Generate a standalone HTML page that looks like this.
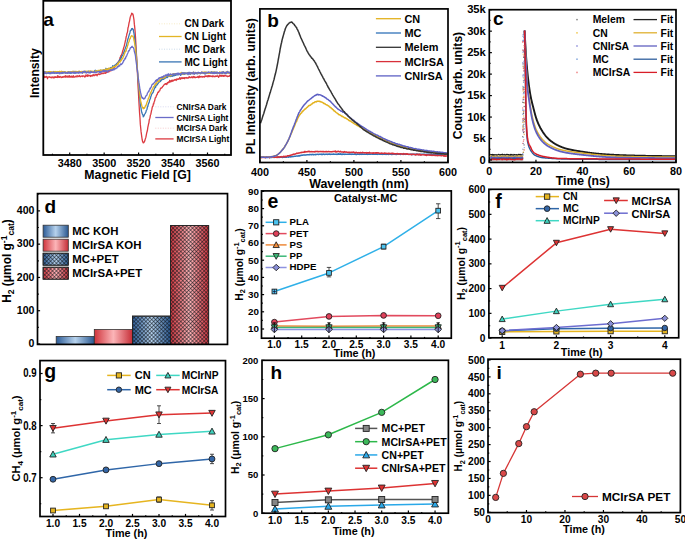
<!DOCTYPE html>
<html><head><meta charset="utf-8"><style>
html,body{margin:0;padding:0;background:#fff;}
svg{display:block;}
text{font-family:"Liberation Sans", sans-serif;fill:#000;}
</style></head><body>
<svg width="685" height="540" viewBox="0 0 685 540">
<rect width="685" height="540" fill="#fff"/>
<path d="M44.1 78.21 L44.47 76.14 L44.85 77.47 L45.22 77.02 L45.59 77.06 L45.96 77.16 L46.34 76.34 L46.71 77.14 L47.08 76.85 L47.46 78.73 L47.83 77.33 L48.2 77.06 L48.58 77.09 L48.95 76.91 L49.32 76.72 L49.69 77.02 L50.07 77.4 L50.44 77.07 L50.81 77.6 L51.19 77.07 L51.56 77.17 L51.93 77.85 L52.3 77.39 L52.68 76.91 L53.05 77.05 L53.42 77.36 L53.8 77.98 L54.17 76.98 L54.54 76.99 L54.92 77.54 L55.29 76.68 L55.66 76.94 L56.03 77.46 L56.41 77.32 L56.78 77.09 L57.15 77.34 L57.53 75.76 L57.9 77.48 L58.27 76.58 L58.64 76.26 L59.02 77.12 L59.39 77.31 L59.76 76.78 L60.14 76.49 L60.51 76.98 L60.88 76.93 L61.26 77.58 L61.63 77.27 L62 77.01 L62.37 77.42 L62.75 76.82 L63.12 76.48 L63.49 77.15 L63.87 77.14 L64.24 76.77 L64.61 76.51 L64.98 76.95 L65.36 75.72 L65.73 77.14 L66.1 77.04 L66.48 76.07 L66.85 76.82 L67.22 76.35 L67.6 77.11 L67.97 75.85 L68.34 76.34 L68.71 77.06 L69.09 77.25 L69.46 75.74 L69.83 76.48 L70.21 76.84 L70.58 76.4 L70.95 77.38 L71.33 76.12 L71.7 76.8 L72.07 76.15 L72.44 77.25 L72.82 76.59 L73.19 76.42 L73.56 75.8 L73.94 77.31 L74.31 76.88 L74.68 76.87 L75.05 77.02 L75.43 76.65 L75.8 76.19 L76.17 76.11 L76.55 76.09 L76.92 77.05 L77.29 75.76 L77.67 76.13 L78.04 76.24 L78.41 76.46 L78.78 76.6 L79.16 75.76 L79.53 75.53 L79.9 76.29 L80.28 76.82 L80.65 76.59 L81.02 76.33 L81.39 76.07 L81.77 76.32 L82.14 76.06 L82.51 76.51 L82.89 75.76 L83.26 76.16 L83.63 76.02 L84.01 76.3 L84.38 76.13 L84.75 77.15 L85.12 76.65 L85.5 76.62 L85.87 75 L86.24 75.74 L86.62 75.59 L86.99 76.08 L87.36 74.78 L87.73 76.31 L88.11 76.23 L88.48 75.13 L88.85 75.24 L89.23 75.29 L89.6 75.63 L89.97 75.87 L90.35 76.46 L90.72 75.42 L91.09 75.81 L91.46 75.5 L91.84 76.18 L92.21 75.68 L92.58 75.92 L92.96 74.78 L93.33 75.13 L93.7 74.8 L94.07 75.8 L94.45 75.37 L94.82 74.88 L95.19 74.77 L95.57 75.13 L95.94 74.54 L96.31 74.38 L96.69 74.96 L97.06 75.79 L97.43 74.51 L97.8 74.31 L98.18 73.96 L98.55 73.82 L98.92 74.59 L99.3 74.66 L99.67 74.2 L100.04 74.27 L100.41 74.09 L100.79 74.02 L101.16 73.18 L101.53 73.57 L101.91 73.74 L102.28 73.24 L102.65 73.27 L103.03 73.02 L103.4 73.13 L103.77 73.55 L104.14 72.87 L104.52 72.86 L104.89 73.17 L105.26 72.96 L105.64 73.3 L106.01 71.45 L106.38 72.63 L106.75 71.88 L107.13 72 L107.5 72.15 L107.87 72.09 L108.25 71.89 L108.62 71.3 L108.99 71.76 L109.37 70.71 L109.74 70.56 L110.11 70.76 L110.48 69.92 L110.86 70.9 L111.23 70.13 L111.6 70.38 L111.98 69.12 L112.35 68.66 L112.72 68.61 L113.09 68.54 L113.47 67.62 L113.84 67.7 L114.21 67.16 L114.59 67.51 L114.96 66.08 L115.33 66.42 L115.71 65.22 L116.08 64.6 L116.45 64.23 L116.82 63.49 L117.2 63.55 L117.57 63.38 L117.94 62.39 L118.32 61.96 L118.69 61.75 L119.06 60.44 L119.44 59.67 L119.81 58.68 L120.18 57.26 L120.55 57.47 L120.93 55.43 L121.3 55.56 L121.67 54.26 L122.05 53.72 L122.42 52.08 L122.79 50.58 L123.16 49.89 L123.54 48.19 L123.91 47.02 L124.28 45.72 L124.66 44.18 L125.03 42.62 L125.4 40.74 L125.78 39.38 L126.15 36.8 L126.52 35.92 L126.89 33.64 L127.27 32.83 L127.64 31.02 L128.01 27.67 L128.39 26.7 L128.76 24.69 L129.13 22.42 L129.5 21.34 L129.88 19.2 L130.25 17.04 L130.62 16.32 L131 15.2 L131.37 14.4 L131.74 13.21 L132.12 13.83 L132.49 14.11 L132.86 13.98 L133.23 15.47 L133.61 17.61 L133.98 19.91 L134.35 24.15 L134.73 27.36 L135.1 31.4 L135.47 36.76 L135.84 42.97 L136.22 50.47 L136.59 56.27 L136.96 63.68 L137.34 71.36 L137.71 78.63 L138.08 86.99 L138.46 92.89 L138.83 100.38 L139.2 106.67 L139.57 112.99 L139.95 117.79 L140.32 124.16 L140.69 127.76 L141.07 131.66 L141.44 134.43 L141.81 137.12 L142.18 139.72 L142.56 141.37 L142.93 142.21 L143.3 142.9 L143.68 142.73 L144.05 142.11 L144.42 141.83 L144.8 140.81 L145.17 139.34 L145.54 138.37 L145.91 137.13 L146.29 135.04 L146.66 133.06 L147.03 131.77 L147.41 130.49 L147.78 127.7 L148.15 125.91 L148.52 124.05 L148.9 122.85 L149.27 119.69 L149.64 118.94 L150.02 117.61 L150.39 115.05 L150.76 114.49 L151.14 112.51 L151.51 110.53 L151.88 109.43 L152.25 107.26 L152.63 106.37 L153 106.18 L153.37 103.74 L153.75 103.81 L154.12 101.83 L154.49 101.25 L154.86 99.8 L155.24 97.8 L155.61 97.63 L155.98 97.09 L156.36 95.64 L156.73 94.75 L157.1 94.76 L157.48 93.57 L157.85 92.4 L158.22 92.19 L158.59 92.25 L158.97 91.04 L159.34 91.1 L159.71 90.81 L160.09 89.62 L160.46 88.59 L160.83 88.03 L161.21 88.15 L161.58 88.12 L161.95 87.42 L162.32 87.15 L162.7 86.32 L163.07 86.29 L163.44 85.59 L163.82 85.32 L164.19 84.56 L164.56 84.13 L164.93 84.32 L165.31 83.76 L165.68 83.56 L166.05 84.03 L166.43 83.43 L166.8 84.55 L167.17 83.43 L167.55 82.5 L167.92 82.93 L168.29 82.53 L168.66 81.87 L169.04 82.49 L169.41 81.46 L169.78 80.26 L170.16 81.82 L170.53 81.03 L170.9 81.82 L171.27 80.71 L171.65 80.32 L172.02 81.41 L172.39 80.1 L172.77 80.54 L173.14 80.98 L173.51 80.26 L173.89 80.05 L174.26 80.02 L174.63 80.25 L175 79.4 L175.38 79.94 L175.75 79.82 L176.12 80.52 L176.5 79.22 L176.87 78.88 L177.24 79.53 L177.61 78.94 L177.99 79.17 L178.36 79.02 L178.73 79.41 L179.11 78.51 L179.48 78.7 L179.85 77.52 L180.23 78.2 L180.6 79.23 L180.97 78.17 L181.34 78.1 L181.72 77.8 L182.09 78.55 L182.46 78.32 L182.84 77.65 L183.21 78.43 L183.58 78.19 L183.95 78.37 L184.33 77.69 L184.7 78.71 L185.07 78.07 L185.45 77.78 L185.82 77.56 L186.19 77.64 L186.57 78.09 L186.94 77.55 L187.31 78.11 L187.68 77.85 L188.06 78.16 L188.43 77.88 L188.8 77.45 L189.18 76.58 L189.55 77.54 L189.92 77.73 L190.29 77.42 L190.67 77.56 L191.04 77.07 L191.41 77.08 L191.79 76.79 L192.16 77.8 L192.53 77.23 L192.91 76.91 L193.28 76.51 L193.65 77.01 L194.02 77.7 L194.4 77.23 L194.77 76.67 L195.14 77.62 L195.52 77.6 L195.89 77.37 L196.26 77.26 L196.63 77.4 L197.01 77.1 L197.38 77.19 L197.75 76.47 L198.13 77.47 L198.5 76.88 L198.87 77.67 L199.25 75.82 L199.62 77.03 L199.99 77.14 L200.36 76.52 L200.74 76.86 L201.11 76.98 L201.48 76.88 L201.86 76.36 L202.23 76.53 L202.6 77.03 L202.97 77.13 L203.35 76.58 L203.72 76.56 L204.09 76.6 L204.47 76.96 L204.84 76 L205.21 75.86 L205.59 76.5 L205.96 75.93 L206.33 76.15 L206.7 76.44 L207.08 76.61 L207.45 75.89 L207.82 76.72 L208.2 75.55 L208.57 76.58 L208.94 75.61 L209.32 75.74 L209.69 76.59 L210.06 76.1 L210.43 75.91 L210.81 76.06 L211.18 76.46 L211.55 76.21 L211.93 76.21 L212.3 76.69 L212.67 75.88 L213.04 75.98 L213.42 75.94 L213.79 76.69 L214.16 76.6 L214.54 76.73 L214.91 76.12 L215.28 76.05 L215.66 76.5 L216.03 75.93 L216.4 76.47 L216.77 76.41 L217.15 75.76 L217.52 76.03 L217.89 76 L218.27 76.83 L218.64 77.2 L219.01 75.98 L219.38 76.02 L219.76 74.98 L220.13 76.09 L220.5 75.99 L220.88 75.5 L221.25 76.33 L221.62 75.26 L222 75.86 L222.37 76.01 L222.74 75.38 L223.11 76.31 L223.49 76.4 L223.86 75.29 L224.23 75.27 L224.61 76.17 L224.98 75.87 L225.35 75.33 L225.72 75.74 L226.1 75.82 L226.47 75.79 L226.84 76.22 L227.22 76.01 L227.59 76.63 L227.96 76.44 L228.34 76.12 L228.71 76.3 L229.08 76.4 L229.45 76.11 L229.83 75.24 L230.2 76.17" fill="none" stroke="#dc3a40" stroke-width="1.3" stroke-linejoin="round" />
<path d="M44.1 72.37 L44.47 72.58 L44.85 73.4 L45.22 72.95 L45.59 71.91 L45.96 72.65 L46.34 72.37 L46.71 72.71 L47.08 71.92 L47.46 72.75 L47.83 72.74 L48.2 73.34 L48.58 72.77 L48.95 72.86 L49.32 71.95 L49.69 73.64 L50.07 71.76 L50.44 73.11 L50.81 72.47 L51.19 72.22 L51.56 72.31 L51.93 72.3 L52.3 72.77 L52.68 72.55 L53.05 73.26 L53.42 71.77 L53.8 72.59 L54.17 72.19 L54.54 72.93 L54.92 71.63 L55.29 72.42 L55.66 72.67 L56.03 71.9 L56.41 73.01 L56.78 72.64 L57.15 73.01 L57.53 72.99 L57.9 72.11 L58.27 72.19 L58.64 72.45 L59.02 72.88 L59.39 72.92 L59.76 72.22 L60.14 72.26 L60.51 72.17 L60.88 72.26 L61.26 72.41 L61.63 72.45 L62 73.44 L62.37 72.28 L62.75 72.37 L63.12 72.7 L63.49 72.06 L63.87 72.32 L64.24 72.49 L64.61 72.83 L64.98 71.88 L65.36 73.08 L65.73 72.3 L66.1 72.53 L66.48 72.83 L66.85 72.74 L67.22 72.92 L67.6 72.51 L67.97 72.42 L68.34 72.57 L68.71 71.97 L69.09 72.96 L69.46 72.06 L69.83 71.83 L70.21 73.32 L70.58 72.32 L70.95 71.85 L71.33 73.21 L71.7 72.22 L72.07 72.84 L72.44 71.98 L72.82 72.23 L73.19 71.58 L73.56 71.47 L73.94 71.88 L74.31 72.28 L74.68 72.66 L75.05 73.39 L75.43 71.82 L75.8 72.73 L76.17 72 L76.55 72.19 L76.92 71.58 L77.29 71.58 L77.67 71.88 L78.04 71.68 L78.41 72.21 L78.78 71.88 L79.16 72.75 L79.53 72.25 L79.9 72.24 L80.28 72.67 L80.65 72.38 L81.02 72.12 L81.39 72.08 L81.77 72.05 L82.14 72.58 L82.51 72.43 L82.89 72.23 L83.26 72.41 L83.63 71.8 L84.01 72.26 L84.38 71.38 L84.75 72.6 L85.12 72.02 L85.5 72.05 L85.87 72.22 L86.24 71.93 L86.62 71.8 L86.99 72.43 L87.36 71.93 L87.73 71.44 L88.11 72.03 L88.48 71.05 L88.85 72.54 L89.23 71.7 L89.6 71.77 L89.97 72.75 L90.35 72.68 L90.72 71.74 L91.09 71.94 L91.46 72.12 L91.84 72.37 L92.21 71.52 L92.58 71.62 L92.96 72.08 L93.33 71.62 L93.7 71.81 L94.07 71.71 L94.45 70.89 L94.82 70.98 L95.19 70.15 L95.57 71.18 L95.94 71.87 L96.31 70.73 L96.69 71.74 L97.06 71.6 L97.43 71.08 L97.8 71.06 L98.18 71.06 L98.55 70.59 L98.92 70.8 L99.3 70.86 L99.67 71.1 L100.04 71.13 L100.41 70.38 L100.79 71.03 L101.16 70.25 L101.53 70.47 L101.91 70.64 L102.28 70.4 L102.65 70.29 L103.03 70.4 L103.4 69.95 L103.77 69.83 L104.14 69.95 L104.52 70.4 L104.89 69.83 L105.26 70.65 L105.64 69.79 L106.01 68.26 L106.38 69.3 L106.75 70.15 L107.13 69.29 L107.5 68.98 L107.87 68.66 L108.25 69.53 L108.62 69.26 L108.99 68.97 L109.37 68.72 L109.74 69.03 L110.11 68.6 L110.48 67.52 L110.86 68.25 L111.23 67.8 L111.6 67.5 L111.98 67.7 L112.35 67.17 L112.72 65.62 L113.09 67.42 L113.47 66.96 L113.84 66.19 L114.21 65.83 L114.59 65.83 L114.96 64.87 L115.33 65.29 L115.71 64.74 L116.08 64.36 L116.45 63.76 L116.82 63.52 L117.2 63.94 L117.57 63.65 L117.94 62.86 L118.32 62.17 L118.69 61.33 L119.06 61.56 L119.44 61.45 L119.81 59.46 L120.18 60.15 L120.55 58.05 L120.93 58.24 L121.3 57.9 L121.67 56.42 L122.05 55.62 L122.42 55.61 L122.79 55.11 L123.16 53.66 L123.54 53.58 L123.91 51.69 L124.28 51.86 L124.66 50.1 L125.03 49.08 L125.4 48.15 L125.78 46.86 L126.15 46.36 L126.52 45.29 L126.89 43.28 L127.27 41.67 L127.64 39.9 L128.01 38.76 L128.39 37.78 L128.76 36.41 L129.13 35.14 L129.5 33.92 L129.88 32.95 L130.25 31.03 L130.62 30.21 L131 30.35 L131.37 29.59 L131.74 28.56 L132.12 29.24 L132.49 28.51 L132.86 29.21 L133.23 29.39 L133.61 31.91 L133.98 33.28 L134.35 36.01 L134.73 38.57 L135.1 41.5 L135.47 45.21 L135.84 49.78 L136.22 53.68 L136.59 58.51 L136.96 63.69 L137.34 69.27 L137.71 74.48 L138.08 79.69 L138.46 83.47 L138.83 88.58 L139.2 91.99 L139.57 96.54 L139.95 99.98 L140.32 104 L140.69 106.39 L141.07 108.41 L141.44 110.97 L141.81 112.56 L142.18 113.58 L142.56 114.54 L142.93 114.87 L143.3 116.85 L143.68 115.71 L144.05 115.88 L144.42 114.51 L144.8 113.95 L145.17 113.62 L145.54 112.75 L145.91 112.2 L146.29 110.34 L146.66 109.92 L147.03 109.21 L147.41 106.93 L147.78 106.56 L148.15 104.52 L148.52 103.91 L148.9 102.74 L149.27 102.2 L149.64 99.97 L150.02 99.25 L150.39 98.57 L150.76 96.53 L151.14 96.05 L151.51 94.69 L151.88 93.83 L152.25 93.55 L152.63 92.7 L153 92.72 L153.37 91.39 L153.75 90.59 L154.12 89.21 L154.49 88.46 L154.86 88 L155.24 86.28 L155.61 87.45 L155.98 85.83 L156.36 85.11 L156.73 84.85 L157.1 84.96 L157.48 84.65 L157.85 83.46 L158.22 83.4 L158.59 82.76 L158.97 81.95 L159.34 82.1 L159.71 81.68 L160.09 80.63 L160.46 81.49 L160.83 79.98 L161.21 80.49 L161.58 79.63 L161.95 79.47 L162.32 79.26 L162.7 79.64 L163.07 78.52 L163.44 78.78 L163.82 79.34 L164.19 78.12 L164.56 78.22 L164.93 78.35 L165.31 77.6 L165.68 77.9 L166.05 77.22 L166.43 77.68 L166.8 77.24 L167.17 76.64 L167.55 77.55 L167.92 76.74 L168.29 76.52 L168.66 76.11 L169.04 76.19 L169.41 76.24 L169.78 76.25 L170.16 76.56 L170.53 75.37 L170.9 75.71 L171.27 76.31 L171.65 75.76 L172.02 75.77 L172.39 76.22 L172.77 75.57 L173.14 75.55 L173.51 75.25 L173.89 75.99 L174.26 75.59 L174.63 74.73 L175 75.23 L175.38 74.4 L175.75 75.35 L176.12 75.1 L176.5 74.67 L176.87 74.5 L177.24 73.82 L177.61 74.92 L177.99 74.47 L178.36 74.33 L178.73 74.75 L179.11 74.08 L179.48 74.07 L179.85 73.98 L180.23 73.64 L180.6 75.29 L180.97 74.08 L181.34 73.97 L181.72 74.5 L182.09 72.64 L182.46 74.01 L182.84 73.99 L183.21 73.52 L183.58 74.13 L183.95 72.98 L184.33 73.86 L184.7 74.22 L185.07 72.79 L185.45 73.11 L185.82 73.66 L186.19 73.69 L186.57 73.37 L186.94 73.8 L187.31 73.71 L187.68 72.97 L188.06 73.51 L188.43 72.95 L188.8 72.57 L189.18 72.39 L189.55 73.91 L189.92 73.37 L190.29 74.29 L190.67 72.73 L191.04 73.21 L191.41 73.5 L191.79 73.27 L192.16 73.54 L192.53 73.36 L192.91 73.01 L193.28 72.22 L193.65 72.83 L194.02 74.02 L194.4 73.57 L194.77 73.83 L195.14 72.94 L195.52 73.1 L195.89 72.78 L196.26 73.34 L196.63 73.18 L197.01 73.35 L197.38 73.93 L197.75 72.75 L198.13 73.44 L198.5 72.47 L198.87 73.59 L199.25 72.88 L199.62 73.04 L199.99 73.12 L200.36 73.79 L200.74 73.02 L201.11 72.81 L201.48 72.49 L201.86 73.13 L202.23 72.62 L202.6 72.77 L202.97 72.97 L203.35 73.28 L203.72 72.64 L204.09 73.26 L204.47 73.75 L204.84 72.27 L205.21 73.55 L205.59 73.9 L205.96 72.65 L206.33 73.19 L206.7 72.29 L207.08 73.05 L207.45 72.74 L207.82 73.02 L208.2 72.46 L208.57 72.5 L208.94 72.66 L209.32 72.53 L209.69 72.57 L210.06 72.75 L210.43 72.33 L210.81 72.76 L211.18 73.03 L211.55 71.77 L211.93 72.89 L212.3 72.46 L212.67 72.29 L213.04 72.18 L213.42 72.4 L213.79 72.44 L214.16 72.92 L214.54 72.19 L214.91 73.22 L215.28 72.38 L215.66 73.05 L216.03 73.23 L216.4 72.19 L216.77 73.22 L217.15 73.72 L217.52 72.54 L217.89 73 L218.27 72.68 L218.64 72.78 L219.01 72.66 L219.38 72.51 L219.76 73.07 L220.13 73.14 L220.5 72.74 L220.88 73.42 L221.25 73.23 L221.62 73.05 L222 72.41 L222.37 73.59 L222.74 73.32 L223.11 71.76 L223.49 72.22 L223.86 72.51 L224.23 73.14 L224.61 73.28 L224.98 72.58 L225.35 72.82 L225.72 73.02 L226.1 72.13 L226.47 72.97 L226.84 72.56 L227.22 72.78 L227.59 72.68 L227.96 72.16 L228.34 72.24 L228.71 72.71 L229.08 72.75 L229.45 72.57 L229.83 73.16 L230.2 72.52" fill="none" stroke="#3a76b4" stroke-width="1.3" stroke-linejoin="round" />
<path d="M44.1 71.82 L44.47 71.59 L44.85 72.07 L45.22 72.37 L45.59 72.69 L45.96 72.23 L46.34 71.93 L46.71 71.82 L47.08 72.51 L47.46 72.91 L47.83 72.29 L48.2 71.61 L48.58 71.74 L48.95 72.88 L49.32 72.25 L49.69 71.38 L50.07 72.12 L50.44 71.63 L50.81 71.87 L51.19 71.93 L51.56 71.83 L51.93 72.4 L52.3 72.12 L52.68 71.88 L53.05 72.33 L53.42 72.52 L53.8 71.4 L54.17 72.02 L54.54 71.69 L54.92 72.06 L55.29 71.55 L55.66 72.14 L56.03 72.11 L56.41 71.99 L56.78 71.65 L57.15 71.94 L57.53 71.63 L57.9 71.51 L58.27 72.21 L58.64 71.61 L59.02 72.63 L59.39 72.43 L59.76 71.2 L60.14 72.22 L60.51 71.6 L60.88 72.11 L61.26 72.11 L61.63 71.19 L62 71.98 L62.37 71.97 L62.75 72.51 L63.12 71.54 L63.49 72.4 L63.87 71.57 L64.24 71.91 L64.61 71.68 L64.98 72.71 L65.36 72.31 L65.73 73.14 L66.1 72.33 L66.48 72.42 L66.85 72.42 L67.22 71.76 L67.6 72 L67.97 72.63 L68.34 71.84 L68.71 72.1 L69.09 72 L69.46 72.28 L69.83 71.84 L70.21 71.93 L70.58 72.1 L70.95 72.03 L71.33 71.59 L71.7 72.38 L72.07 71.39 L72.44 71.43 L72.82 71.38 L73.19 72.39 L73.56 71.79 L73.94 71.51 L74.31 71.43 L74.68 72.12 L75.05 71.45 L75.43 71.34 L75.8 72.19 L76.17 71.36 L76.55 71.75 L76.92 71.89 L77.29 71.68 L77.67 71.85 L78.04 72.47 L78.41 71.63 L78.78 71.28 L79.16 71.02 L79.53 71.74 L79.9 71.67 L80.28 71.93 L80.65 71.6 L81.02 71.58 L81.39 71.46 L81.77 71.54 L82.14 71.84 L82.51 71.59 L82.89 71.79 L83.26 72.59 L83.63 71.94 L84.01 71 L84.38 72.48 L84.75 71.84 L85.12 71.25 L85.5 72.07 L85.87 71.66 L86.24 71.36 L86.62 71.34 L86.99 71.16 L87.36 71.61 L87.73 72.06 L88.11 71.41 L88.48 71.73 L88.85 72.37 L89.23 70.96 L89.6 71.61 L89.97 71.34 L90.35 70.98 L90.72 70.98 L91.09 71.41 L91.46 71.59 L91.84 71.14 L92.21 71.38 L92.58 71.66 L92.96 71.44 L93.33 71.68 L93.7 71.47 L94.07 71.45 L94.45 72.03 L94.82 71.46 L95.19 71.21 L95.57 71.44 L95.94 70.68 L96.31 70.91 L96.69 71.39 L97.06 71.28 L97.43 71.66 L97.8 70.94 L98.18 70.24 L98.55 71.73 L98.92 71.31 L99.3 70.3 L99.67 71.36 L100.04 70.71 L100.41 69.83 L100.79 70.41 L101.16 70.32 L101.53 71.22 L101.91 70.1 L102.28 70.28 L102.65 70.22 L103.03 70.11 L103.4 69.81 L103.77 70.26 L104.14 70.58 L104.52 70.31 L104.89 69.54 L105.26 69.37 L105.64 69.86 L106.01 69.41 L106.38 69.36 L106.75 68.8 L107.13 70.35 L107.5 69.79 L107.87 68.84 L108.25 69.59 L108.62 69.68 L108.99 67.89 L109.37 68.6 L109.74 68.55 L110.11 68.89 L110.48 68.41 L110.86 68.22 L111.23 68.16 L111.6 68.87 L111.98 68.84 L112.35 67.47 L112.72 67.12 L113.09 68.56 L113.47 66.72 L113.84 66.7 L114.21 66.77 L114.59 66.75 L114.96 66.76 L115.33 66.23 L115.71 65.4 L116.08 65.76 L116.45 65.36 L116.82 65.79 L117.2 64.63 L117.57 63.71 L117.94 63.49 L118.32 64.25 L118.69 62.97 L119.06 61.86 L119.44 62.13 L119.81 61.94 L120.18 62 L120.55 60.52 L120.93 60.75 L121.3 60.26 L121.67 59.01 L122.05 58.63 L122.42 58.87 L122.79 58.18 L123.16 57.09 L123.54 56.11 L123.91 55.7 L124.28 54.31 L124.66 53.49 L125.03 52.26 L125.4 51.73 L125.78 50.74 L126.15 51.03 L126.52 48.68 L126.89 48.29 L127.27 47.24 L127.64 45.48 L128.01 44.99 L128.39 42.38 L128.76 42.31 L129.13 41.58 L129.5 39.08 L129.88 38.65 L130.25 38.75 L130.62 37.35 L131 36.29 L131.37 36.09 L131.74 35.68 L132.12 36.12 L132.49 36.14 L132.86 36.22 L133.23 36.79 L133.61 38.16 L133.98 40.24 L134.35 41.66 L134.73 44.05 L135.1 46.35 L135.47 48.89 L135.84 52.56 L136.22 56.91 L136.59 60.67 L136.96 64.43 L137.34 68.46 L137.71 73.53 L138.08 77.32 L138.46 81.22 L138.83 85 L139.2 88.86 L139.57 92.2 L139.95 95.56 L140.32 98.3 L140.69 100.91 L141.07 102.76 L141.44 104 L141.81 105.55 L142.18 106.9 L142.56 107.33 L142.93 108.24 L143.3 108.77 L143.68 107.93 L144.05 107.32 L144.42 108.31 L144.8 107.28 L145.17 106.97 L145.54 105.32 L145.91 105.88 L146.29 104.56 L146.66 103.24 L147.03 102.17 L147.41 101.39 L147.78 100.26 L148.15 99.21 L148.52 97.83 L148.9 97.92 L149.27 96.36 L149.64 95.46 L150.02 94.55 L150.39 92.54 L150.76 92.97 L151.14 91.74 L151.51 90.95 L151.88 90.33 L152.25 89.11 L152.63 89.2 L153 87.82 L153.37 87.06 L153.75 86.45 L154.12 86.3 L154.49 85.99 L154.86 84.84 L155.24 83.9 L155.61 84.55 L155.98 83.11 L156.36 83.67 L156.73 82.68 L157.1 81.97 L157.48 81.6 L157.85 81.72 L158.22 81.55 L158.59 80.71 L158.97 80.9 L159.34 81.1 L159.71 79.77 L160.09 79.06 L160.46 78.83 L160.83 78.42 L161.21 78.51 L161.58 78.24 L161.95 77.74 L162.32 78.36 L162.7 76.74 L163.07 77.12 L163.44 78.43 L163.82 77.81 L164.19 77.41 L164.56 77.21 L164.93 77.64 L165.31 76.94 L165.68 76.59 L166.05 75.86 L166.43 76.24 L166.8 75.82 L167.17 75.71 L167.55 75.59 L167.92 75.77 L168.29 75.54 L168.66 75.97 L169.04 74.88 L169.41 75.31 L169.78 76.13 L170.16 75.22 L170.53 75.65 L170.9 75.54 L171.27 75.55 L171.65 75.21 L172.02 74.18 L172.39 74.61 L172.77 74.49 L173.14 73.9 L173.51 74.32 L173.89 73.91 L174.26 73.66 L174.63 74.45 L175 74.28 L175.38 73.94 L175.75 73.77 L176.12 73.9 L176.5 73.92 L176.87 73.87 L177.24 73.98 L177.61 73.77 L177.99 74.1 L178.36 74.12 L178.73 74 L179.11 73.5 L179.48 73.49 L179.85 73.93 L180.23 73.61 L180.6 73.64 L180.97 72.51 L181.34 72.38 L181.72 73.72 L182.09 73.69 L182.46 74.14 L182.84 73.81 L183.21 73.56 L183.58 73.44 L183.95 72.76 L184.33 73.78 L184.7 73.08 L185.07 73.56 L185.45 73.4 L185.82 73.41 L186.19 73.67 L186.57 73.03 L186.94 73.05 L187.31 72.82 L187.68 73.02 L188.06 73.92 L188.43 72.99 L188.8 73.67 L189.18 73.49 L189.55 73.43 L189.92 73.45 L190.29 72.61 L190.67 73.22 L191.04 73.75 L191.41 72.71 L191.79 72.99 L192.16 72.69 L192.53 73.12 L192.91 72.48 L193.28 73.68 L193.65 72.77 L194.02 72.24 L194.4 73.73 L194.77 73.34 L195.14 73.13 L195.52 73.13 L195.89 72.71 L196.26 72.76 L196.63 73.18 L197.01 73.26 L197.38 73.25 L197.75 72.92 L198.13 72.61 L198.5 72.72 L198.87 73.3 L199.25 73.44 L199.62 72.63 L199.99 72.56 L200.36 73.33 L200.74 73.08 L201.11 73.06 L201.48 72.15 L201.86 72.57 L202.23 72.5 L202.6 72.81 L202.97 71.95 L203.35 73.28 L203.72 72.83 L204.09 72.89 L204.47 72.15 L204.84 72.67 L205.21 73.27 L205.59 71.96 L205.96 72.8 L206.33 72.97 L206.7 72.34 L207.08 73.01 L207.45 72.49 L207.82 73.19 L208.2 72.87 L208.57 72.73 L208.94 73.52 L209.32 72.99 L209.69 73.2 L210.06 72.07 L210.43 72.31 L210.81 72.97 L211.18 73 L211.55 72.56 L211.93 72.93 L212.3 72.1 L212.67 72.67 L213.04 72.06 L213.42 72.72 L213.79 72.35 L214.16 72.27 L214.54 72.58 L214.91 73.37 L215.28 72.09 L215.66 72.28 L216.03 73.02 L216.4 72.35 L216.77 73.33 L217.15 72.63 L217.52 72.57 L217.89 72.69 L218.27 73.31 L218.64 72.82 L219.01 72.75 L219.38 72.63 L219.76 71.81 L220.13 72.11 L220.5 73.17 L220.88 72.87 L221.25 72.73 L221.62 72.78 L222 72.25 L222.37 72.65 L222.74 72.09 L223.11 72.66 L223.49 72.16 L223.86 72.39 L224.23 72.69 L224.61 72.33 L224.98 72.77 L225.35 72.68 L225.72 72.63 L226.1 73.07 L226.47 71.8 L226.84 71.75 L227.22 72.74 L227.59 72.89 L227.96 73.37 L228.34 72.8 L228.71 72.83 L229.08 72.06 L229.45 72.79 L229.83 72.75 L230.2 71.97" fill="none" stroke="#e3b525" stroke-width="1.3" stroke-linejoin="round" />
<path d="M44.1 73.39 L44.47 73.71 L44.85 71.76 L45.22 72.85 L45.59 73.36 L45.96 73.51 L46.34 73.2 L46.71 73.58 L47.08 73.03 L47.46 73.15 L47.83 72.98 L48.2 72.41 L48.58 72.51 L48.95 73.06 L49.32 72.63 L49.69 73.46 L50.07 73.46 L50.44 73.69 L50.81 72.87 L51.19 73.5 L51.56 72.47 L51.93 72.5 L52.3 72.9 L52.68 72.99 L53.05 72.14 L53.42 72.08 L53.8 73.02 L54.17 72.47 L54.54 73.4 L54.92 73.03 L55.29 72.99 L55.66 72.94 L56.03 73.25 L56.41 72.77 L56.78 73.33 L57.15 72.6 L57.53 72.73 L57.9 72.52 L58.27 73.1 L58.64 72.84 L59.02 72.43 L59.39 73.72 L59.76 72.65 L60.14 72.76 L60.51 72.99 L60.88 73.59 L61.26 72.74 L61.63 73.12 L62 72.84 L62.37 72.13 L62.75 73.15 L63.12 73.25 L63.49 72.67 L63.87 72.77 L64.24 72.1 L64.61 72.09 L64.98 72.59 L65.36 73.05 L65.73 72.55 L66.1 72.89 L66.48 73.19 L66.85 72.79 L67.22 73 L67.6 73.39 L67.97 72.18 L68.34 73.07 L68.71 71.88 L69.09 72.92 L69.46 72.81 L69.83 72.47 L70.21 72.23 L70.58 72.68 L70.95 72.52 L71.33 72.74 L71.7 72.29 L72.07 72.93 L72.44 72.22 L72.82 72.54 L73.19 72.5 L73.56 73.24 L73.94 71.99 L74.31 72.47 L74.68 73.19 L75.05 72.35 L75.43 72.08 L75.8 72.76 L76.17 72.5 L76.55 73 L76.92 72.2 L77.29 72.7 L77.67 72.9 L78.04 73.06 L78.41 72.09 L78.78 73.23 L79.16 72.17 L79.53 71.89 L79.9 72.13 L80.28 72.63 L80.65 72.4 L81.02 72.74 L81.39 72.76 L81.77 72.67 L82.14 72.4 L82.51 73.32 L82.89 71.5 L83.26 71.71 L83.63 72.25 L84.01 71.91 L84.38 71.31 L84.75 72.1 L85.12 72.11 L85.5 71.33 L85.87 72.81 L86.24 73 L86.62 72.96 L86.99 72.16 L87.36 72.44 L87.73 71.86 L88.11 72.45 L88.48 72.04 L88.85 72.51 L89.23 72.16 L89.6 72.77 L89.97 72.66 L90.35 72.83 L90.72 71.54 L91.09 71.43 L91.46 72.41 L91.84 71.95 L92.21 72.38 L92.58 72.31 L92.96 72.24 L93.33 72.56 L93.7 72.38 L94.07 72.32 L94.45 71.68 L94.82 72.84 L95.19 72.1 L95.57 72.52 L95.94 72.15 L96.31 72.55 L96.69 72.02 L97.06 72.03 L97.43 71.97 L97.8 71.56 L98.18 71.6 L98.55 71.76 L98.92 71.74 L99.3 71.32 L99.67 72.8 L100.04 71.26 L100.41 71.53 L100.79 72.74 L101.16 71.31 L101.53 71.91 L101.91 71.82 L102.28 71.39 L102.65 70.8 L103.03 70.71 L103.4 71.36 L103.77 71.5 L104.14 70.3 L104.52 71.29 L104.89 70.87 L105.26 71.52 L105.64 71.14 L106.01 70.64 L106.38 70.75 L106.75 70.9 L107.13 71.42 L107.5 72.12 L107.87 70.84 L108.25 70.66 L108.62 70.85 L108.99 70.47 L109.37 70.68 L109.74 70.49 L110.11 70.22 L110.48 69.77 L110.86 70.1 L111.23 70.33 L111.6 69.85 L111.98 70.39 L112.35 70.01 L112.72 69.4 L113.09 70.11 L113.47 68.69 L113.84 69.58 L114.21 69.74 L114.59 68.63 L114.96 68.53 L115.33 68.83 L115.71 68.87 L116.08 68.23 L116.45 67.94 L116.82 68.03 L117.2 67.51 L117.57 66.62 L117.94 66.83 L118.32 66.65 L118.69 65.71 L119.06 66.27 L119.44 65.46 L119.81 65.8 L120.18 64.46 L120.55 64.37 L120.93 63.75 L121.3 64.59 L121.67 64.17 L122.05 63.83 L122.42 63.38 L122.79 62.64 L123.16 62.13 L123.54 60.44 L123.91 60.8 L124.28 59.85 L124.66 59.32 L125.03 58.28 L125.4 58.77 L125.78 57.57 L126.15 56.13 L126.52 56.3 L126.89 55.28 L127.27 54.08 L127.64 53.63 L128.01 52.63 L128.39 51.15 L128.76 50.71 L129.13 50.86 L129.5 50.04 L129.88 49.3 L130.25 48 L130.62 47.69 L131 47.5 L131.37 47.4 L131.74 46.47 L132.12 46.29 L132.49 47.37 L132.86 47.18 L133.23 47.51 L133.61 48.12 L133.98 49.2 L134.35 51.53 L134.73 52.86 L135.1 54.13 L135.47 55.93 L135.84 59.67 L136.22 62.29 L136.59 64.98 L136.96 67.81 L137.34 69.68 L137.71 73.02 L138.08 76.73 L138.46 79.18 L138.83 82.14 L139.2 84.37 L139.57 86.72 L139.95 89.48 L140.32 91.04 L140.69 92.97 L141.07 94.59 L141.44 95.85 L141.81 97.29 L142.18 98.18 L142.56 97.52 L142.93 98.39 L143.3 98.41 L143.68 99.06 L144.05 98.12 L144.42 98.7 L144.8 98.3 L145.17 97.8 L145.54 96.57 L145.91 96.32 L146.29 95.29 L146.66 95.29 L147.03 94.84 L147.41 93.01 L147.78 92.6 L148.15 92.17 L148.52 91.28 L148.9 91.48 L149.27 90.04 L149.64 89.53 L150.02 88.25 L150.39 88.79 L150.76 87.54 L151.14 87.21 L151.51 86.31 L151.88 84.75 L152.25 84.44 L152.63 84.06 L153 84.35 L153.37 83.43 L153.75 83.4 L154.12 82.9 L154.49 82.46 L154.86 82.36 L155.24 81.65 L155.61 80.46 L155.98 80.55 L156.36 81.27 L156.73 79.73 L157.1 80.52 L157.48 80.36 L157.85 79.08 L158.22 79.24 L158.59 78.2 L158.97 78.94 L159.34 78.02 L159.71 77.56 L160.09 77.77 L160.46 77.54 L160.83 77.3 L161.21 77.47 L161.58 77.13 L161.95 76.74 L162.32 77.31 L162.7 77.83 L163.07 76.62 L163.44 76.14 L163.82 75.88 L164.19 76.46 L164.56 75.96 L164.93 75.97 L165.31 74.95 L165.68 75.23 L166.05 75.12 L166.43 75.97 L166.8 75.33 L167.17 74.24 L167.55 75.49 L167.92 75.7 L168.29 75.7 L168.66 73.77 L169.04 75.03 L169.41 75.26 L169.78 75.1 L170.16 74.65 L170.53 73.88 L170.9 74.44 L171.27 74.43 L171.65 74.78 L172.02 74.75 L172.39 74.3 L172.77 74.74 L173.14 73.84 L173.51 73.96 L173.89 74.21 L174.26 74.43 L174.63 73.99 L175 74.65 L175.38 74.24 L175.75 73.59 L176.12 74.02 L176.5 73.54 L176.87 73.48 L177.24 73.23 L177.61 74.47 L177.99 74.22 L178.36 73.06 L178.73 74.25 L179.11 74.16 L179.48 73.53 L179.85 73.9 L180.23 74.65 L180.6 73.75 L180.97 73.78 L181.34 74.08 L181.72 73.08 L182.09 72.96 L182.46 72.87 L182.84 73.45 L183.21 73.85 L183.58 73.06 L183.95 72.81 L184.33 73.5 L184.7 73.23 L185.07 73.65 L185.45 73.31 L185.82 73.27 L186.19 73.3 L186.57 73.34 L186.94 72.87 L187.31 72.78 L187.68 73.99 L188.06 74.65 L188.43 73.75 L188.8 72.5 L189.18 73.24 L189.55 73.75 L189.92 72.47 L190.29 72.97 L190.67 72.99 L191.04 72.75 L191.41 72.77 L191.79 73.6 L192.16 72.93 L192.53 73.02 L192.91 73.88 L193.28 72.72 L193.65 72.23 L194.02 73.37 L194.4 73.98 L194.77 73.16 L195.14 73.19 L195.52 72.46 L195.89 72.61 L196.26 73.69 L196.63 73.58 L197.01 73.27 L197.38 72.71 L197.75 72.45 L198.13 72.51 L198.5 72.44 L198.87 73.24 L199.25 72.6 L199.62 72.72 L199.99 73.25 L200.36 73.23 L200.74 72.94 L201.11 73.13 L201.48 72.91 L201.86 72.02 L202.23 72.85 L202.6 72.69 L202.97 72.71 L203.35 72.98 L203.72 72.61 L204.09 73.41 L204.47 72.77 L204.84 72.92 L205.21 72.99 L205.59 72.76 L205.96 73.12 L206.33 73.17 L206.7 73.1 L207.08 72.49 L207.45 72.4 L207.82 72.53 L208.2 72.8 L208.57 71.94 L208.94 72.4 L209.32 72.26 L209.69 72.47 L210.06 72.35 L210.43 73.13 L210.81 72.96 L211.18 73.19 L211.55 72.3 L211.93 72.39 L212.3 72.61 L212.67 73.49 L213.04 73.49 L213.42 72.45 L213.79 73.01 L214.16 73.69 L214.54 72.26 L214.91 72.63 L215.28 73.3 L215.66 73.04 L216.03 72.26 L216.4 73.39 L216.77 73.15 L217.15 73.01 L217.52 72.14 L217.89 72.62 L218.27 73.29 L218.64 72.91 L219.01 73.05 L219.38 72.56 L219.76 73.36 L220.13 72.57 L220.5 73.09 L220.88 72.82 L221.25 72.24 L221.62 73.34 L222 72.1 L222.37 72.33 L222.74 72.72 L223.11 72.02 L223.49 71.84 L223.86 72.6 L224.23 72.45 L224.61 72.52 L224.98 72.87 L225.35 73.66 L225.72 72.45 L226.1 73.73 L226.47 72.74 L226.84 72.58 L227.22 71.4 L227.59 71.93 L227.96 72.73 L228.34 72.86 L228.71 72.23 L229.08 72.74 L229.45 73.01 L229.83 72.34 L230.2 71.86" fill="none" stroke="#6a6cc8" stroke-width="1.3" stroke-linejoin="round" />
<rect x="43.3" y="0.8" width="187.7" height="154.2" fill="none" stroke="#000" stroke-width="1.8"/>
<line x1="69.7" y1="155" x2="69.7" y2="152.5" stroke="#000" stroke-width="1.2" />
<line x1="104.15" y1="155" x2="104.15" y2="152.5" stroke="#000" stroke-width="1.2" />
<line x1="138.6" y1="155" x2="138.6" y2="152.5" stroke="#000" stroke-width="1.2" />
<line x1="173.05" y1="155" x2="173.05" y2="152.5" stroke="#000" stroke-width="1.2" />
<line x1="207.5" y1="155" x2="207.5" y2="152.5" stroke="#000" stroke-width="1.2" />
<line x1="52.48" y1="155" x2="52.48" y2="153.7" stroke="#000" stroke-width="1.2" />
<line x1="86.92" y1="155" x2="86.92" y2="153.7" stroke="#000" stroke-width="1.2" />
<line x1="121.38" y1="155" x2="121.38" y2="153.7" stroke="#000" stroke-width="1.2" />
<line x1="155.82" y1="155" x2="155.82" y2="153.7" stroke="#000" stroke-width="1.2" />
<line x1="190.27" y1="155" x2="190.27" y2="153.7" stroke="#000" stroke-width="1.2" />
<line x1="224.73" y1="155" x2="224.73" y2="153.7" stroke="#000" stroke-width="1.2" />
<text x="69.7" y="166.6" font-size="10.8" text-anchor="middle" font-weight="bold" >3480</text>
<text x="104.15" y="166.6" font-size="10.8" text-anchor="middle" font-weight="bold" >3500</text>
<text x="138.6" y="166.6" font-size="10.8" text-anchor="middle" font-weight="bold" >3520</text>
<text x="173.05" y="166.6" font-size="10.8" text-anchor="middle" font-weight="bold" >3540</text>
<text x="207.5" y="166.6" font-size="10.8" text-anchor="middle" font-weight="bold" >3560</text>
<text x="137.6" y="178.6" font-size="12.3" text-anchor="middle" font-weight="bold" >Magnetic Field [G]</text>
<text transform="translate(38.9,73.2) rotate(-90)" font-size="12.1" text-anchor="middle" font-weight="bold" >Intensity</text>
<text x="43.2" y="26.3" font-size="19" text-anchor="start" font-weight="bold" >a</text>
<line x1="159" y1="23.8" x2="181.6" y2="23.8" stroke="#e3b525" stroke-width="1" stroke-dasharray="1 1.5" opacity="0.25"/>
<text x="184.5" y="27.4" font-size="10" text-anchor="start" font-weight="bold" >CN Dark</text>
<line x1="159" y1="36.5" x2="181.6" y2="36.5" stroke="#e3b525" stroke-width="1.3" />
<text x="184.5" y="40.1" font-size="10" text-anchor="start" font-weight="bold" >CN Light</text>
<line x1="159" y1="49.2" x2="181.6" y2="49.2" stroke="#3a76b4" stroke-width="1" stroke-dasharray="1 1.5" opacity="0.25"/>
<text x="184.5" y="52.8" font-size="10" text-anchor="start" font-weight="bold" >MC Dark</text>
<line x1="159" y1="61.9" x2="181.6" y2="61.9" stroke="#3a76b4" stroke-width="1.3" />
<text x="184.5" y="65.5" font-size="10" text-anchor="start" font-weight="bold" >MC Light</text>
<line x1="155.3" y1="106.8" x2="173.6" y2="106.8" stroke="#6a6cc8" stroke-width="1" stroke-dasharray="1 1.5" opacity="0.25"/>
<text x="176.5" y="109.8" font-size="8.4" text-anchor="start" font-weight="bold" >CNIrSA Dark</text>
<line x1="155.3" y1="117.5" x2="173.6" y2="117.5" stroke="#6a6cc8" stroke-width="1.3" />
<text x="176.5" y="120.5" font-size="8.4" text-anchor="start" font-weight="bold" >CNIrSA Light</text>
<line x1="155.3" y1="128.2" x2="173.6" y2="128.2" stroke="#dc3a40" stroke-width="1" stroke-dasharray="1 1.5" opacity="0.25"/>
<text x="176.5" y="131.2" font-size="8.4" text-anchor="start" font-weight="bold" >MCIrSA Dark</text>
<line x1="155.3" y1="138.9" x2="173.6" y2="138.9" stroke="#dc3a40" stroke-width="1.3" />
<text x="176.5" y="141.9" font-size="8.4" text-anchor="start" font-weight="bold" >MCIrSA Light</text>
<path d="M260.5 157.2 L260.97 157.31 L261.44 157.01 L261.9 157.01 L262.37 157.09 L262.84 157.18 L263.31 157.19 L263.78 157.23 L264.25 157.27 L264.71 157.17 L265.18 157.3 L265.65 157.39 L266.12 157.34 L266.59 157.43 L267.05 157.57 L267.52 157.2 L267.99 157.53 L268.46 157.13 L268.93 157.28 L269.4 157.44 L269.86 157.49 L270.33 157.39 L270.8 157.39 L271.27 157.48 L271.74 157.3 L272.2 157.38 L272.67 157.17 L273.14 157.04 L273.61 156.95 L274.08 157.5 L274.55 157.37 L275.01 157.19 L275.48 157.17 L275.95 157.18 L276.42 157.08 L276.89 157.12 L277.35 157.19 L277.82 157.41 L278.29 157.29 L278.76 157.01 L279.23 157.41 L279.69 157.37 L280.16 157.26 L280.63 157.24 L281.1 157.3 L281.57 157.25 L282.04 157.11 L282.5 157.5 L282.97 157.35 L283.44 157.27 L283.91 157.09 L284.38 157.04 L284.84 157.34 L285.31 157.24 L285.78 157.26 L286.25 157.01 L286.72 157.15 L287.19 156.93 L287.65 157.01 L288.12 157.03 L288.59 157.2 L289.06 156.84 L289.53 156.73 L289.99 156.93 L290.46 156.9 L290.93 156.51 L291.4 156.77 L291.87 156.8 L292.34 156.53 L292.8 156.55 L293.27 156.6 L293.74 156.53 L294.21 156.36 L294.68 156.29 L295.14 156.32 L295.61 156.3 L296.08 156.13 L296.55 156 L297.02 156.14 L297.49 156.1 L297.95 156.07 L298.42 155.8 L298.89 156.02 L299.36 156.08 L299.83 155.55 L300.29 155.64 L300.76 155.62 L301.23 155.16 L301.7 155.34 L302.17 155.15 L302.64 155.19 L303.1 155 L303.57 155.06 L304.04 155.05 L304.51 154.97 L304.98 155.14 L305.44 154.89 L305.91 154.96 L306.38 154.89 L306.85 154.76 L307.32 154.72 L307.79 154.83 L308.25 154.78 L308.72 154.82 L309.19 154.5 L309.66 154.67 L310.13 154.58 L310.59 154.6 L311.06 154.68 L311.53 154.8 L312 154.33 L312.47 154.41 L312.94 154.67 L313.4 154.57 L313.87 154.74 L314.34 154.62 L314.81 154.51 L315.28 154.55 L315.74 154.77 L316.21 154.39 L316.68 154.44 L317.15 154.22 L317.62 154.36 L318.08 154.44 L318.55 154.37 L319.02 154.42 L319.49 154.18 L319.96 154.32 L320.43 154.36 L320.89 154.35 L321.36 154.57 L321.83 154.08 L322.3 154.47 L322.77 154.42 L323.23 154.03 L323.7 154.16 L324.17 154.37 L324.64 154.54 L325.11 154.17 L325.58 154.25 L326.04 154.29 L326.51 154.1 L326.98 154.32 L327.45 154.47 L327.92 154.18 L328.38 154.06 L328.85 154.29 L329.32 154.24 L329.79 153.96 L330.26 154.39 L330.73 154.37 L331.19 154.25 L331.66 154.25 L332.13 154.23 L332.6 154.21 L333.07 154.26 L333.53 154.04 L334 154.18 L334.47 154.17 L334.94 154.31 L335.41 154.25 L335.88 154.19 L336.34 154.19 L336.81 154.44 L337.28 154.26 L337.75 154.2 L338.22 153.85 L338.68 154.27 L339.15 154.02 L339.62 154.27 L340.09 154.32 L340.56 153.79 L341.03 154.28 L341.49 154.5 L341.96 154.17 L342.43 154.45 L342.9 154 L343.37 154.05 L343.83 154.28 L344.3 154.08 L344.77 154.44 L345.24 154.38 L345.71 154.09 L346.18 154.26 L346.64 154.37 L347.11 154.32 L347.58 154.35 L348.05 154.18 L348.52 154.12 L348.98 154.31 L349.45 153.99 L349.92 154.22 L350.39 154.3 L350.86 154.08 L351.33 154.13 L351.79 154.42 L352.26 154.09 L352.73 154.21 L353.2 154.21 L353.67 154.27 L354.13 154.1 L354.6 154.27 L355.07 154.01 L355.54 153.96 L356.01 154.55 L356.47 154.48 L356.94 153.97 L357.41 154.18 L357.88 154.08 L358.35 154.2 L358.82 154.23 L359.28 154.14 L359.75 154.42 L360.22 154.05 L360.69 154 L361.16 154.23 L361.62 154.39 L362.09 153.78 L362.56 154.3 L363.03 154.21 L363.5 154.32 L363.97 154.37 L364.43 154.13 L364.9 154.34 L365.37 154.23 L365.84 154.19 L366.31 154.12 L366.77 154.07 L367.24 154.43 L367.71 154.09 L368.18 154.18 L368.65 154.29 L369.12 154 L369.58 154.13 L370.05 154.09 L370.52 154.24 L370.99 154.13 L371.46 154.13 L371.92 154.03 L372.39 154.17 L372.86 154.2 L373.33 154.24 L373.8 154.08 L374.27 154.15 L374.73 154.27 L375.2 154.22 L375.67 153.98 L376.14 154.09 L376.61 154.23 L377.07 154.23 L377.54 154.44 L378.01 154.22 L378.48 154.04 L378.95 154.1 L379.42 154.23 L379.88 154.1 L380.35 154.18 L380.82 154.13 L381.29 154.22 L381.76 154.27 L382.22 154.22 L382.69 154.41 L383.16 153.95 L383.63 154.25 L384.1 154.23 L384.57 154.23 L385.03 154.07 L385.5 154.12 L385.97 154.46 L386.44 154.34 L386.91 154.3 L387.37 154.37 L387.84 154.02 L388.31 154.4 L388.78 154.02 L389.25 154.06 L389.72 154.18 L390.18 154.37 L390.65 154.08 L391.12 154.36 L391.59 154.48 L392.06 154.4 L392.52 154.29 L392.99 154.05 L393.46 154.15 L393.93 154.09 L394.4 154.2 L394.86 154.21 L395.33 154.15 L395.8 154.48 L396.27 154.48 L396.74 154.29 L397.21 154.25 L397.67 154.36 L398.14 154.27 L398.61 153.9 L399.08 154.21 L399.55 154.26 L400.01 154.38 L400.48 154.38 L400.95 154.05 L401.42 154.06 L401.89 154.13 L402.36 154.26 L402.82 153.89 L403.29 154.37 L403.76 154.15 L404.23 154.07 L404.7 154.14 L405.16 154.41 L405.63 154.14 L406.1 154.16 L406.57 154.13 L407.04 154.29 L407.51 154.32 L407.97 154.21 L408.44 154.39 L408.91 154.45 L409.38 154.39 L409.85 154.34 L410.31 154.25 L410.78 154.22 L411.25 154.5 L411.72 154.24 L412.19 154.28 L412.66 154.62 L413.12 154.27 L413.59 154.34 L414.06 154.27 L414.53 154.47 L415 154.2 L415.46 154.3 L415.93 154.44 L416.4 154.06 L416.87 154.41 L417.34 154.12 L417.81 154.35 L418.27 154.55 L418.74 154.25 L419.21 154.51 L419.68 154.59 L420.15 154.3 L420.61 154.51 L421.08 154.34 L421.55 154.39 L422.02 154.24 L422.49 154.2 L422.96 154.33 L423.42 154.45 L423.89 154.16 L424.36 154.19 L424.83 154.45 L425.3 154.44 L425.76 154.39 L426.23 154.23 L426.7 154.45 L427.17 154.4 L427.64 154.13 L428.11 154.17 L428.57 154.49 L429.04 154.29 L429.51 154.56 L429.98 154.64 L430.45 154.24 L430.91 154.68 L431.38 154.31 L431.85 154.39 L432.32 154.53 L432.79 154.63 L433.25 154.42 L433.72 154.45 L434.19 154.29 L434.66 154.58 L435.13 154.55 L435.6 154.56 L436.06 154.2 L436.53 154.54 L437 154.53 L437.47 154.61 L437.94 154.09 L438.4 154.55 L438.87 154.32 L439.34 154.44 L439.81 154.42 L440.28 154.26 L440.75 154.55 L441.21 154.8 L441.68 154.7 L442.15 154.62 L442.62 154.58 L443.09 154.48 L443.55 154.39 L444.02 154.43 L444.49 154.51 L444.96 154.34 L445.43 154.31 L445.9 154.25 L446.36 154.37 L446.83 154.56 L447.3 154.75" fill="none" stroke="#2f72b8" stroke-width="1.5" stroke-linejoin="round" />
<path d="M260.5 157.34 L260.97 157.71 L261.44 157.55 L261.9 157.5 L262.37 157.42 L262.84 157 L263.31 157.41 L263.78 157.61 L264.25 157.25 L264.71 157.46 L265.18 157.71 L265.65 157.47 L266.12 157.22 L266.59 156.82 L267.05 157.13 L267.52 157.32 L267.99 157.24 L268.46 157.31 L268.93 157.23 L269.4 157.69 L269.86 157.25 L270.33 157.34 L270.8 157.15 L271.27 157.05 L271.74 157.35 L272.2 157.2 L272.67 156.96 L273.14 157.17 L273.61 157.02 L274.08 157.2 L274.55 157.35 L275.01 157.33 L275.48 157.36 L275.95 156.94 L276.42 157.09 L276.89 157.49 L277.35 156.81 L277.82 157.27 L278.29 157.18 L278.76 156.87 L279.23 156.87 L279.69 157.06 L280.16 156.97 L280.63 156.74 L281.1 156.62 L281.57 157.07 L282.04 156.97 L282.5 156.84 L282.97 156.68 L283.44 156.44 L283.91 156.31 L284.38 156.85 L284.84 156.44 L285.31 156.62 L285.78 156.23 L286.25 156.45 L286.72 156.33 L287.19 156.05 L287.65 155.65 L288.12 155.67 L288.59 155.76 L289.06 155.77 L289.53 155.63 L289.99 155.32 L290.46 155.52 L290.93 155.08 L291.4 155.04 L291.87 154.85 L292.34 154.51 L292.8 154.7 L293.27 154.46 L293.74 154.12 L294.21 154.3 L294.68 154.1 L295.14 153.99 L295.61 154 L296.08 153.7 L296.55 153.29 L297.02 153.11 L297.49 153.4 L297.95 153.56 L298.42 153.07 L298.89 153.01 L299.36 153.07 L299.83 152.8 L300.29 152.72 L300.76 152.58 L301.23 152.35 L301.7 152.63 L302.17 152.4 L302.64 152.34 L303.1 152.08 L303.57 152.15 L304.04 152.48 L304.51 152.18 L304.98 151.31 L305.44 151.98 L305.91 151.93 L306.38 151.75 L306.85 151.68 L307.32 151.6 L307.79 151.74 L308.25 151.46 L308.72 151.3 L309.19 151.76 L309.66 151.36 L310.13 151.73 L310.59 151.74 L311.06 151.8 L311.53 151.54 L312 151.63 L312.47 151.71 L312.94 151.61 L313.4 151.72 L313.87 151.64 L314.34 151.92 L314.81 151.55 L315.28 151.75 L315.74 151.51 L316.21 151.6 L316.68 151.4 L317.15 151.45 L317.62 151.72 L318.08 151.43 L318.55 151.8 L319.02 151.64 L319.49 151.61 L319.96 151.52 L320.43 151.43 L320.89 151.69 L321.36 151.66 L321.83 151.5 L322.3 151.49 L322.77 151.81 L323.23 151.68 L323.7 151.46 L324.17 151.76 L324.64 151.86 L325.11 151.67 L325.58 151.84 L326.04 151.41 L326.51 151.51 L326.98 151.68 L327.45 151.64 L327.92 151.8 L328.38 151.44 L328.85 151.48 L329.32 151.66 L329.79 151.67 L330.26 151.73 L330.73 151.71 L331.19 151.88 L331.66 151.73 L332.13 151.65 L332.6 151.68 L333.07 151.41 L333.53 151.52 L334 151.55 L334.47 151.55 L334.94 151.62 L335.41 151.14 L335.88 152.04 L336.34 151.63 L336.81 151.96 L337.28 151.57 L337.75 151.27 L338.22 151.57 L338.68 151.29 L339.15 151.58 L339.62 151.88 L340.09 151.72 L340.56 151.35 L341.03 151.89 L341.49 152.03 L341.96 152.11 L342.43 152.02 L342.9 151.82 L343.37 152.16 L343.83 152.16 L344.3 151.66 L344.77 152.1 L345.24 152.09 L345.71 151.91 L346.18 152.33 L346.64 151.89 L347.11 152.13 L347.58 152.33 L348.05 152.4 L348.52 152.43 L348.98 152.08 L349.45 152.51 L349.92 152.57 L350.39 152.34 L350.86 152.43 L351.33 152.32 L351.79 152.23 L352.26 152.3 L352.73 152.32 L353.2 152.18 L353.67 152.02 L354.13 152.58 L354.6 152.4 L355.07 152.93 L355.54 152.87 L356.01 152.29 L356.47 152.43 L356.94 152.65 L357.41 152.66 L357.88 152.88 L358.35 152.8 L358.82 152.52 L359.28 153.09 L359.75 152.87 L360.22 152.54 L360.69 152.58 L361.16 152.84 L361.62 152.85 L362.09 152.85 L362.56 152.28 L363.03 152.55 L363.5 152.76 L363.97 152.74 L364.43 152.93 L364.9 152.77 L365.37 152.68 L365.84 152.91 L366.31 152.6 L366.77 153.18 L367.24 152.81 L367.71 152.77 L368.18 152.84 L368.65 153.09 L369.12 152.66 L369.58 152.39 L370.05 153.04 L370.52 152.99 L370.99 153.01 L371.46 153.02 L371.92 152.9 L372.39 153.23 L372.86 153.05 L373.33 153.23 L373.8 152.81 L374.27 152.88 L374.73 153.08 L375.2 153.14 L375.67 152.8 L376.14 152.96 L376.61 152.69 L377.07 153.21 L377.54 152.78 L378.01 152.67 L378.48 152.88 L378.95 153.15 L379.42 153.22 L379.88 153.25 L380.35 153.25 L380.82 153.42 L381.29 153.26 L381.76 153 L382.22 153.32 L382.69 153.27 L383.16 153.35 L383.63 153.44 L384.1 153.62 L384.57 152.95 L385.03 153.31 L385.5 153.26 L385.97 153.19 L386.44 153.49 L386.91 153.53 L387.37 153.44 L387.84 153.48 L388.31 153.3 L388.78 153.3 L389.25 153.8 L389.72 153.36 L390.18 153.42 L390.65 153.62 L391.12 153.52 L391.59 153.46 L392.06 153.13 L392.52 153.69 L392.99 153.33 L393.46 153.68 L393.93 153.61 L394.4 153.69 L394.86 153.67 L395.33 153.91 L395.8 153.85 L396.27 153.62 L396.74 153.72 L397.21 153.61 L397.67 153.56 L398.14 153.8 L398.61 154.18 L399.08 153.91 L399.55 153.84 L400.01 153.77 L400.48 153.88 L400.95 153.64 L401.42 153.89 L401.89 153.9 L402.36 154.22 L402.82 154.15 L403.29 154.06 L403.76 153.51 L404.23 153.86 L404.7 154.06 L405.16 153.91 L405.63 154.01 L406.1 153.76 L406.57 154.04 L407.04 154.19 L407.51 153.82 L407.97 154.34 L408.44 154.15 L408.91 154.22 L409.38 154.37 L409.85 154.24 L410.31 154.37 L410.78 154.24 L411.25 154.71 L411.72 154.48 L412.19 154.19 L412.66 154.29 L413.12 154.24 L413.59 154.3 L414.06 154.49 L414.53 154.53 L415 154.52 L415.46 154.93 L415.93 154.42 L416.4 154.68 L416.87 154.35 L417.34 154.64 L417.81 154.36 L418.27 154.66 L418.74 154.91 L419.21 154.15 L419.68 154.73 L420.15 154.4 L420.61 155.09 L421.08 155.17 L421.55 154.88 L422.02 154.76 L422.49 154.81 L422.96 154.79 L423.42 154.82 L423.89 154.64 L424.36 154.95 L424.83 154.83 L425.3 155.17 L425.76 154.7 L426.23 154.84 L426.7 155.47 L427.17 155.09 L427.64 155.09 L428.11 154.93 L428.57 154.91 L429.04 155.21 L429.51 155.04 L429.98 154.9 L430.45 155.23 L430.91 155.22 L431.38 155.11 L431.85 155.39 L432.32 155.18 L432.79 155.44 L433.25 155.3 L433.72 155.3 L434.19 155.26 L434.66 155.28 L435.13 155.61 L435.6 155.35 L436.06 155.29 L436.53 155.54 L437 155.41 L437.47 155.69 L437.94 155.5 L438.4 155.52 L438.87 155.61 L439.34 155.6 L439.81 155.54 L440.28 155.34 L440.75 155.63 L441.21 155.86 L441.68 155.85 L442.15 155.62 L442.62 155.59 L443.09 155.46 L443.55 155.8 L444.02 156.28 L444.49 155.69 L444.96 155.65 L445.43 156.16 L445.9 155.83 L446.36 156.06 L446.83 155.95 L447.3 155.96" fill="none" stroke="#d8303a" stroke-width="1.5" stroke-linejoin="round" />
<path d="M260.5 157.53 L260.97 157.31 L261.44 157.11 L261.9 157.42 L262.37 156.94 L262.84 157.32 L263.31 157.28 L263.78 157.37 L264.25 157.17 L264.71 157.1 L265.18 157.16 L265.65 157.07 L266.12 157.25 L266.59 157.28 L267.05 156.98 L267.52 156.93 L267.99 157.3 L268.46 157.21 L268.93 157.15 L269.4 157.11 L269.86 156.84 L270.33 156.78 L270.8 157.14 L271.27 156.81 L271.74 156.82 L272.2 156.76 L272.67 156.53 L273.14 156.52 L273.61 156.37 L274.08 155.99 L274.55 155.82 L275.01 155.81 L275.48 155.77 L275.95 155.58 L276.42 155.48 L276.89 154.86 L277.35 154.91 L277.82 154.45 L278.29 154.12 L278.76 153.75 L279.23 153.29 L279.69 152.75 L280.16 152.61 L280.63 151.74 L281.1 151.36 L281.57 150.85 L282.04 150.29 L282.5 149.49 L282.97 149.24 L283.44 148.69 L283.91 147.75 L284.38 147.33 L284.84 146.48 L285.31 145.68 L285.78 144.85 L286.25 144.25 L286.72 143.37 L287.19 142.46 L287.65 141.47 L288.12 140.61 L288.59 139.6 L289.06 138.77 L289.53 137.55 L289.99 136.52 L290.46 135.28 L290.93 134.3 L291.4 133.03 L291.87 132.13 L292.34 130.78 L292.8 129.85 L293.27 128.74 L293.74 127.67 L294.21 126.37 L294.68 125.52 L295.14 124.21 L295.61 122.98 L296.08 122.02 L296.55 121.47 L297.02 119.98 L297.49 118.92 L297.95 117.71 L298.42 117.01 L298.89 116.09 L299.36 115.34 L299.83 114.77 L300.29 114.26 L300.76 113.38 L301.23 113.08 L301.7 112.67 L302.17 111.55 L302.64 111.53 L303.1 110.66 L303.57 110.64 L304.04 109.86 L304.51 109.54 L304.98 108.88 L305.44 108.98 L305.91 108.43 L306.38 107.92 L306.85 107.4 L307.32 107.29 L307.79 106.75 L308.25 106.27 L308.72 105.78 L309.19 105.54 L309.66 105.48 L310.13 105.31 L310.59 104.96 L311.06 104.59 L311.53 104.08 L312 104.05 L312.47 103.55 L312.94 103 L313.4 102.82 L313.87 102.73 L314.34 102.57 L314.81 102.07 L315.28 101.66 L315.74 101.69 L316.21 101.9 L316.68 101.43 L317.15 101.19 L317.62 101.39 L318.08 101.22 L318.55 101.18 L319.02 101.41 L319.49 101.36 L319.96 101.44 L320.43 101.51 L320.89 101.97 L321.36 102.02 L321.83 102.1 L322.3 102.39 L322.77 102.67 L323.23 102.94 L323.7 103.32 L324.17 103.76 L324.64 103.56 L325.11 103.8 L325.58 104.41 L326.04 104.58 L326.51 104.94 L326.98 104.9 L327.45 105.23 L327.92 105.52 L328.38 105.95 L328.85 106.18 L329.32 106.6 L329.79 106.9 L330.26 107.47 L330.73 107.53 L331.19 108.08 L331.66 108.65 L332.13 108.81 L332.6 109.41 L333.07 109.77 L333.53 110 L334 110.96 L334.47 110.97 L334.94 111.3 L335.41 111.9 L335.88 112.25 L336.34 112.6 L336.81 112.81 L337.28 113.4 L337.75 113.68 L338.22 113.98 L338.68 114.56 L339.15 114.7 L339.62 114.72 L340.09 115.12 L340.56 115.27 L341.03 115.76 L341.49 115.91 L341.96 116.41 L342.43 116.31 L342.9 116.84 L343.37 116.9 L343.83 117.24 L344.3 117.66 L344.77 117.66 L345.24 118.12 L345.71 117.99 L346.18 118.51 L346.64 118.73 L347.11 118.92 L347.58 119.34 L348.05 119.65 L348.52 119.95 L348.98 120.59 L349.45 120.5 L349.92 121.1 L350.39 121.05 L350.86 121.27 L351.33 121.87 L351.79 121.96 L352.26 122.31 L352.73 122.55 L353.2 123.08 L353.67 123.26 L354.13 123.6 L354.6 123.82 L355.07 124.15 L355.54 124.35 L356.01 124.68 L356.47 124.8 L356.94 125.43 L357.41 125.71 L357.88 125.64 L358.35 125.86 L358.82 126.18 L359.28 126.62 L359.75 126.72 L360.22 127.03 L360.69 127.35 L361.16 127.56 L361.62 127.83 L362.09 128.16 L362.56 128.12 L363.03 128.54 L363.5 129.15 L363.97 129.15 L364.43 129.26 L364.9 129.65 L365.37 130.02 L365.84 130.23 L366.31 130.33 L366.77 130.5 L367.24 131.07 L367.71 131.32 L368.18 131.52 L368.65 131.79 L369.12 131.92 L369.58 132.04 L370.05 132.52 L370.52 132.78 L370.99 132.91 L371.46 133.27 L371.92 133.41 L372.39 133.66 L372.86 134.01 L373.33 134.62 L373.8 134.7 L374.27 134.84 L374.73 135.22 L375.2 135.24 L375.67 135.45 L376.14 135.92 L376.61 136.06 L377.07 136.38 L377.54 136.58 L378.01 136.86 L378.48 137.1 L378.95 137.26 L379.42 137.74 L379.88 138.02 L380.35 137.94 L380.82 138.13 L381.29 138.5 L381.76 138.41 L382.22 138.8 L382.69 139.01 L383.16 139.37 L383.63 139.49 L384.1 139.63 L384.57 140.05 L385.03 140.17 L385.5 140.14 L385.97 140.59 L386.44 140.79 L386.91 140.96 L387.37 141.19 L387.84 141.38 L388.31 141.54 L388.78 142.01 L389.25 142.14 L389.72 142.11 L390.18 142.18 L390.65 142.52 L391.12 142.75 L391.59 143.07 L392.06 143.19 L392.52 143.28 L392.99 143.41 L393.46 143.52 L393.93 143.91 L394.4 144.16 L394.86 144.18 L395.33 144.66 L395.8 144.47 L396.27 144.56 L396.74 144.72 L397.21 144.92 L397.67 145.08 L398.14 145.07 L398.61 145.47 L399.08 145.55 L399.55 145.57 L400.01 145.86 L400.48 145.89 L400.95 146.48 L401.42 146.4 L401.89 146.33 L402.36 146.4 L402.82 146.86 L403.29 146.9 L403.76 146.75 L404.23 147.19 L404.7 147.3 L405.16 147.28 L405.63 147.49 L406.1 147.49 L406.57 147.79 L407.04 147.86 L407.51 148.14 L407.97 148.15 L408.44 148.37 L408.91 148.35 L409.38 148.41 L409.85 148.34 L410.31 148.65 L410.78 148.46 L411.25 148.63 L411.72 148.7 L412.19 149.3 L412.66 149.02 L413.12 149.25 L413.59 149.39 L414.06 149.56 L414.53 149.56 L415 149.67 L415.46 149.86 L415.93 150.03 L416.4 149.74 L416.87 150.09 L417.34 149.88 L417.81 150.28 L418.27 150.24 L418.74 150.54 L419.21 150.35 L419.68 150.51 L420.15 150.69 L420.61 150.58 L421.08 150.65 L421.55 150.9 L422.02 151.24 L422.49 150.94 L422.96 150.81 L423.42 151.04 L423.89 151.03 L424.36 151.05 L424.83 151.28 L425.3 151.17 L425.76 151.4 L426.23 151.74 L426.7 151.32 L427.17 151.57 L427.64 151.71 L428.11 151.97 L428.57 151.89 L429.04 151.77 L429.51 151.75 L429.98 151.84 L430.45 152.04 L430.91 151.97 L431.38 152.24 L431.85 152.37 L432.32 152.24 L432.79 152.26 L433.25 152.3 L433.72 152.37 L434.19 152.48 L434.66 152.5 L435.13 152.48 L435.6 152.62 L436.06 152.58 L436.53 152.88 L437 153.02 L437.47 152.74 L437.94 152.89 L438.4 152.84 L438.87 152.77 L439.34 152.87 L439.81 152.78 L440.28 153.07 L440.75 153.01 L441.21 152.84 L441.68 152.92 L442.15 153.42 L442.62 153.34 L443.09 153.5 L443.55 153.29 L444.02 153.48 L444.49 153.43 L444.96 153.55 L445.43 153.64 L445.9 153.57 L446.36 153.49 L446.83 153.52 L447.3 153.34" fill="none" stroke="#e3b21e" stroke-width="1.5" stroke-linejoin="round" />
<path d="M260.5 157.37 L260.97 157.08 L261.44 157.37 L261.9 157.29 L262.37 157.28 L262.84 157.08 L263.31 157.01 L263.78 157.3 L264.25 157.2 L264.71 157.31 L265.18 157.41 L265.65 157.25 L266.12 156.98 L266.59 157.04 L267.05 157.27 L267.52 157.29 L267.99 157.25 L268.46 157.11 L268.93 156.92 L269.4 156.9 L269.86 157.02 L270.33 156.92 L270.8 157.15 L271.27 156.61 L271.74 156.89 L272.2 156.66 L272.67 156.57 L273.14 156.39 L273.61 156.55 L274.08 156.09 L274.55 156.27 L275.01 155.89 L275.48 155.79 L275.95 155.61 L276.42 155.32 L276.89 155.12 L277.35 154.78 L277.82 154.33 L278.29 154.11 L278.76 153.7 L279.23 153.37 L279.69 152.68 L280.16 152.51 L280.63 151.93 L281.1 151.3 L281.57 150.81 L282.04 150.16 L282.5 149.84 L282.97 149.27 L283.44 148.41 L283.91 147.93 L284.38 147.37 L284.84 146.57 L285.31 145.47 L285.78 144.98 L286.25 144.17 L286.72 143.24 L287.19 142.29 L287.65 141.61 L288.12 140.53 L288.59 139.48 L289.06 138.47 L289.53 137.16 L289.99 136.55 L290.46 134.87 L290.93 133.57 L291.4 132.46 L291.87 130.83 L292.34 129.87 L292.8 128.48 L293.27 127.16 L293.74 126.13 L294.21 124.93 L294.68 123.55 L295.14 122.56 L295.61 121.34 L296.08 119.87 L296.55 118.8 L297.02 117.44 L297.49 116.4 L297.95 115.17 L298.42 114.15 L298.89 112.77 L299.36 112.12 L299.83 111.35 L300.29 110.3 L300.76 109.85 L301.23 109.14 L301.7 108.11 L302.17 107.71 L302.64 106.96 L303.1 106.3 L303.57 105.67 L304.04 105.09 L304.51 104.57 L304.98 104.21 L305.44 103.41 L305.91 102.87 L306.38 102.75 L306.85 101.77 L307.32 101.46 L307.79 100.95 L308.25 100.59 L308.72 100.27 L309.19 99.9 L309.66 99.43 L310.13 99.19 L310.59 98.94 L311.06 98.46 L311.53 98.1 L312 97.69 L312.47 97.28 L312.94 97 L313.4 96.6 L313.87 96.21 L314.34 95.8 L314.81 95.87 L315.28 95.3 L315.74 95.27 L316.21 94.87 L316.68 94.88 L317.15 94.38 L317.62 94.62 L318.08 94.39 L318.55 94.89 L319.02 94.74 L319.49 94.85 L319.96 94.86 L320.43 94.88 L320.89 94.92 L321.36 95.37 L321.83 95.79 L322.3 95.7 L322.77 96.37 L323.23 96.31 L323.7 96.67 L324.17 96.65 L324.64 97.16 L325.11 97.56 L325.58 97.66 L326.04 98.11 L326.51 98.59 L326.98 98.97 L327.45 99.19 L327.92 99.37 L328.38 99.73 L328.85 100.28 L329.32 100.66 L329.79 100.7 L330.26 101.27 L330.73 101.82 L331.19 102.18 L331.66 102.78 L332.13 103.35 L332.6 103.72 L333.07 104.24 L333.53 104.93 L334 105.17 L334.47 105.87 L334.94 106.11 L335.41 106.78 L335.88 106.99 L336.34 107.6 L336.81 108.1 L337.28 108.36 L337.75 108.93 L338.22 109.1 L338.68 109.49 L339.15 109.85 L339.62 109.9 L340.09 110.42 L340.56 110.64 L341.03 111.21 L341.49 111.15 L341.96 111.11 L342.43 111.68 L342.9 112.34 L343.37 112.15 L343.83 112.03 L344.3 112.38 L344.77 113.13 L345.24 113.46 L345.71 113.81 L346.18 113.93 L346.64 114.03 L347.11 114.44 L347.58 114.98 L348.05 115.58 L348.52 116.21 L348.98 116.72 L349.45 117.12 L349.92 117.37 L350.39 118.06 L350.86 118.48 L351.33 118.71 L351.79 119.07 L352.26 119.59 L352.73 119.76 L353.2 120.19 L353.67 120.25 L354.13 120.82 L354.6 121.35 L355.07 121.92 L355.54 122.05 L356.01 122.45 L356.47 122.71 L356.94 122.94 L357.41 123.35 L357.88 123.76 L358.35 123.96 L358.82 124.47 L359.28 124.82 L359.75 124.97 L360.22 125.52 L360.69 125.76 L361.16 125.99 L361.62 126.61 L362.09 126.61 L362.56 126.68 L363.03 127.42 L363.5 127.32 L363.97 127.56 L364.43 127.99 L364.9 128.56 L365.37 128.57 L365.84 128.82 L366.31 129.21 L366.77 129.68 L367.24 129.84 L367.71 130.13 L368.18 130.47 L368.65 130.91 L369.12 131.08 L369.58 131.24 L370.05 131.58 L370.52 131.5 L370.99 132.26 L371.46 132.39 L371.92 132.46 L372.39 132.75 L372.86 133.14 L373.33 133.36 L373.8 133.68 L374.27 133.88 L374.73 134.13 L375.2 134.23 L375.67 134.67 L376.14 134.86 L376.61 135.09 L377.07 135.11 L377.54 135.35 L378.01 135.47 L378.48 136.01 L378.95 136.24 L379.42 136.45 L379.88 136.74 L380.35 136.55 L380.82 137.17 L381.29 137.24 L381.76 137.41 L382.22 137.81 L382.69 138.25 L383.16 138.48 L383.63 138.52 L384.1 138.67 L384.57 138.98 L385.03 139 L385.5 139.56 L385.97 139.52 L386.44 139.89 L386.91 139.78 L387.37 140.51 L387.84 140.25 L388.31 140.59 L388.78 140.83 L389.25 140.82 L389.72 141.1 L390.18 141.31 L390.65 141.42 L391.12 141.81 L391.59 141.74 L392.06 142.34 L392.52 142.28 L392.99 142.51 L393.46 142.69 L393.93 142.75 L394.4 142.84 L394.86 143.26 L395.33 143.2 L395.8 143.6 L396.27 144 L396.74 143.83 L397.21 144.11 L397.67 143.88 L398.14 144.44 L398.61 144.63 L399.08 144.34 L399.55 144.47 L400.01 144.68 L400.48 145.07 L400.95 144.95 L401.42 145.44 L401.89 145.12 L402.36 145.73 L402.82 145.63 L403.29 145.93 L403.76 145.89 L404.23 146.02 L404.7 146.29 L405.16 146.41 L405.63 146.32 L406.1 146.62 L406.57 146.73 L407.04 146.79 L407.51 146.88 L407.97 146.75 L408.44 147.51 L408.91 147.34 L409.38 147.51 L409.85 147.55 L410.31 147.55 L410.78 147.77 L411.25 147.68 L411.72 147.82 L412.19 148.15 L412.66 148.1 L413.12 148.31 L413.59 148.64 L414.06 148.62 L414.53 148.72 L415 148.65 L415.46 148.58 L415.93 148.76 L416.4 149.04 L416.87 149.08 L417.34 149.29 L417.81 149.16 L418.27 149.16 L418.74 149.29 L419.21 149.36 L419.68 149.85 L420.15 149.54 L420.61 149.72 L421.08 149.8 L421.55 149.79 L422.02 149.87 L422.49 149.93 L422.96 150.02 L423.42 150.1 L423.89 150.01 L424.36 150.53 L424.83 150.39 L425.3 150.42 L425.76 150.42 L426.23 150.31 L426.7 150.57 L427.17 151.08 L427.64 150.6 L428.11 150.99 L428.57 151.05 L429.04 150.87 L429.51 151.08 L429.98 150.96 L430.45 151.12 L430.91 151.37 L431.38 151.1 L431.85 151.55 L432.32 151.61 L432.79 151.31 L433.25 151.16 L433.72 151.41 L434.19 151.38 L434.66 151.56 L435.13 151.79 L435.6 151.87 L436.06 151.77 L436.53 152.08 L437 152.06 L437.47 151.7 L437.94 152.22 L438.4 152.37 L438.87 152.07 L439.34 152.02 L439.81 152.06 L440.28 152.35 L440.75 152.25 L441.21 152.43 L441.68 152.49 L442.15 152.3 L442.62 152.43 L443.09 152.47 L443.55 152.67 L444.02 152.8 L444.49 152.66 L444.96 152.81 L445.43 152.79 L445.9 152.81 L446.36 153.09 L446.83 152.93 L447.3 152.92" fill="none" stroke="#5d60c4" stroke-width="1.5" stroke-linejoin="round" />
<path d="M260.5 123.23 L260.97 121.83 L261.44 120.51 L261.9 119.23 L262.37 117.62 L262.84 116.09 L263.31 114.68 L263.78 113.53 L264.25 111.8 L264.71 110.22 L265.18 108.84 L265.65 107.41 L266.12 105.89 L266.59 104.55 L267.05 102.77 L267.52 101.08 L267.99 99.92 L268.46 98.26 L268.93 96.74 L269.4 95.1 L269.86 93.53 L270.33 92.31 L270.8 90.39 L271.27 88.93 L271.74 87.28 L272.2 85.97 L272.67 84.2 L273.14 82.4 L273.61 80.86 L274.08 79.26 L274.55 77.12 L275.01 75.29 L275.48 73.56 L275.95 71.6 L276.42 69.32 L276.89 67.1 L277.35 64.77 L277.82 62.36 L278.29 59.5 L278.76 57.14 L279.23 54.49 L279.69 52.07 L280.16 48.99 L280.63 46.78 L281.1 44.44 L281.57 42.49 L282.04 40.16 L282.5 38.45 L282.97 36.82 L283.44 35.14 L283.91 33.45 L284.38 31.62 L284.84 30.5 L285.31 28.8 L285.78 27.72 L286.25 26.76 L286.72 25.8 L287.19 25.32 L287.65 24.52 L288.12 24.16 L288.59 23.63 L289.06 23.07 L289.53 22.8 L289.99 22.46 L290.46 22.48 L290.93 22.13 L291.4 22.01 L291.87 22.29 L292.34 22.51 L292.8 23.25 L293.27 23.61 L293.74 23.94 L294.21 24.42 L294.68 25.44 L295.14 25.84 L295.61 26.23 L296.08 27.15 L296.55 27.63 L297.02 28.85 L297.49 29.67 L297.95 30.48 L298.42 31.6 L298.89 32.5 L299.36 34.13 L299.83 35.08 L300.29 36.3 L300.76 37.53 L301.23 38.43 L301.7 39.49 L302.17 40.54 L302.64 41.63 L303.1 42.46 L303.57 43.52 L304.04 44.61 L304.51 45.59 L304.98 46.49 L305.44 47.41 L305.91 48.45 L306.38 49.56 L306.85 50.58 L307.32 51.46 L307.79 52.14 L308.25 53.09 L308.72 53.84 L309.19 54.73 L309.66 55.12 L310.13 56.01 L310.59 56.51 L311.06 57.01 L311.53 57.9 L312 58.36 L312.47 58.46 L312.94 59.24 L313.4 59.89 L313.87 60.55 L314.34 60.9 L314.81 61.83 L315.28 62.56 L315.74 63.25 L316.21 64.33 L316.68 65.06 L317.15 66.05 L317.62 66.88 L318.08 68.02 L318.55 68.99 L319.02 69.84 L319.49 70.71 L319.96 71.74 L320.43 72.66 L320.89 73.53 L321.36 74.36 L321.83 75.41 L322.3 76.11 L322.77 77.04 L323.23 78.11 L323.7 78.67 L324.17 79.66 L324.64 80.56 L325.11 81.29 L325.58 82.07 L326.04 82.98 L326.51 83.68 L326.98 84.81 L327.45 85.65 L327.92 86.59 L328.38 87.58 L328.85 88.19 L329.32 89.02 L329.79 89.88 L330.26 90.58 L330.73 91.28 L331.19 92.21 L331.66 93.16 L332.13 93.96 L332.6 94.79 L333.07 95.53 L333.53 96.43 L334 97.18 L334.47 98 L334.94 98.63 L335.41 99.46 L335.88 100.34 L336.34 101.28 L336.81 101.83 L337.28 102.61 L337.75 103.48 L338.22 103.95 L338.68 104.54 L339.15 104.99 L339.62 105.86 L340.09 106.71 L340.56 107.06 L341.03 107.78 L341.49 108.42 L341.96 109.09 L342.43 109.52 L342.9 110.36 L343.37 110.92 L343.83 111.28 L344.3 111.61 L344.77 112.61 L345.24 113.09 L345.71 113.61 L346.18 113.88 L346.64 114.52 L347.11 115.08 L347.58 115.62 L348.05 116.04 L348.52 116.63 L348.98 116.79 L349.45 117.2 L349.92 117.77 L350.39 118.35 L350.86 118.43 L351.33 118.82 L351.79 119.64 L352.26 119.73 L352.73 120.24 L353.2 120.8 L353.67 120.88 L354.13 121.41 L354.6 121.85 L355.07 122.14 L355.54 122.5 L356.01 122.84 L356.47 123.26 L356.94 123.83 L357.41 123.8 L357.88 124.54 L358.35 124.89 L358.82 125.32 L359.28 125.74 L359.75 126.15 L360.22 126.65 L360.69 126.73 L361.16 127.51 L361.62 127.91 L362.09 128.24 L362.56 128.61 L363.03 129.13 L363.5 129.65 L363.97 129.95 L364.43 130.26 L364.9 130.17 L365.37 130.95 L365.84 131.06 L366.31 131.27 L366.77 131.7 L367.24 132.11 L367.71 132.03 L368.18 132.64 L368.65 132.76 L369.12 133.12 L369.58 133.35 L370.05 133.76 L370.52 133.94 L370.99 134.11 L371.46 134.35 L371.92 134.65 L372.39 135.06 L372.86 135.14 L373.33 135.59 L373.8 135.9 L374.27 136.02 L374.73 135.97 L375.2 136.53 L375.67 136.79 L376.14 137.08 L376.61 137.23 L377.07 137.62 L377.54 137.86 L378.01 137.92 L378.48 138.25 L378.95 138.62 L379.42 138.7 L379.88 138.9 L380.35 139.34 L380.82 139.06 L381.29 139.73 L381.76 139.74 L382.22 139.73 L382.69 140.35 L383.16 140.65 L383.63 140.68 L384.1 140.98 L384.57 141.28 L385.03 141.3 L385.5 141.62 L385.97 141.89 L386.44 141.92 L386.91 142.21 L387.37 142.32 L387.84 142.51 L388.31 142.83 L388.78 143.1 L389.25 143.27 L389.72 143.52 L390.18 143.73 L390.65 143.92 L391.12 143.94 L391.59 144.15 L392.06 144.21 L392.52 144.75 L392.99 144.83 L393.46 144.85 L393.93 145.04 L394.4 145.31 L394.86 145.25 L395.33 145.46 L395.8 145.57 L396.27 145.82 L396.74 146.14 L397.21 146.06 L397.67 146.43 L398.14 146.46 L398.61 146.53 L399.08 146.81 L399.55 146.7 L400.01 147 L400.48 147.13 L400.95 147.53 L401.42 147.33 L401.89 147.54 L402.36 147.49 L402.82 147.64 L403.29 147.97 L403.76 148.22 L404.23 148.29 L404.7 148.06 L405.16 148.23 L405.63 148.31 L406.1 148.57 L406.57 148.83 L407.04 148.91 L407.51 148.92 L407.97 149.01 L408.44 148.81 L408.91 148.76 L409.38 149.26 L409.85 149.17 L410.31 149.47 L410.78 149.44 L411.25 149.75 L411.72 149.67 L412.19 149.72 L412.66 149.91 L413.12 150.14 L413.59 150.04 L414.06 150.35 L414.53 150.1 L415 150.18 L415.46 150.37 L415.93 150.49 L416.4 150.65 L416.87 150.64 L417.34 150.72 L417.81 150.62 L418.27 151.03 L418.74 150.89 L419.21 151.05 L419.68 151.11 L420.15 151.41 L420.61 151.02 L421.08 151.3 L421.55 151.55 L422.02 151.15 L422.49 151.45 L422.96 151.57 L423.42 151.66 L423.89 151.56 L424.36 151.88 L424.83 151.69 L425.3 152.07 L425.76 151.96 L426.23 151.89 L426.7 152.28 L427.17 152.2 L427.64 152.3 L428.11 152.41 L428.57 152.32 L429.04 152.36 L429.51 152.54 L429.98 152.73 L430.45 152.66 L430.91 152.6 L431.38 152.94 L431.85 152.69 L432.32 152.79 L432.79 152.85 L433.25 152.93 L433.72 153.06 L434.19 153.12 L434.66 153 L435.13 153.06 L435.6 153.32 L436.06 153.36 L436.53 153.19 L437 153.48 L437.47 153.37 L437.94 153.48 L438.4 153.51 L438.87 153.55 L439.34 153.5 L439.81 153.6 L440.28 153.57 L440.75 153.68 L441.21 153.66 L441.68 153.68 L442.15 153.75 L442.62 153.86 L443.09 153.86 L443.55 153.86 L444.02 153.86 L444.49 153.99 L444.96 154.17 L445.43 154.02 L445.9 154.08 L446.36 153.95 L446.83 154.02 L447.3 154.07" fill="none" stroke="#333333" stroke-width="1.5" stroke-linejoin="round" />
<rect x="259.9" y="8.9" width="188.1" height="153.6" fill="none" stroke="#000" stroke-width="1.7"/>
<line x1="259.9" y1="162.5" x2="259.9" y2="159.9" stroke="#000" stroke-width="1.2" />
<line x1="306.9" y1="162.5" x2="306.9" y2="159.9" stroke="#000" stroke-width="1.2" />
<line x1="353.9" y1="162.5" x2="353.9" y2="159.9" stroke="#000" stroke-width="1.2" />
<line x1="400.9" y1="162.5" x2="400.9" y2="159.9" stroke="#000" stroke-width="1.2" />
<line x1="447.9" y1="162.5" x2="447.9" y2="159.9" stroke="#000" stroke-width="1.2" />
<line x1="283.4" y1="162.5" x2="283.4" y2="161.2" stroke="#000" stroke-width="1.2" />
<line x1="330.4" y1="162.5" x2="330.4" y2="161.2" stroke="#000" stroke-width="1.2" />
<line x1="377.4" y1="162.5" x2="377.4" y2="161.2" stroke="#000" stroke-width="1.2" />
<line x1="424.4" y1="162.5" x2="424.4" y2="161.2" stroke="#000" stroke-width="1.2" />
<text x="259.9" y="175.8" font-size="10.8" text-anchor="middle" font-weight="bold" >400</text>
<text x="306.9" y="175.8" font-size="10.8" text-anchor="middle" font-weight="bold" >450</text>
<text x="353.9" y="175.8" font-size="10.8" text-anchor="middle" font-weight="bold" >500</text>
<text x="400.9" y="175.8" font-size="10.8" text-anchor="middle" font-weight="bold" >550</text>
<text x="447.9" y="175.8" font-size="10.8" text-anchor="middle" font-weight="bold" >600</text>
<text x="358.9" y="187.6" font-size="12.4" text-anchor="middle" font-weight="bold" >Wavelength (nm)</text>
<text transform="translate(255.2,86.2) rotate(-90)" font-size="12.25" text-anchor="middle" font-weight="bold" >PL Intensity (arb. units)</text>
<text x="267.3" y="26.7" font-size="19" text-anchor="start" font-weight="bold" >b</text>
<line x1="375.9" y1="18.7" x2="401" y2="18.7" stroke="#e3b21e" stroke-width="1.3" />
<text x="404.5" y="22.7" font-size="10.9" text-anchor="start" font-weight="bold" >CN</text>
<line x1="375.9" y1="33" x2="401" y2="33" stroke="#2f72b8" stroke-width="1.3" />
<text x="404.5" y="37" font-size="10.9" text-anchor="start" font-weight="bold" >MC</text>
<line x1="375.9" y1="47.3" x2="401" y2="47.3" stroke="#333333" stroke-width="1.3" />
<text x="404.5" y="51.3" font-size="10.9" text-anchor="start" font-weight="bold" >Melem</text>
<line x1="375.9" y1="61.6" x2="401" y2="61.6" stroke="#d8303a" stroke-width="1.3" />
<text x="404.5" y="65.6" font-size="10.9" text-anchor="start" font-weight="bold" >MCIrSA</text>
<line x1="375.9" y1="75.9" x2="401" y2="75.9" stroke="#5d60c4" stroke-width="1.3" />
<text x="404.5" y="79.9" font-size="10.9" text-anchor="start" font-weight="bold" >CNIrSA</text>
<rect x="489.3" y="9.7" width="186.7" height="152.7" fill="none" stroke="#000" stroke-width="1.7"/>
<g opacity="0.9">
<path d="M490.2 160.4 L493.87 160.4 L497.53 160.4 L501.2 160.4 L504.87 160.4 L508.53 160.4 L512.2 160.4 L515.87 160.4 L519.53 160.4 L523.2 160.4" fill="none" stroke="#c8b0b0" stroke-width="1.2" stroke-linejoin="round" />
</g>
<path d="M490.2 154.44 L490.62 154.57 L491.04 154.9 L491.45 154.67 L491.87 154.93 L492.29 155 L492.71 154.44 L493.12 155.05 L493.54 154.65 L493.96 155.32 L494.38 154.98 L494.79 154.67 L495.21 154.85 L495.63 154.85 L496.05 154.88 L496.47 155.15 L496.88 154.93 L497.3 155.22 L497.72 154.96 L498.14 154.76 L498.55 154.42 L498.97 154.41 L499.39 154.85 L499.81 154.97 L500.23 155.16 L500.64 154.65 L501.06 154.82 L501.48 154.6 L501.9 154.69 L502.31 154.23 L502.73 154.98 L503.15 154.62 L503.57 154.78 L503.98 154.91 L504.4 154.88 L504.82 154.47 L505.24 155.18 L505.66 154.99 L506.07 154.93 L506.49 154.64 L506.91 154.4 L507.33 154.39 L507.74 154.75 L508.16 154.84 L508.58 154.62 L509 155.26 L509.42 154.88 L509.83 155.05 L510.25 155.03 L510.67 154.53 L511.09 155.05 L511.5 154.91 L511.92 154.48 L512.34 154.98 L512.76 155.07 L513.17 155.04 L513.59 155.06 L514.01 154.45 L514.43 154.74 L514.85 154.66 L515.26 154.81 L515.68 154.83 L516.1 155.08 L516.52 154.99 L516.93 154.59 L517.35 155.03 L517.77 155.21 L518.19 154.88 L518.61 154.42 L519.02 154.64 L519.44 154.76 L519.86 154.39 L520.28 154.77 L520.69 154.48 L521.11 155 L521.53 154.97 L521.95 154.78 L522.36 154.49 L522.78 154.87 L523.2 154.64" fill="none" stroke="#1a1a1a" stroke-width="1.3" stroke-linejoin="round" />
<path d="M524.6 30.6 L524.9 36.42 L525.2 41.98 L525.5 47.24 L525.81 52.17 L526.11 56.71 L526.41 60.83 L526.71 64.55 L527.01 68 L527.31 71.21 L527.61 74.2 L527.92 77.01 L528.22 79.65 L528.52 82.15 L528.82 84.53 L529.12 86.8 L529.42 88.95 L529.72 90.98 L530.03 92.86 L530.33 94.6 L530.63 96.2 L530.93 97.71 L531.23 99.14 L531.53 100.5 L531.83 101.79 L532.14 103.04 L532.44 104.25 L532.74 105.44 L533.04 106.61 L533.34 107.77 L533.64 108.94 L533.94 110.11 L534.24 111.27 L534.55 112.42 L534.85 113.55 L535.15 114.66 L535.45 115.73 L535.75 116.76 L536.05 117.75 L536.35 118.69 L536.66 119.57 L536.96 120.39 L537.26 121.15 L537.56 121.9 L537.86 122.62 L538.16 123.32 L538.46 124 L538.77 124.66 L539.07 125.3 L539.37 125.93 L539.67 126.54 L539.97 127.13 L540.27 127.7 L540.57 128.26 L540.88 128.8 L541.18 129.33 L541.48 129.85 L541.78 130.35 L542.08 130.84 L542.38 131.31 L542.68 131.78 L542.99 132.23 L543.29 132.67 L543.59 133.11 L543.89 133.53 L544.19 133.95 L544.49 134.36 L544.79 134.76 L545.1 135.15 L545.4 135.54 L545.7 135.91 L546 136.28 L546.3 136.63 L546.6 136.98 L546.9 137.32 L547.21 137.65 L547.51 137.97 L547.81 138.28 L548.11 138.58 L548.41 138.87 L548.71 139.15 L549.01 139.42 L549.32 139.69 L549.62 139.95 L549.92 140.2 L550.22 140.45 L550.52 140.7 L550.82 140.94 L551.12 141.17 L551.42 141.41 L551.73 141.63 L552.03 141.86 L552.33 142.08 L552.63 142.29 L552.93 142.5 L553.23 142.71 L553.53 142.91 L553.84 143.11 L554.14 143.31 L554.44 143.5 L554.74 143.68 L555.04 143.87 L555.34 144.04 L555.64 144.22 L555.95 144.39 L556.25 144.55 L556.55 144.71 L556.85 144.87 L557.15 145.03 L557.45 145.18 L557.75 145.32 L558.06 145.47 L558.36 145.61 L558.66 145.75 L558.96 145.89 L559.26 146.03 L559.56 146.16 L559.86 146.3 L560.17 146.43 L560.47 146.56 L560.77 146.68 L561.07 146.81 L561.37 146.93 L561.67 147.05 L561.97 147.17 L562.28 147.28 L562.58 147.4 L562.88 147.51 L563.18 147.62 L563.48 147.73 L563.78 147.83 L564.08 147.93 L564.39 148.03 L564.69 148.13 L564.99 148.23 L565.29 148.32 L565.59 148.41 L565.89 148.5 L566.19 148.58 L566.49 148.67 L566.8 148.75 L567.1 148.83 L567.4 148.9 L567.7 148.98 L568 149.05 L568.3 149.13 L568.6 149.2 L568.91 149.27 L569.21 149.34 L569.51 149.41 L569.81 149.48 L570.11 149.54 L570.41 149.61 L570.71 149.68 L571.02 149.74 L571.32 149.8 L571.62 149.87 L571.92 149.93 L572.22 149.99 L572.52 150.05 L572.82 150.11 L573.13 150.17 L573.43 150.22 L573.73 150.28 L574.03 150.34 L574.33 150.39 L574.63 150.45 L574.93 150.5 L575.24 150.56 L575.54 150.61 L575.84 150.66 L576.14 150.71 L576.44 150.76 L576.74 150.82 L577.04 150.87 L577.35 150.92 L577.65 150.97 L577.95 151.01 L578.25 151.06 L578.55 151.11 L578.85 151.16 L579.15 151.21 L579.46 151.26 L579.76 151.3 L580.06 151.35 L580.36 151.4 L580.66 151.44 L580.96 151.49 L581.26 151.54 L581.57 151.58 L581.87 151.63 L582.17 151.67 L582.47 151.72 L582.77 151.77 L583.07 151.81 L583.37 151.86 L583.67 151.9 L583.98 151.95 L584.28 151.99 L584.58 152.04 L584.88 152.08 L585.18 152.13 L585.48 152.17 L585.78 152.22 L586.09 152.26 L586.39 152.31 L586.69 152.35 L586.99 152.39 L587.29 152.44 L587.59 152.48 L587.89 152.53 L588.2 152.57 L588.5 152.61 L588.8 152.65 L589.1 152.7 L589.4 152.74 L589.7 152.78 L590 152.82 L590.31 152.86 L590.61 152.9 L590.91 152.94 L591.21 152.98 L591.51 153.02 L591.81 153.06 L592.11 153.1 L592.42 153.13 L592.72 153.17 L593.02 153.21 L593.32 153.24 L593.62 153.28 L593.92 153.32 L594.22 153.35 L594.53 153.39 L594.83 153.42 L595.13 153.45 L595.43 153.49 L595.73 153.52 L596.03 153.55 L596.33 153.58 L596.64 153.61 L596.94 153.64 L597.24 153.67 L597.54 153.7 L597.84 153.72 L598.14 153.75 L598.44 153.78 L598.75 153.8 L599.05 153.83 L599.35 153.85 L599.65 153.88 L599.95 153.9 L600.25 153.93 L600.55 153.95 L600.85 153.98 L601.16 154 L601.46 154.02 L601.76 154.05 L602.06 154.07 L602.36 154.09 L602.66 154.12 L602.96 154.14 L603.27 154.16 L603.57 154.18 L603.87 154.21 L604.17 154.23 L604.47 154.25 L604.77 154.27 L605.07 154.29 L605.38 154.31 L605.68 154.33 L605.98 154.35 L606.28 154.38 L606.58 154.4 L606.88 154.42 L607.18 154.44 L607.49 154.46 L607.79 154.47 L608.09 154.49 L608.39 154.51 L608.69 154.53 L608.99 154.55 L609.29 154.57 L609.6 154.59 L609.9 154.61 L610.2 154.62 L610.5 154.64 L610.8 154.66 L611.1 154.68 L611.4 154.69 L611.71 154.71 L612.01 154.73 L612.31 154.74 L612.61 154.76 L612.91 154.78 L613.21 154.79 L613.51 154.81 L613.82 154.82 L614.12 154.84 L614.42 154.85 L614.72 154.87 L615.02 154.88 L615.32 154.9 L615.62 154.91 L615.93 154.93 L616.23 154.94 L616.53 154.96 L616.83 154.97 L617.13 154.98 L617.43 155 L617.73 155.01 L618.03 155.02 L618.34 155.03 L618.64 155.05 L618.94 155.06 L619.24 155.07 L619.54 155.08 L619.84 155.09 L620.14 155.11 L620.45 155.12 L620.75 155.13 L621.05 155.14 L621.35 155.15 L621.65 155.16 L621.95 155.17 L622.25 155.18 L622.56 155.19 L622.86 155.21 L623.16 155.22 L623.46 155.23 L623.76 155.24 L624.06 155.25 L624.36 155.26 L624.67 155.27 L624.97 155.28 L625.27 155.29 L625.57 155.3 L625.87 155.31 L626.17 155.32 L626.47 155.33 L626.78 155.34 L627.08 155.35 L627.38 155.36 L627.68 155.37 L627.98 155.38 L628.28 155.39 L628.58 155.4 L628.89 155.41 L629.19 155.42 L629.49 155.42 L629.79 155.43 L630.09 155.44 L630.39 155.45 L630.69 155.46 L631 155.47 L631.3 155.48 L631.6 155.49 L631.9 155.5 L632.2 155.5 L632.5 155.51 L632.8 155.52 L633.11 155.53 L633.41 155.54 L633.71 155.55 L634.01 155.55 L634.31 155.56 L634.61 155.57 L634.91 155.58 L635.21 155.59 L635.52 155.59 L635.82 155.6 L636.12 155.61 L636.42 155.62 L636.72 155.63 L637.02 155.63 L637.32 155.64 L637.63 155.65 L637.93 155.66 L638.23 155.66 L638.53 155.67 L638.83 155.68 L639.13 155.68 L639.43 155.69 L639.74 155.7 L640.04 155.71 L640.34 155.71 L640.64 155.72 L640.94 155.73 L641.24 155.73 L641.54 155.74 L641.85 155.75 L642.15 155.75 L642.45 155.76 L642.75 155.76 L643.05 155.77 L643.35 155.78 L643.65 155.78 L643.96 155.79 L644.26 155.8 L644.56 155.8 L644.86 155.81 L645.16 155.81 L645.46 155.82 L645.76 155.83 L646.07 155.83 L646.37 155.84 L646.67 155.84 L646.97 155.85 L647.27 155.85 L647.57 155.86 L647.87 155.86 L648.18 155.87 L648.48 155.87 L648.78 155.88 L649.08 155.88 L649.38 155.89 L649.68 155.89 L649.98 155.9 L650.28 155.9 L650.59 155.91 L650.89 155.91 L651.19 155.92 L651.49 155.92 L651.79 155.93 L652.09 155.93 L652.39 155.94 L652.7 155.94 L653 155.95 L653.3 155.95 L653.6 155.96 L653.9 155.96 L654.2 155.97 L654.5 155.97 L654.81 155.98 L655.11 155.98 L655.41 155.99 L655.71 155.99 L656.01 155.99 L656.31 156 L656.61 156 L656.92 156.01 L657.22 156.01 L657.52 156.02 L657.82 156.02 L658.12 156.03 L658.42 156.03 L658.72 156.03 L659.03 156.04 L659.33 156.04 L659.63 156.05 L659.93 156.05 L660.23 156.05 L660.53 156.06 L660.83 156.06 L661.14 156.07 L661.44 156.07 L661.74 156.07 L662.04 156.08 L662.34 156.08 L662.64 156.09 L662.94 156.09 L663.25 156.09 L663.55 156.1 L663.85 156.1 L664.15 156.1 L664.45 156.11 L664.75 156.11 L665.05 156.12 L665.36 156.12 L665.66 156.12 L665.96 156.13 L666.26 156.13 L666.56 156.13 L666.86 156.13 L667.16 156.14 L667.46 156.14 L667.77 156.14 L668.07 156.15 L668.37 156.15 L668.67 156.15 L668.97 156.16 L669.27 156.16 L669.57 156.16 L669.88 156.16 L670.18 156.17 L670.48 156.17 L670.78 156.17 L671.08 156.17 L671.38 156.18 L671.68 156.18 L671.99 156.18 L672.29 156.18 L672.59 156.19 L672.89 156.19 L673.19 156.19 L673.49 156.19 L673.79 156.19 L674.1 156.19 L674.4 156.2 L674.7 156.2 L675 156.2" fill="none" stroke="#1a1a1a" stroke-width="1.9" stroke-linejoin="round" />
<path d="M524.17 34.33h0.01M523.84 51.77h0.01M524.04 56.79h0.01M523.97 57.33h0.01M523.71 57.43h0.01M523.25 63.89h0.01M523.19 66.09h0.01M523.76 87.46h0.01M523.75 89.38h0.01M524.26 91.86h0.01M523.76 92.29h0.01M523.66 99.39h0.01M522.73 102.23h0.01M523.82 102.61h0.01M524.19 106.48h0.01M523.79 111.84h0.01M523.58 113.29h0.01M523.28 113.29h0.01M524.39 119.56h0.01M523.2 120.28h0.01M524.03 121.89h0.01M523.54 132.13h0.01M523.66 132.64h0.01M522.74 136.57h0.01M524.07 144.95h0.01M523.46 152.31h0.01" stroke="#555555" stroke-width="1.3" stroke-linecap="round" opacity="0.85"/>
<path d="M490.2 156.86 L490.62 155.63 L491.04 156.64 L491.45 156.42 L491.87 156.73 L492.29 156.5 L492.71 156.86 L493.12 156.41 L493.54 156.27 L493.96 156.55 L494.38 156.51 L494.79 156.31 L495.21 156.34 L495.63 156.58 L496.05 156.58 L496.47 156.28 L496.88 156.31 L497.3 155.95 L497.72 156.82 L498.14 156.34 L498.55 156.73 L498.97 156.5 L499.39 156.89 L499.81 156.78 L500.23 156.48 L500.64 156.77 L501.06 156.16 L501.48 156.71 L501.9 156.03 L502.31 156.49 L502.73 156.67 L503.15 156.46 L503.57 156.31 L503.98 156.2 L504.4 156.31 L504.82 156.66 L505.24 156.62 L505.66 156.33 L506.07 156.09 L506.49 156.57 L506.91 156.04 L507.33 156.27 L507.74 156.22 L508.16 156.59 L508.58 156.46 L509 156.52 L509.42 156.47 L509.83 156.23 L510.25 156.53 L510.67 156.75 L511.09 156.39 L511.5 156.56 L511.92 156.37 L512.34 156.66 L512.76 156.57 L513.17 156.62 L513.59 156.49 L514.01 156.81 L514.43 156.31 L514.85 156.32 L515.26 156.25 L515.68 156.55 L516.1 156.24 L516.52 156.24 L516.93 156.58 L517.35 156.69 L517.77 156.54 L518.19 155.73 L518.61 156.16 L519.02 156.13 L519.44 156.1 L519.86 156.3 L520.28 156.85 L520.69 156.32 L521.11 156.22 L521.53 156.57 L521.95 156.42 L522.36 156.43 L522.78 156.23 L523.2 156.4" fill="none" stroke="#dcb030" stroke-width="1.3" stroke-linejoin="round" />
<path d="M524.6 30.6 L524.9 38.11 L525.2 45.24 L525.5 51.92 L525.81 58.11 L526.11 64.04 L526.41 69.78 L526.71 75.07 L527.01 79.63 L527.31 83.25 L527.61 86.31 L527.92 89.03 L528.22 91.47 L528.52 93.72 L528.82 95.85 L529.12 97.95 L529.42 100.05 L529.72 102.13 L530.03 104.17 L530.33 106.15 L530.63 108.06 L530.93 109.89 L531.23 111.64 L531.53 113.28 L531.83 114.81 L532.14 116.21 L532.44 117.51 L532.74 118.76 L533.04 119.96 L533.34 121.11 L533.64 122.2 L533.94 123.25 L534.24 124.25 L534.55 125.2 L534.85 126.1 L535.15 126.94 L535.45 127.74 L535.75 128.49 L536.05 129.19 L536.35 129.87 L536.66 130.52 L536.96 131.15 L537.26 131.75 L537.56 132.34 L537.86 132.9 L538.16 133.44 L538.46 133.96 L538.77 134.46 L539.07 134.95 L539.37 135.42 L539.67 135.87 L539.97 136.3 L540.27 136.73 L540.57 137.13 L540.88 137.53 L541.18 137.91 L541.48 138.28 L541.78 138.65 L542.08 139 L542.38 139.34 L542.68 139.67 L542.99 139.99 L543.29 140.3 L543.59 140.6 L543.89 140.9 L544.19 141.19 L544.49 141.47 L544.79 141.74 L545.1 142 L545.4 142.26 L545.7 142.52 L546 142.76 L546.3 143 L546.6 143.24 L546.9 143.47 L547.21 143.69 L547.51 143.91 L547.81 144.11 L548.11 144.31 L548.41 144.5 L548.71 144.68 L549.01 144.85 L549.32 145.02 L549.62 145.18 L549.92 145.34 L550.22 145.5 L550.52 145.65 L550.82 145.81 L551.12 145.96 L551.42 146.11 L551.73 146.26 L552.03 146.41 L552.33 146.55 L552.63 146.7 L552.93 146.84 L553.23 146.98 L553.53 147.11 L553.84 147.25 L554.14 147.38 L554.44 147.51 L554.74 147.64 L555.04 147.77 L555.34 147.9 L555.64 148.02 L555.95 148.14 L556.25 148.26 L556.55 148.37 L556.85 148.48 L557.15 148.59 L557.45 148.7 L557.75 148.81 L558.06 148.91 L558.36 149.01 L558.66 149.11 L558.96 149.2 L559.26 149.3 L559.56 149.39 L559.86 149.47 L560.17 149.56 L560.47 149.64 L560.77 149.72 L561.07 149.79 L561.37 149.87 L561.67 149.94 L561.97 150.01 L562.28 150.08 L562.58 150.15 L562.88 150.21 L563.18 150.28 L563.48 150.35 L563.78 150.41 L564.08 150.47 L564.39 150.53 L564.69 150.59 L564.99 150.65 L565.29 150.71 L565.59 150.77 L565.89 150.83 L566.19 150.88 L566.49 150.94 L566.8 150.99 L567.1 151.04 L567.4 151.1 L567.7 151.15 L568 151.2 L568.3 151.25 L568.6 151.3 L568.91 151.35 L569.21 151.39 L569.51 151.44 L569.81 151.49 L570.11 151.53 L570.41 151.58 L570.71 151.62 L571.02 151.67 L571.32 151.71 L571.62 151.75 L571.92 151.79 L572.22 151.84 L572.52 151.88 L572.82 151.92 L573.13 151.96 L573.43 152 L573.73 152.04 L574.03 152.08 L574.33 152.11 L574.63 152.15 L574.93 152.19 L575.24 152.23 L575.54 152.27 L575.84 152.31 L576.14 152.34 L576.44 152.38 L576.74 152.42 L577.04 152.46 L577.35 152.5 L577.65 152.53 L577.95 152.57 L578.25 152.61 L578.55 152.65 L578.85 152.68 L579.15 152.72 L579.46 152.76 L579.76 152.8 L580.06 152.83 L580.36 152.87 L580.66 152.91 L580.96 152.95 L581.26 152.98 L581.57 153.02 L581.87 153.06 L582.17 153.09 L582.47 153.13 L582.77 153.17 L583.07 153.2 L583.37 153.24 L583.67 153.28 L583.98 153.31 L584.28 153.35 L584.58 153.39 L584.88 153.42 L585.18 153.46 L585.48 153.49 L585.78 153.53 L586.09 153.57 L586.39 153.6 L586.69 153.64 L586.99 153.67 L587.29 153.71 L587.59 153.74 L587.89 153.78 L588.2 153.81 L588.5 153.85 L588.8 153.88 L589.1 153.92 L589.4 153.95 L589.7 153.98 L590 154.02 L590.31 154.05 L590.61 154.09 L590.91 154.12 L591.21 154.15 L591.51 154.19 L591.81 154.22 L592.11 154.25 L592.42 154.29 L592.72 154.32 L593.02 154.35 L593.32 154.38 L593.62 154.42 L593.92 154.45 L594.22 154.48 L594.53 154.51 L594.83 154.54 L595.13 154.57 L595.43 154.61 L595.73 154.64 L596.03 154.67 L596.33 154.7 L596.64 154.73 L596.94 154.76 L597.24 154.79 L597.54 154.82 L597.84 154.85 L598.14 154.88 L598.44 154.91 L598.75 154.94 L599.05 154.96 L599.35 154.99 L599.65 155.02 L599.95 155.05 L600.25 155.08 L600.55 155.11 L600.85 155.13 L601.16 155.16 L601.46 155.19 L601.76 155.21 L602.06 155.24 L602.36 155.27 L602.66 155.29 L602.96 155.32 L603.27 155.34 L603.57 155.37 L603.87 155.39 L604.17 155.42 L604.47 155.44 L604.77 155.47 L605.07 155.49 L605.38 155.52 L605.68 155.54 L605.98 155.56 L606.28 155.59 L606.58 155.61 L606.88 155.63 L607.18 155.65 L607.49 155.67 L607.79 155.7 L608.09 155.72 L608.39 155.74 L608.69 155.76 L608.99 155.78 L609.29 155.8 L609.6 155.82 L609.9 155.84 L610.2 155.86 L610.5 155.88 L610.8 155.9 L611.1 155.91 L611.4 155.93 L611.71 155.95 L612.01 155.97 L612.31 155.98 L612.61 156 L612.91 156.02 L613.21 156.03 L613.51 156.05 L613.82 156.06 L614.12 156.08 L614.42 156.09 L614.72 156.11 L615.02 156.12 L615.32 156.13 L615.62 156.15 L615.93 156.16 L616.23 156.17 L616.53 156.19 L616.83 156.2 L617.13 156.21 L617.43 156.22 L617.73 156.23 L618.03 156.24 L618.34 156.25 L618.64 156.26 L618.94 156.27 L619.24 156.28 L619.54 156.29 L619.84 156.3 L620.14 156.3 L620.45 156.31 L620.75 156.32 L621.05 156.33 L621.35 156.33 L621.65 156.34 L621.95 156.35 L622.25 156.36 L622.56 156.36 L622.86 156.37 L623.16 156.38 L623.46 156.39 L623.76 156.39 L624.06 156.4 L624.36 156.41 L624.67 156.42 L624.97 156.42 L625.27 156.43 L625.57 156.44 L625.87 156.45 L626.17 156.45 L626.47 156.46 L626.78 156.47 L627.08 156.47 L627.38 156.48 L627.68 156.49 L627.98 156.5 L628.28 156.5 L628.58 156.51 L628.89 156.52 L629.19 156.52 L629.49 156.53 L629.79 156.54 L630.09 156.54 L630.39 156.55 L630.69 156.56 L631 156.56 L631.3 156.57 L631.6 156.58 L631.9 156.58 L632.2 156.59 L632.5 156.6 L632.8 156.6 L633.11 156.61 L633.41 156.62 L633.71 156.62 L634.01 156.63 L634.31 156.64 L634.61 156.64 L634.91 156.65 L635.21 156.65 L635.52 156.66 L635.82 156.67 L636.12 156.67 L636.42 156.68 L636.72 156.69 L637.02 156.69 L637.32 156.7 L637.63 156.7 L637.93 156.71 L638.23 156.71 L638.53 156.72 L638.83 156.73 L639.13 156.73 L639.43 156.74 L639.74 156.74 L640.04 156.75 L640.34 156.75 L640.64 156.76 L640.94 156.77 L641.24 156.77 L641.54 156.78 L641.85 156.78 L642.15 156.79 L642.45 156.79 L642.75 156.8 L643.05 156.8 L643.35 156.81 L643.65 156.81 L643.96 156.82 L644.26 156.82 L644.56 156.83 L644.86 156.83 L645.16 156.84 L645.46 156.84 L645.76 156.85 L646.07 156.85 L646.37 156.86 L646.67 156.86 L646.97 156.87 L647.27 156.87 L647.57 156.88 L647.87 156.88 L648.18 156.89 L648.48 156.89 L648.78 156.9 L649.08 156.9 L649.38 156.9 L649.68 156.91 L649.98 156.91 L650.28 156.92 L650.59 156.92 L650.89 156.93 L651.19 156.93 L651.49 156.93 L651.79 156.94 L652.09 156.94 L652.39 156.95 L652.7 156.95 L653 156.95 L653.3 156.96 L653.6 156.96 L653.9 156.97 L654.2 156.97 L654.5 156.97 L654.81 156.98 L655.11 156.98 L655.41 156.98 L655.71 156.99 L656.01 156.99 L656.31 156.99 L656.61 157 L656.92 157 L657.22 157 L657.52 157.01 L657.82 157.01 L658.12 157.01 L658.42 157.02 L658.72 157.02 L659.03 157.02 L659.33 157.02 L659.63 157.03 L659.93 157.03 L660.23 157.03 L660.53 157.04 L660.83 157.04 L661.14 157.04 L661.44 157.04 L661.74 157.05 L662.04 157.05 L662.34 157.05 L662.64 157.05 L662.94 157.05 L663.25 157.06 L663.55 157.06 L663.85 157.06 L664.15 157.06 L664.45 157.07 L664.75 157.07 L665.05 157.07 L665.36 157.07 L665.66 157.07 L665.96 157.07 L666.26 157.08 L666.56 157.08 L666.86 157.08 L667.16 157.08 L667.46 157.08 L667.77 157.08 L668.07 157.08 L668.37 157.09 L668.67 157.09 L668.97 157.09 L669.27 157.09 L669.57 157.09 L669.88 157.09 L670.18 157.09 L670.48 157.09 L670.78 157.09 L671.08 157.1 L671.38 157.1 L671.68 157.1 L671.99 157.1 L672.29 157.1 L672.59 157.1 L672.89 157.1 L673.19 157.1 L673.49 157.1 L673.79 157.1 L674.1 157.1 L674.4 157.1 L674.7 157.1 L675 157.1" fill="none" stroke="#dcb030" stroke-width="1.5" stroke-linejoin="round" />
<path d="M523.24 54.19h0.01M523.23 66.74h0.01M523.31 68.19h0.01M523.51 77.88h0.01M524.22 79.96h0.01M523.49 80.92h0.01M523 87.77h0.01M523.61 88.89h0.01M523.14 91h0.01M523.78 96.19h0.01M523.28 97.4h0.01M524.32 102.89h0.01M523.44 111.27h0.01M523.69 115.88h0.01M523.69 118.7h0.01M523.4 118.79h0.01M524.36 121.3h0.01M522.77 122.25h0.01M523.96 124.08h0.01M523.15 125.41h0.01M522.8 126.23h0.01M523.01 127.7h0.01M523.98 128.42h0.01M524.24 134.49h0.01M524.02 149.55h0.01M523.18 152.24h0.01" stroke="#e8a838" stroke-width="1.3" stroke-linecap="round" opacity="0.85"/>
<path d="M490.2 157.67 L490.62 157.26 L491.04 157.11 L491.45 156.77 L491.87 157.41 L492.29 157.81 L492.71 157.51 L493.12 157.63 L493.54 157.76 L493.96 157.28 L494.38 158.16 L494.79 157.28 L495.21 157.59 L495.63 158.18 L496.05 157.47 L496.47 157.53 L496.88 157.37 L497.3 157.58 L497.72 156.97 L498.14 157.34 L498.55 157.92 L498.97 157.55 L499.39 157.44 L499.81 157.59 L500.23 157.6 L500.64 157.54 L501.06 157.64 L501.48 157.09 L501.9 157.65 L502.31 157.33 L502.73 157.7 L503.15 157.49 L503.57 157.25 L503.98 157.48 L504.4 157.25 L504.82 157.75 L505.24 157.49 L505.66 157.71 L506.07 157.22 L506.49 157.9 L506.91 157.42 L507.33 157.84 L507.74 157.71 L508.16 157.22 L508.58 157.58 L509 157.36 L509.42 157.6 L509.83 157.86 L510.25 157.67 L510.67 157.77 L511.09 157.21 L511.5 157.55 L511.92 157.59 L512.34 157.77 L512.76 157.35 L513.17 157.64 L513.59 157.61 L514.01 157.12 L514.43 157.24 L514.85 157.61 L515.26 157.21 L515.68 157.19 L516.1 157.72 L516.52 157.57 L516.93 157.44 L517.35 157.53 L517.77 157.4 L518.19 157.37 L518.61 157.38 L519.02 157.6 L519.44 157.83 L519.86 157.38 L520.28 157.48 L520.69 157.45 L521.11 157.18 L521.53 157.56 L521.95 157.72 L522.36 157.29 L522.78 157.71 L523.2 157.36" fill="none" stroke="#6060c0" stroke-width="1.3" stroke-linejoin="round" />
<path d="M524.6 30.6 L524.9 38.72 L525.2 46.39 L525.5 53.55 L525.81 60.12 L526.11 66.37 L526.41 72.41 L526.71 77.93 L527.01 82.62 L527.31 86.24 L527.61 89.24 L527.92 91.87 L528.22 94.21 L528.52 96.36 L528.82 98.41 L529.12 100.46 L529.42 102.54 L529.72 104.61 L530.03 106.65 L530.33 108.65 L530.63 110.58 L530.93 112.44 L531.23 114.2 L531.53 115.86 L531.83 117.41 L532.14 118.82 L532.44 120.11 L532.74 121.35 L533.04 122.54 L533.34 123.68 L533.64 124.78 L533.94 125.82 L534.24 126.81 L534.55 127.75 L534.85 128.63 L535.15 129.47 L535.45 130.25 L535.75 130.99 L536.05 131.68 L536.35 132.34 L536.66 132.99 L536.96 133.6 L537.26 134.2 L537.56 134.77 L537.86 135.32 L538.16 135.85 L538.46 136.36 L538.77 136.85 L539.07 137.33 L539.37 137.78 L539.67 138.22 L539.97 138.64 L540.27 139.05 L540.57 139.44 L540.88 139.82 L541.18 140.18 L541.48 140.54 L541.78 140.88 L542.08 141.21 L542.38 141.53 L542.68 141.84 L542.99 142.14 L543.29 142.44 L543.59 142.72 L543.89 143 L544.19 143.27 L544.49 143.53 L544.79 143.79 L545.1 144.04 L545.4 144.28 L545.7 144.52 L546 144.76 L546.3 144.99 L546.6 145.21 L546.9 145.43 L547.21 145.64 L547.51 145.84 L547.81 146.04 L548.11 146.23 L548.41 146.41 L548.71 146.59 L549.01 146.75 L549.32 146.91 L549.62 147.07 L549.92 147.22 L550.22 147.38 L550.52 147.53 L550.82 147.68 L551.12 147.83 L551.42 147.98 L551.73 148.12 L552.03 148.26 L552.33 148.41 L552.63 148.55 L552.93 148.68 L553.23 148.82 L553.53 148.96 L553.84 149.09 L554.14 149.22 L554.44 149.35 L554.74 149.47 L555.04 149.6 L555.34 149.72 L555.64 149.84 L555.95 149.96 L556.25 150.07 L556.55 150.19 L556.85 150.3 L557.15 150.41 L557.45 150.51 L557.75 150.62 L558.06 150.72 L558.36 150.82 L558.66 150.92 L558.96 151.01 L559.26 151.1 L559.56 151.19 L559.86 151.28 L560.17 151.36 L560.47 151.44 L560.77 151.52 L561.07 151.59 L561.37 151.67 L561.67 151.74 L561.97 151.81 L562.28 151.88 L562.58 151.95 L562.88 152.01 L563.18 152.08 L563.48 152.15 L563.78 152.21 L564.08 152.27 L564.39 152.34 L564.69 152.4 L564.99 152.46 L565.29 152.52 L565.59 152.58 L565.89 152.63 L566.19 152.69 L566.49 152.75 L566.8 152.8 L567.1 152.86 L567.4 152.91 L567.7 152.96 L568 153.01 L568.3 153.06 L568.6 153.11 L568.91 153.16 L569.21 153.21 L569.51 153.26 L569.81 153.3 L570.11 153.35 L570.41 153.39 L570.71 153.44 L571.02 153.48 L571.32 153.53 L571.62 153.57 L571.92 153.61 L572.22 153.65 L572.52 153.69 L572.82 153.73 L573.13 153.77 L573.43 153.81 L573.73 153.85 L574.03 153.88 L574.33 153.92 L574.63 153.96 L574.93 153.99 L575.24 154.03 L575.54 154.06 L575.84 154.1 L576.14 154.13 L576.44 154.17 L576.74 154.2 L577.04 154.24 L577.35 154.27 L577.65 154.31 L577.95 154.34 L578.25 154.38 L578.55 154.41 L578.85 154.45 L579.15 154.48 L579.46 154.51 L579.76 154.55 L580.06 154.58 L580.36 154.62 L580.66 154.65 L580.96 154.69 L581.26 154.72 L581.57 154.75 L581.87 154.79 L582.17 154.82 L582.47 154.85 L582.77 154.89 L583.07 154.92 L583.37 154.95 L583.67 154.99 L583.98 155.02 L584.28 155.05 L584.58 155.09 L584.88 155.12 L585.18 155.15 L585.48 155.18 L585.78 155.22 L586.09 155.25 L586.39 155.28 L586.69 155.31 L586.99 155.35 L587.29 155.38 L587.59 155.41 L587.89 155.44 L588.2 155.47 L588.5 155.5 L588.8 155.53 L589.1 155.57 L589.4 155.6 L589.7 155.63 L590 155.66 L590.31 155.69 L590.61 155.72 L590.91 155.75 L591.21 155.78 L591.51 155.81 L591.81 155.84 L592.11 155.87 L592.42 155.9 L592.72 155.92 L593.02 155.95 L593.32 155.98 L593.62 156.01 L593.92 156.04 L594.22 156.07 L594.53 156.1 L594.83 156.12 L595.13 156.15 L595.43 156.18 L595.73 156.21 L596.03 156.23 L596.33 156.26 L596.64 156.29 L596.94 156.31 L597.24 156.34 L597.54 156.37 L597.84 156.39 L598.14 156.42 L598.44 156.44 L598.75 156.47 L599.05 156.49 L599.35 156.52 L599.65 156.54 L599.95 156.57 L600.25 156.59 L600.55 156.62 L600.85 156.64 L601.16 156.66 L601.46 156.69 L601.76 156.71 L602.06 156.73 L602.36 156.76 L602.66 156.78 L602.96 156.8 L603.27 156.82 L603.57 156.84 L603.87 156.87 L604.17 156.89 L604.47 156.91 L604.77 156.93 L605.07 156.95 L605.38 156.97 L605.68 156.99 L605.98 157.01 L606.28 157.03 L606.58 157.05 L606.88 157.07 L607.18 157.09 L607.49 157.1 L607.79 157.12 L608.09 157.14 L608.39 157.16 L608.69 157.17 L608.99 157.19 L609.29 157.21 L609.6 157.22 L609.9 157.24 L610.2 157.26 L610.5 157.27 L610.8 157.29 L611.1 157.3 L611.4 157.32 L611.71 157.33 L612.01 157.35 L612.31 157.36 L612.61 157.37 L612.91 157.39 L613.21 157.4 L613.51 157.41 L613.82 157.42 L614.12 157.44 L614.42 157.45 L614.72 157.46 L615.02 157.47 L615.32 157.48 L615.62 157.49 L615.93 157.5 L616.23 157.51 L616.53 157.52 L616.83 157.53 L617.13 157.54 L617.43 157.54 L617.73 157.55 L618.03 157.56 L618.34 157.57 L618.64 157.57 L618.94 157.58 L619.24 157.59 L619.54 157.59 L619.84 157.6 L620.14 157.6 L620.45 157.61 L620.75 157.61 L621.05 157.62 L621.35 157.62 L621.65 157.63 L621.95 157.63 L622.25 157.64 L622.56 157.64 L622.86 157.65 L623.16 157.65 L623.46 157.66 L623.76 157.66 L624.06 157.67 L624.36 157.67 L624.67 157.68 L624.97 157.68 L625.27 157.69 L625.57 157.69 L625.87 157.69 L626.17 157.7 L626.47 157.7 L626.78 157.71 L627.08 157.71 L627.38 157.72 L627.68 157.72 L627.98 157.73 L628.28 157.73 L628.58 157.74 L628.89 157.74 L629.19 157.74 L629.49 157.75 L629.79 157.75 L630.09 157.76 L630.39 157.76 L630.69 157.77 L631 157.77 L631.3 157.77 L631.6 157.78 L631.9 157.78 L632.2 157.79 L632.5 157.79 L632.8 157.8 L633.11 157.8 L633.41 157.8 L633.71 157.81 L634.01 157.81 L634.31 157.82 L634.61 157.82 L634.91 157.82 L635.21 157.83 L635.52 157.83 L635.82 157.83 L636.12 157.84 L636.42 157.84 L636.72 157.85 L637.02 157.85 L637.32 157.85 L637.63 157.86 L637.93 157.86 L638.23 157.87 L638.53 157.87 L638.83 157.87 L639.13 157.88 L639.43 157.88 L639.74 157.88 L640.04 157.89 L640.34 157.89 L640.64 157.89 L640.94 157.9 L641.24 157.9 L641.54 157.9 L641.85 157.91 L642.15 157.91 L642.45 157.91 L642.75 157.92 L643.05 157.92 L643.35 157.92 L643.65 157.93 L643.96 157.93 L644.26 157.93 L644.56 157.94 L644.86 157.94 L645.16 157.94 L645.46 157.95 L645.76 157.95 L646.07 157.95 L646.37 157.95 L646.67 157.96 L646.97 157.96 L647.27 157.96 L647.57 157.97 L647.87 157.97 L648.18 157.97 L648.48 157.97 L648.78 157.98 L649.08 157.98 L649.38 157.98 L649.68 157.99 L649.98 157.99 L650.28 157.99 L650.59 157.99 L650.89 158 L651.19 158 L651.49 158 L651.79 158 L652.09 158.01 L652.39 158.01 L652.7 158.01 L653 158.01 L653.3 158.01 L653.6 158.02 L653.9 158.02 L654.2 158.02 L654.5 158.02 L654.81 158.03 L655.11 158.03 L655.41 158.03 L655.71 158.03 L656.01 158.03 L656.31 158.04 L656.61 158.04 L656.92 158.04 L657.22 158.04 L657.52 158.04 L657.82 158.05 L658.12 158.05 L658.42 158.05 L658.72 158.05 L659.03 158.05 L659.33 158.05 L659.63 158.06 L659.93 158.06 L660.23 158.06 L660.53 158.06 L660.83 158.06 L661.14 158.06 L661.44 158.07 L661.74 158.07 L662.04 158.07 L662.34 158.07 L662.64 158.07 L662.94 158.07 L663.25 158.07 L663.55 158.08 L663.85 158.08 L664.15 158.08 L664.45 158.08 L664.75 158.08 L665.05 158.08 L665.36 158.08 L665.66 158.08 L665.96 158.08 L666.26 158.09 L666.56 158.09 L666.86 158.09 L667.16 158.09 L667.46 158.09 L667.77 158.09 L668.07 158.09 L668.37 158.09 L668.67 158.09 L668.97 158.09 L669.27 158.09 L669.57 158.09 L669.88 158.1 L670.18 158.1 L670.48 158.1 L670.78 158.1 L671.08 158.1 L671.38 158.1 L671.68 158.1 L671.99 158.1 L672.29 158.1 L672.59 158.1 L672.89 158.1 L673.19 158.1 L673.49 158.1 L673.79 158.1 L674.1 158.1 L674.4 158.1 L674.7 158.1 L675 158.1" fill="none" stroke="#6060c0" stroke-width="1.8" stroke-linejoin="round" />
<path d="M522.9 34.87h0.01M523.59 37.69h0.01M523.37 40.16h0.01M523.03 41.29h0.01M523.4 41.47h0.01M523.66 50.96h0.01M522.87 52.13h0.01M524.32 60.46h0.01M523.54 61.86h0.01M522.83 63.81h0.01M523.87 67.3h0.01M524.31 70.77h0.01M522.73 75.15h0.01M523.86 75.65h0.01M524.13 80.46h0.01M523.46 80.6h0.01M522.83 88.92h0.01M523.99 93.28h0.01M523.27 93.84h0.01M523.21 110.19h0.01M524.01 110.27h0.01M522.71 121.12h0.01M523.12 126.91h0.01M524.24 129.2h0.01M522.97 131.21h0.01M522.82 154.16h0.01" stroke="#8a8ad0" stroke-width="1.3" stroke-linecap="round" opacity="0.85"/>
<path d="M490.2 158.61 L490.62 158.94 L491.04 158.91 L491.45 158.47 L491.87 158.53 L492.29 158.47 L492.71 158.74 L493.12 158.59 L493.54 158.79 L493.96 158.14 L494.38 158.99 L494.79 158.58 L495.21 158.77 L495.63 158.57 L496.05 158.51 L496.47 158.72 L496.88 158.81 L497.3 158.55 L497.72 158.56 L498.14 158.77 L498.55 158.38 L498.97 158.22 L499.39 158.7 L499.81 158.43 L500.23 158.12 L500.64 158.4 L501.06 158.48 L501.48 158.3 L501.9 158.23 L502.31 158.61 L502.73 158.82 L503.15 158.54 L503.57 158.41 L503.98 158.7 L504.4 158.78 L504.82 158.52 L505.24 158.74 L505.66 158.86 L506.07 158.55 L506.49 158.4 L506.91 158.69 L507.33 158.66 L507.74 158.87 L508.16 158.28 L508.58 158.43 L509 158.39 L509.42 158.17 L509.83 158.63 L510.25 158.73 L510.67 158.42 L511.09 158.95 L511.5 158.81 L511.92 158.76 L512.34 158.7 L512.76 158.84 L513.17 158.27 L513.59 158.75 L514.01 158.75 L514.43 158.16 L514.85 158.69 L515.26 158.54 L515.68 158.8 L516.1 158.49 L516.52 158.6 L516.93 158.69 L517.35 158.38 L517.77 158.75 L518.19 158.57 L518.61 158.72 L519.02 158.47 L519.44 158.87 L519.86 158.75 L520.28 158.56 L520.69 158.76 L521.11 158.91 L521.53 159.05 L521.95 158.21 L522.36 158.82 L522.78 158.72 L523.2 158.58" fill="none" stroke="#2a5a98" stroke-width="1.3" stroke-linejoin="round" />
<path d="M524.5 30.6 L524.8 46.01 L525.1 62.65 L525.4 80.29 L525.71 102.55 L526.01 119.2 L526.31 126.11 L526.61 131.58 L526.91 135.77 L527.21 138.87 L527.52 141.04 L527.82 142.57 L528.12 143.9 L528.42 145.06 L528.72 146.06 L529.02 146.94 L529.33 147.7 L529.63 148.37 L529.93 148.98 L530.23 149.53 L530.53 150.05 L530.83 150.56 L531.14 151.04 L531.44 151.51 L531.74 151.95 L532.04 152.37 L532.34 152.77 L532.64 153.15 L532.94 153.5 L533.25 153.82 L533.55 154.12 L533.85 154.4 L534.15 154.65 L534.45 154.87 L534.75 155.06 L535.06 155.23 L535.36 155.38 L535.66 155.53 L535.96 155.67 L536.26 155.81 L536.56 155.95 L536.87 156.08 L537.17 156.2 L537.47 156.32 L537.77 156.44 L538.07 156.55 L538.37 156.65 L538.68 156.76 L538.98 156.85 L539.28 156.94 L539.58 157.03 L539.88 157.12 L540.18 157.19 L540.48 157.27 L540.79 157.34 L541.09 157.4 L541.39 157.46 L541.69 157.51 L541.99 157.56 L542.29 157.61 L542.6 157.65 L542.9 157.68 L543.2 157.71 L543.5 157.74 L543.8 157.77 L544.1 157.79 L544.41 157.82 L544.71 157.85 L545.01 157.88 L545.31 157.9 L545.61 157.93 L545.91 157.95 L546.22 157.98 L546.52 158.01 L546.82 158.03 L547.12 158.06 L547.42 158.08 L547.72 158.1 L548.03 158.13 L548.33 158.15 L548.63 158.17 L548.93 158.2 L549.23 158.22 L549.53 158.24 L549.83 158.26 L550.14 158.28 L550.44 158.31 L550.74 158.33 L551.04 158.35 L551.34 158.37 L551.64 158.39 L551.95 158.41 L552.25 158.43 L552.55 158.45 L552.85 158.47 L553.15 158.48 L553.45 158.5 L553.76 158.52 L554.06 158.54 L554.36 158.56 L554.66 158.57 L554.96 158.59 L555.26 158.61 L555.57 158.62 L555.87 158.64 L556.17 158.66 L556.47 158.67 L556.77 158.69 L557.07 158.7 L557.37 158.72 L557.68 158.73 L557.98 158.75 L558.28 158.76 L558.58 158.78 L558.88 158.79 L559.18 158.8 L559.49 158.82 L559.79 158.83 L560.09 158.84 L560.39 158.85 L560.69 158.87 L560.99 158.88 L561.3 158.89 L561.6 158.9 L561.9 158.91 L562.2 158.92 L562.5 158.93 L562.8 158.94 L563.11 158.96 L563.41 158.97 L563.71 158.98 L564.01 158.98 L564.31 158.99 L564.61 159 L564.91 159.01 L565.22 159.02 L565.52 159.03 L565.82 159.04 L566.12 159.05 L566.42 159.05 L566.72 159.06 L567.03 159.07 L567.33 159.08 L567.63 159.08 L567.93 159.09 L568.23 159.1 L568.53 159.1 L568.84 159.11 L569.14 159.12 L569.44 159.12 L569.74 159.13 L570.04 159.13 L570.34 159.14 L570.65 159.14 L570.95 159.15 L571.25 159.15 L571.55 159.16 L571.85 159.16 L572.15 159.17 L572.45 159.17 L572.76 159.18 L573.06 159.18 L573.36 159.18 L573.66 159.19 L573.96 159.19 L574.26 159.19 L574.57 159.2 L574.87 159.2 L575.17 159.2 L575.47 159.2 L575.77 159.21 L576.07 159.21 L576.38 159.21 L576.68 159.21 L576.98 159.22 L577.28 159.22 L577.58 159.22 L577.88 159.22 L578.19 159.23 L578.49 159.23 L578.79 159.23 L579.09 159.23 L579.39 159.24 L579.69 159.24 L579.99 159.24 L580.3 159.24 L580.6 159.25 L580.9 159.25 L581.2 159.25 L581.5 159.25 L581.8 159.26 L582.11 159.26 L582.41 159.26 L582.71 159.26 L583.01 159.27 L583.31 159.27 L583.61 159.27 L583.92 159.27 L584.22 159.28 L584.52 159.28 L584.82 159.28 L585.12 159.28 L585.42 159.28 L585.73 159.29 L586.03 159.29 L586.33 159.29 L586.63 159.29 L586.93 159.3 L587.23 159.3 L587.54 159.3 L587.84 159.3 L588.14 159.3 L588.44 159.31 L588.74 159.31 L589.04 159.31 L589.34 159.31 L589.65 159.32 L589.95 159.32 L590.25 159.32 L590.55 159.32 L590.85 159.32 L591.15 159.33 L591.46 159.33 L591.76 159.33 L592.06 159.33 L592.36 159.33 L592.66 159.34 L592.96 159.34 L593.27 159.34 L593.57 159.34 L593.87 159.34 L594.17 159.35 L594.47 159.35 L594.77 159.35 L595.08 159.35 L595.38 159.35 L595.68 159.36 L595.98 159.36 L596.28 159.36 L596.58 159.36 L596.88 159.36 L597.19 159.37 L597.49 159.37 L597.79 159.37 L598.09 159.37 L598.39 159.37 L598.69 159.38 L599 159.38 L599.3 159.38 L599.6 159.38 L599.9 159.38 L600.2 159.39 L600.5 159.39 L600.81 159.39 L601.11 159.39 L601.41 159.39 L601.71 159.39 L602.01 159.4 L602.31 159.4 L602.62 159.4 L602.92 159.4 L603.22 159.4 L603.52 159.4 L603.82 159.41 L604.12 159.41 L604.42 159.41 L604.73 159.41 L605.03 159.41 L605.33 159.42 L605.63 159.42 L605.93 159.42 L606.23 159.42 L606.54 159.42 L606.84 159.42 L607.14 159.43 L607.44 159.43 L607.74 159.43 L608.04 159.43 L608.35 159.43 L608.65 159.43 L608.95 159.43 L609.25 159.44 L609.55 159.44 L609.85 159.44 L610.16 159.44 L610.46 159.44 L610.76 159.44 L611.06 159.45 L611.36 159.45 L611.66 159.45 L611.96 159.45 L612.27 159.45 L612.57 159.45 L612.87 159.45 L613.17 159.46 L613.47 159.46 L613.77 159.46 L614.08 159.46 L614.38 159.46 L614.68 159.46 L614.98 159.46 L615.28 159.47 L615.58 159.47 L615.89 159.47 L616.19 159.47 L616.49 159.47 L616.79 159.47 L617.09 159.47 L617.39 159.48 L617.7 159.48 L618 159.48 L618.3 159.48 L618.6 159.48 L618.9 159.48 L619.2 159.48 L619.51 159.49 L619.81 159.49 L620.11 159.49 L620.41 159.49 L620.71 159.49 L621.01 159.49 L621.31 159.49 L621.62 159.49 L621.92 159.5 L622.22 159.5 L622.52 159.5 L622.82 159.5 L623.12 159.5 L623.43 159.5 L623.73 159.5 L624.03 159.5 L624.33 159.51 L624.63 159.51 L624.93 159.51 L625.24 159.51 L625.54 159.51 L625.84 159.51 L626.14 159.51 L626.44 159.51 L626.74 159.51 L627.05 159.52 L627.35 159.52 L627.65 159.52 L627.95 159.52 L628.25 159.52 L628.55 159.52 L628.85 159.52 L629.16 159.52 L629.46 159.52 L629.76 159.53 L630.06 159.53 L630.36 159.53 L630.66 159.53 L630.97 159.53 L631.27 159.53 L631.57 159.53 L631.87 159.53 L632.17 159.53 L632.47 159.53 L632.78 159.54 L633.08 159.54 L633.38 159.54 L633.68 159.54 L633.98 159.54 L634.28 159.54 L634.59 159.54 L634.89 159.54 L635.19 159.54 L635.49 159.54 L635.79 159.54 L636.09 159.55 L636.39 159.55 L636.7 159.55 L637 159.55 L637.3 159.55 L637.6 159.55 L637.9 159.55 L638.2 159.55 L638.51 159.55 L638.81 159.55 L639.11 159.55 L639.41 159.55 L639.71 159.56 L640.01 159.56 L640.32 159.56 L640.62 159.56 L640.92 159.56 L641.22 159.56 L641.52 159.56 L641.82 159.56 L642.13 159.56 L642.43 159.56 L642.73 159.56 L643.03 159.56 L643.33 159.56 L643.63 159.56 L643.93 159.57 L644.24 159.57 L644.54 159.57 L644.84 159.57 L645.14 159.57 L645.44 159.57 L645.74 159.57 L646.05 159.57 L646.35 159.57 L646.65 159.57 L646.95 159.57 L647.25 159.57 L647.55 159.57 L647.86 159.57 L648.16 159.57 L648.46 159.58 L648.76 159.58 L649.06 159.58 L649.36 159.58 L649.67 159.58 L649.97 159.58 L650.27 159.58 L650.57 159.58 L650.87 159.58 L651.17 159.58 L651.47 159.58 L651.78 159.58 L652.08 159.58 L652.38 159.58 L652.68 159.58 L652.98 159.58 L653.28 159.58 L653.59 159.58 L653.89 159.58 L654.19 159.58 L654.49 159.59 L654.79 159.59 L655.09 159.59 L655.4 159.59 L655.7 159.59 L656 159.59 L656.3 159.59 L656.6 159.59 L656.9 159.59 L657.21 159.59 L657.51 159.59 L657.81 159.59 L658.11 159.59 L658.41 159.59 L658.71 159.59 L659.02 159.59 L659.32 159.59 L659.62 159.59 L659.92 159.59 L660.22 159.59 L660.52 159.59 L660.82 159.59 L661.13 159.59 L661.43 159.59 L661.73 159.59 L662.03 159.59 L662.33 159.59 L662.63 159.59 L662.94 159.59 L663.24 159.6 L663.54 159.6 L663.84 159.6 L664.14 159.6 L664.44 159.6 L664.75 159.6 L665.05 159.6 L665.35 159.6 L665.65 159.6 L665.95 159.6 L666.25 159.6 L666.56 159.6 L666.86 159.6 L667.16 159.6 L667.46 159.6 L667.76 159.6 L668.06 159.6 L668.36 159.6 L668.67 159.6 L668.97 159.6 L669.27 159.6 L669.57 159.6 L669.87 159.6 L670.17 159.6 L670.48 159.6 L670.78 159.6 L671.08 159.6 L671.38 159.6 L671.68 159.6 L671.98 159.6 L672.29 159.6 L672.59 159.6 L672.89 159.6 L673.19 159.6 L673.49 159.6 L673.79 159.6 L674.1 159.6 L674.4 159.6 L674.7 159.6 L675 159.6" fill="none" stroke="#2a5a98" stroke-width="1.5" stroke-linejoin="round" />
<path d="M522.98 36.41h0.01M524.4 36.99h0.01M522.94 40.4h0.01M523.12 49.9h0.01M523.31 50.66h0.01M522.8 62.54h0.01M524.18 71.16h0.01M523.78 74.45h0.01M522.97 76.78h0.01M523.55 82.34h0.01M522.83 86.33h0.01M523.74 87.21h0.01M523.09 100.01h0.01M522.77 110.02h0.01M522.9 114.42h0.01M523.64 118.26h0.01M523.78 124.43h0.01M523.25 125.02h0.01M523.79 126.6h0.01M523.3 129.32h0.01M522.92 129.97h0.01M523.24 137.32h0.01M523.37 143.48h0.01M524.25 147.57h0.01M522.9 149.25h0.01M522.85 153.9h0.01" stroke="#6f96cc" stroke-width="1.3" stroke-linecap="round" opacity="0.85"/>
<path d="M490.2 159.3 L490.62 159.56 L491.04 159.49 L491.45 159.48 L491.87 159.7 L492.29 159 L492.71 159.14 L493.12 158.97 L493.54 159.27 L493.96 159.55 L494.38 159.29 L494.79 159.42 L495.21 158.82 L495.63 159.34 L496.05 159.07 L496.47 159.74 L496.88 159.52 L497.3 159.54 L497.72 159.29 L498.14 159.45 L498.55 159.46 L498.97 159.21 L499.39 159.18 L499.81 159.27 L500.23 159.15 L500.64 159.15 L501.06 159.23 L501.48 159.12 L501.9 159.49 L502.31 158.9 L502.73 159.51 L503.15 159.14 L503.57 159.16 L503.98 158.96 L504.4 159.26 L504.82 159.24 L505.24 159.35 L505.66 159.17 L506.07 159.32 L506.49 159.75 L506.91 159.4 L507.33 159.16 L507.74 159.54 L508.16 159.27 L508.58 159.45 L509 159.45 L509.42 159.2 L509.83 158.82 L510.25 159.21 L510.67 159.44 L511.09 159.2 L511.5 159.41 L511.92 159.54 L512.34 159.16 L512.76 159.61 L513.17 159.71 L513.59 159.57 L514.01 159.59 L514.43 159.57 L514.85 159.86 L515.26 159.35 L515.68 159.3 L516.1 159.45 L516.52 159.07 L516.93 158.91 L517.35 159.08 L517.77 159.39 L518.19 159.42 L518.61 158.92 L519.02 158.83 L519.44 159.22 L519.86 159.25 L520.28 159.29 L520.69 159.47 L521.11 159.61 L521.53 159.36 L521.95 159.45 L522.36 159.03 L522.78 159.01 L523.2 159.36" fill="none" stroke="#d81e28" stroke-width="1.3" stroke-linejoin="round" />
<path d="M524.6 30.6 L524.9 43.57 L525.2 58.37 L525.5 74.6 L525.81 94.61 L526.11 115.74 L526.41 123.56 L526.71 128.92 L527.01 133.13 L527.31 136.35 L527.61 138.73 L527.92 140.43 L528.22 141.65 L528.52 142.68 L528.82 143.53 L529.12 144.26 L529.42 144.89 L529.72 145.46 L530.03 146 L530.33 146.55 L530.63 147.14 L530.93 147.79 L531.23 148.48 L531.53 149.16 L531.83 149.78 L532.14 150.3 L532.44 150.73 L532.74 151.13 L533.04 151.51 L533.34 151.86 L533.64 152.18 L533.94 152.48 L534.24 152.75 L534.55 152.99 L534.85 153.2 L535.15 153.39 L535.45 153.57 L535.75 153.74 L536.05 153.9 L536.35 154.06 L536.66 154.22 L536.96 154.36 L537.26 154.51 L537.56 154.65 L537.86 154.78 L538.16 154.91 L538.46 155.03 L538.77 155.15 L539.07 155.27 L539.37 155.38 L539.67 155.48 L539.97 155.58 L540.27 155.68 L540.57 155.77 L540.88 155.86 L541.18 155.95 L541.48 156.03 L541.78 156.1 L542.08 156.18 L542.38 156.25 L542.68 156.31 L542.99 156.38 L543.29 156.44 L543.59 156.5 L543.89 156.56 L544.19 156.61 L544.49 156.67 L544.79 156.73 L545.1 156.79 L545.4 156.84 L545.7 156.9 L546 156.95 L546.3 157.01 L546.6 157.06 L546.9 157.11 L547.21 157.16 L547.51 157.21 L547.81 157.26 L548.11 157.31 L548.41 157.36 L548.71 157.41 L549.01 157.46 L549.32 157.5 L549.62 157.55 L549.92 157.59 L550.22 157.64 L550.52 157.68 L550.82 157.72 L551.12 157.76 L551.42 157.81 L551.73 157.84 L552.03 157.88 L552.33 157.92 L552.63 157.96 L552.93 157.99 L553.23 158.03 L553.53 158.06 L553.84 158.09 L554.14 158.12 L554.44 158.15 L554.74 158.18 L555.04 158.21 L555.34 158.24 L555.64 158.26 L555.95 158.29 L556.25 158.31 L556.55 158.33 L556.85 158.35 L557.15 158.37 L557.45 158.39 L557.75 158.41 L558.06 158.43 L558.36 158.44 L558.66 158.46 L558.96 158.47 L559.26 158.48 L559.56 158.49 L559.86 158.5 L560.17 158.5 L560.47 158.51 L560.77 158.52 L561.07 158.52 L561.37 158.53 L561.67 158.54 L561.97 158.54 L562.28 158.55 L562.58 158.55 L562.88 158.56 L563.18 158.57 L563.48 158.57 L563.78 158.58 L564.08 158.58 L564.39 158.59 L564.69 158.59 L564.99 158.6 L565.29 158.6 L565.59 158.6 L565.89 158.61 L566.19 158.61 L566.49 158.62 L566.8 158.62 L567.1 158.62 L567.4 158.63 L567.7 158.63 L568 158.63 L568.3 158.64 L568.6 158.64 L568.91 158.65 L569.21 158.65 L569.51 158.65 L569.81 158.65 L570.11 158.66 L570.41 158.66 L570.71 158.66 L571.02 158.67 L571.32 158.67 L571.62 158.67 L571.92 158.67 L572.22 158.68 L572.52 158.68 L572.82 158.68 L573.13 158.68 L573.43 158.69 L573.73 158.69 L574.03 158.69 L574.33 158.69 L574.63 158.7 L574.93 158.7 L575.24 158.7 L575.54 158.7 L575.84 158.71 L576.14 158.71 L576.44 158.71 L576.74 158.71 L577.04 158.72 L577.35 158.72 L577.65 158.72 L577.95 158.72 L578.25 158.73 L578.55 158.73 L578.85 158.73 L579.15 158.73 L579.46 158.74 L579.76 158.74 L580.06 158.74 L580.36 158.74 L580.66 158.75 L580.96 158.75 L581.26 158.75 L581.57 158.75 L581.87 158.76 L582.17 158.76 L582.47 158.76 L582.77 158.76 L583.07 158.77 L583.37 158.77 L583.67 158.77 L583.98 158.77 L584.28 158.77 L584.58 158.78 L584.88 158.78 L585.18 158.78 L585.48 158.78 L585.78 158.79 L586.09 158.79 L586.39 158.79 L586.69 158.79 L586.99 158.8 L587.29 158.8 L587.59 158.8 L587.89 158.8 L588.2 158.81 L588.5 158.81 L588.8 158.81 L589.1 158.81 L589.4 158.81 L589.7 158.82 L590 158.82 L590.31 158.82 L590.61 158.82 L590.91 158.83 L591.21 158.83 L591.51 158.83 L591.81 158.83 L592.11 158.84 L592.42 158.84 L592.72 158.84 L593.02 158.84 L593.32 158.84 L593.62 158.85 L593.92 158.85 L594.22 158.85 L594.53 158.85 L594.83 158.86 L595.13 158.86 L595.43 158.86 L595.73 158.86 L596.03 158.86 L596.33 158.87 L596.64 158.87 L596.94 158.87 L597.24 158.87 L597.54 158.88 L597.84 158.88 L598.14 158.88 L598.44 158.88 L598.75 158.88 L599.05 158.89 L599.35 158.89 L599.65 158.89 L599.95 158.89 L600.25 158.9 L600.55 158.9 L600.85 158.9 L601.16 158.9 L601.46 158.9 L601.76 158.91 L602.06 158.91 L602.36 158.91 L602.66 158.91 L602.96 158.91 L603.27 158.92 L603.57 158.92 L603.87 158.92 L604.17 158.92 L604.47 158.92 L604.77 158.93 L605.07 158.93 L605.38 158.93 L605.68 158.93 L605.98 158.94 L606.28 158.94 L606.58 158.94 L606.88 158.94 L607.18 158.94 L607.49 158.95 L607.79 158.95 L608.09 158.95 L608.39 158.95 L608.69 158.95 L608.99 158.96 L609.29 158.96 L609.6 158.96 L609.9 158.96 L610.2 158.96 L610.5 158.97 L610.8 158.97 L611.1 158.97 L611.4 158.97 L611.71 158.97 L612.01 158.98 L612.31 158.98 L612.61 158.98 L612.91 158.98 L613.21 158.98 L613.51 158.98 L613.82 158.99 L614.12 158.99 L614.42 158.99 L614.72 158.99 L615.02 158.99 L615.32 159 L615.62 159 L615.93 159 L616.23 159 L616.53 159 L616.83 159.01 L617.13 159.01 L617.43 159.01 L617.73 159.01 L618.03 159.01 L618.34 159.01 L618.64 159.02 L618.94 159.02 L619.24 159.02 L619.54 159.02 L619.84 159.02 L620.14 159.02 L620.45 159.03 L620.75 159.03 L621.05 159.03 L621.35 159.03 L621.65 159.03 L621.95 159.04 L622.25 159.04 L622.56 159.04 L622.86 159.04 L623.16 159.04 L623.46 159.04 L623.76 159.05 L624.06 159.05 L624.36 159.05 L624.67 159.05 L624.97 159.05 L625.27 159.05 L625.57 159.06 L625.87 159.06 L626.17 159.06 L626.47 159.06 L626.78 159.06 L627.08 159.06 L627.38 159.07 L627.68 159.07 L627.98 159.07 L628.28 159.07 L628.58 159.07 L628.89 159.07 L629.19 159.07 L629.49 159.08 L629.79 159.08 L630.09 159.08 L630.39 159.08 L630.69 159.08 L631 159.08 L631.3 159.09 L631.6 159.09 L631.9 159.09 L632.2 159.09 L632.5 159.09 L632.8 159.09 L633.11 159.09 L633.41 159.1 L633.71 159.1 L634.01 159.1 L634.31 159.1 L634.61 159.1 L634.91 159.1 L635.21 159.1 L635.52 159.1 L635.82 159.11 L636.12 159.11 L636.42 159.11 L636.72 159.11 L637.02 159.11 L637.32 159.11 L637.63 159.11 L637.93 159.12 L638.23 159.12 L638.53 159.12 L638.83 159.12 L639.13 159.12 L639.43 159.12 L639.74 159.12 L640.04 159.12 L640.34 159.13 L640.64 159.13 L640.94 159.13 L641.24 159.13 L641.54 159.13 L641.85 159.13 L642.15 159.13 L642.45 159.13 L642.75 159.14 L643.05 159.14 L643.35 159.14 L643.65 159.14 L643.96 159.14 L644.26 159.14 L644.56 159.14 L644.86 159.14 L645.16 159.14 L645.46 159.15 L645.76 159.15 L646.07 159.15 L646.37 159.15 L646.67 159.15 L646.97 159.15 L647.27 159.15 L647.57 159.15 L647.87 159.15 L648.18 159.15 L648.48 159.16 L648.78 159.16 L649.08 159.16 L649.38 159.16 L649.68 159.16 L649.98 159.16 L650.28 159.16 L650.59 159.16 L650.89 159.16 L651.19 159.16 L651.49 159.16 L651.79 159.17 L652.09 159.17 L652.39 159.17 L652.7 159.17 L653 159.17 L653.3 159.17 L653.6 159.17 L653.9 159.17 L654.2 159.17 L654.5 159.17 L654.81 159.17 L655.11 159.17 L655.41 159.18 L655.71 159.18 L656.01 159.18 L656.31 159.18 L656.61 159.18 L656.92 159.18 L657.22 159.18 L657.52 159.18 L657.82 159.18 L658.12 159.18 L658.42 159.18 L658.72 159.18 L659.03 159.18 L659.33 159.18 L659.63 159.18 L659.93 159.19 L660.23 159.19 L660.53 159.19 L660.83 159.19 L661.14 159.19 L661.44 159.19 L661.74 159.19 L662.04 159.19 L662.34 159.19 L662.64 159.19 L662.94 159.19 L663.25 159.19 L663.55 159.19 L663.85 159.19 L664.15 159.19 L664.45 159.19 L664.75 159.19 L665.05 159.19 L665.36 159.19 L665.66 159.19 L665.96 159.19 L666.26 159.19 L666.56 159.2 L666.86 159.2 L667.16 159.2 L667.46 159.2 L667.77 159.2 L668.07 159.2 L668.37 159.2 L668.67 159.2 L668.97 159.2 L669.27 159.2 L669.57 159.2 L669.88 159.2 L670.18 159.2 L670.48 159.2 L670.78 159.2 L671.08 159.2 L671.38 159.2 L671.68 159.2 L671.99 159.2 L672.29 159.2 L672.59 159.2 L672.89 159.2 L673.19 159.2 L673.49 159.2 L673.79 159.2 L674.1 159.2 L674.4 159.2 L674.7 159.2 L675 159.2" fill="none" stroke="#d81e28" stroke-width="1.5" stroke-linejoin="round" />
<path d="M522.71 41.7h0.01M522.82 42.24h0.01M523.98 45.58h0.01M524.24 47.22h0.01M522.8 50.22h0.01M523.93 50.81h0.01M524.02 55.69h0.01M523.86 56.19h0.01M523.55 68.71h0.01M523.53 70.86h0.01M523.88 89.35h0.01M523.12 89.78h0.01M523.98 97.32h0.01M523.03 99.09h0.01M522.76 107.99h0.01M524.29 118.13h0.01M522.85 118.68h0.01M523.03 119.16h0.01M522.8 119.3h0.01M522.72 129.17h0.01M522.91 130.01h0.01M524.27 131.56h0.01M523.88 139.7h0.01M523.39 141.16h0.01M522.71 143.37h0.01M524.11 150.08h0.01" stroke="#e86060" stroke-width="1.3" stroke-linecap="round" opacity="0.85"/>
<line x1="489.3" y1="160" x2="491.9" y2="160" stroke="#000" stroke-width="1.2" />
<line x1="489.3" y1="138.53" x2="491.9" y2="138.53" stroke="#000" stroke-width="1.2" />
<line x1="489.3" y1="117.06" x2="491.9" y2="117.06" stroke="#000" stroke-width="1.2" />
<line x1="489.3" y1="95.59" x2="491.9" y2="95.59" stroke="#000" stroke-width="1.2" />
<line x1="489.3" y1="74.11" x2="491.9" y2="74.11" stroke="#000" stroke-width="1.2" />
<line x1="489.3" y1="52.64" x2="491.9" y2="52.64" stroke="#000" stroke-width="1.2" />
<line x1="489.3" y1="31.17" x2="491.9" y2="31.17" stroke="#000" stroke-width="1.2" />
<line x1="489.3" y1="9.7" x2="491.9" y2="9.7" stroke="#000" stroke-width="1.2" />
<line x1="489.3" y1="149.26" x2="490.6" y2="149.26" stroke="#000" stroke-width="1.2" />
<line x1="489.3" y1="127.79" x2="490.6" y2="127.79" stroke="#000" stroke-width="1.2" />
<line x1="489.3" y1="106.32" x2="490.6" y2="106.32" stroke="#000" stroke-width="1.2" />
<line x1="489.3" y1="84.85" x2="490.6" y2="84.85" stroke="#000" stroke-width="1.2" />
<line x1="489.3" y1="63.38" x2="490.6" y2="63.38" stroke="#000" stroke-width="1.2" />
<line x1="489.3" y1="41.91" x2="490.6" y2="41.91" stroke="#000" stroke-width="1.2" />
<line x1="489.3" y1="20.44" x2="490.6" y2="20.44" stroke="#000" stroke-width="1.2" />
<line x1="489.3" y1="162.4" x2="489.3" y2="159.8" stroke="#000" stroke-width="1.2" />
<line x1="535.96" y1="162.4" x2="535.96" y2="159.8" stroke="#000" stroke-width="1.2" />
<line x1="582.62" y1="162.4" x2="582.62" y2="159.8" stroke="#000" stroke-width="1.2" />
<line x1="629.28" y1="162.4" x2="629.28" y2="159.8" stroke="#000" stroke-width="1.2" />
<line x1="675.94" y1="162.4" x2="675.94" y2="159.8" stroke="#000" stroke-width="1.2" />
<line x1="512.63" y1="162.4" x2="512.63" y2="161.1" stroke="#000" stroke-width="1.2" />
<line x1="559.29" y1="162.4" x2="559.29" y2="161.1" stroke="#000" stroke-width="1.2" />
<line x1="605.95" y1="162.4" x2="605.95" y2="161.1" stroke="#000" stroke-width="1.2" />
<line x1="652.61" y1="162.4" x2="652.61" y2="161.1" stroke="#000" stroke-width="1.2" />
<text x="485.8" y="163.5" font-size="11.2" text-anchor="end" font-weight="bold" >0</text>
<text x="485.8" y="142.03" font-size="11.2" text-anchor="end" font-weight="bold" >5k</text>
<text x="485.8" y="120.56" font-size="11.2" text-anchor="end" font-weight="bold" >10k</text>
<text x="485.8" y="99.09" font-size="11.2" text-anchor="end" font-weight="bold" >15k</text>
<text x="485.8" y="77.61" font-size="11.2" text-anchor="end" font-weight="bold" >20k</text>
<text x="485.8" y="56.14" font-size="11.2" text-anchor="end" font-weight="bold" >25k</text>
<text x="485.8" y="34.67" font-size="11.2" text-anchor="end" font-weight="bold" >30k</text>
<text x="485.8" y="13.2" font-size="11.2" text-anchor="end" font-weight="bold" >35k</text>
<text x="489.3" y="175.3" font-size="10.8" text-anchor="middle" font-weight="bold" >0</text>
<text x="535.96" y="175.3" font-size="10.8" text-anchor="middle" font-weight="bold" >20</text>
<text x="582.62" y="175.3" font-size="10.8" text-anchor="middle" font-weight="bold" >40</text>
<text x="629.28" y="175.3" font-size="10.8" text-anchor="middle" font-weight="bold" >60</text>
<text x="675.94" y="175.3" font-size="10.8" text-anchor="middle" font-weight="bold" >80</text>
<text x="582.8" y="184.9" font-size="12.2" text-anchor="middle" font-weight="bold" >Time (ns)</text>
<text transform="translate(462.1,85.6) rotate(-90)" font-size="12.1" text-anchor="middle" font-weight="bold" >Counts (arb. units)</text>
<text x="493.1" y="25.1" font-size="19" text-anchor="start" font-weight="bold" >c</text>
<circle cx="577" cy="19.6" r="0.9" fill="#888"/>
<text x="592.7" y="23.4" font-size="10.4" text-anchor="start" font-weight="bold" >Melem</text>
<line x1="633.5" y1="19.6" x2="657" y2="19.6" stroke="#222222" stroke-width="1.3" />
<text x="660.6" y="23.4" font-size="10.4" text-anchor="start" font-weight="bold" >Fit</text>
<circle cx="577" cy="32.8" r="0.9" fill="#f0c850"/>
<text x="592.7" y="36.6" font-size="10.4" text-anchor="start" font-weight="bold" >CN</text>
<line x1="633.5" y1="32.8" x2="657" y2="32.8" stroke="#e0b030" stroke-width="1.3" />
<text x="660.6" y="36.6" font-size="10.4" text-anchor="start" font-weight="bold" >Fit</text>
<circle cx="577" cy="46" r="0.9" fill="#a0a0e0"/>
<text x="592.7" y="49.8" font-size="10.4" text-anchor="start" font-weight="bold" >CNIrSA</text>
<line x1="633.5" y1="46" x2="657" y2="46" stroke="#6060c0" stroke-width="1.3" />
<text x="660.6" y="49.8" font-size="10.4" text-anchor="start" font-weight="bold" >Fit</text>
<circle cx="577" cy="59.2" r="0.9" fill="#90b0e0"/>
<text x="592.7" y="63" font-size="10.4" text-anchor="start" font-weight="bold" >MC</text>
<line x1="633.5" y1="59.2" x2="657" y2="59.2" stroke="#2f5f9e" stroke-width="1.3" />
<text x="660.6" y="63" font-size="10.4" text-anchor="start" font-weight="bold" >Fit</text>
<circle cx="577" cy="72.4" r="0.9" fill="#f09090"/>
<text x="592.7" y="76.2" font-size="10.4" text-anchor="start" font-weight="bold" >MCIrSA</text>
<line x1="633.5" y1="72.4" x2="657" y2="72.4" stroke="#d81e28" stroke-width="1.3" />
<text x="660.6" y="76.2" font-size="10.4" text-anchor="start" font-weight="bold" >Fit</text>
<defs><linearGradient id="gb" x1="0" x2="1" y1="0" y2="0"><stop offset="0" stop-color="#2c5b96"/><stop offset="0.5" stop-color="#b6d2ed"/><stop offset="1" stop-color="#2a5890"/></linearGradient><linearGradient id="gr" x1="0" x2="1" y1="0" y2="0"><stop offset="0" stop-color="#cf343c"/><stop offset="0.5" stop-color="#fcb5b8"/><stop offset="1" stop-color="#c62f38"/></linearGradient><pattern id="hx" width="2.75" height="2.75" patternUnits="userSpaceOnUse" patternTransform="rotate(45)"><rect x="0" y="0" width="2.75" height="0.7" fill="#0c1018" fill-opacity="0.72"/><rect x="0" y="0" width="0.7" height="2.75" fill="#0c1018" fill-opacity="0.72"/></pattern></defs>
<rect x="56.2" y="336.5" width="38.1" height="7.9" fill="url(#gb)" stroke="#333" stroke-width="0.8"/>
<rect x="94.3" y="329.5" width="38.1" height="14.9" fill="url(#gr)" stroke="#333" stroke-width="0.8"/>
<rect x="132.4" y="316.1" width="38.1" height="28.3" fill="url(#gb)" stroke="#333" stroke-width="0.8"/>
<rect x="132.4" y="316.1" width="38.1" height="28.3" fill="url(#hx)" stroke="#222" stroke-width="0.8"/>
<rect x="170.5" y="225.6" width="38.2" height="118.8" fill="url(#gr)" stroke="#333" stroke-width="0.8"/>
<rect x="170.5" y="225.6" width="38.2" height="118.8" fill="url(#hx)" stroke="#222" stroke-width="0.8"/>
<rect x="37.5" y="193.6" width="190" height="150.8" fill="none" stroke="#000" stroke-width="1.7"/>
<line x1="37.5" y1="344" x2="40.1" y2="344" stroke="#000" stroke-width="1.2" />
<line x1="37.5" y1="310.72" x2="40.1" y2="310.72" stroke="#000" stroke-width="1.2" />
<line x1="37.5" y1="277.44" x2="40.1" y2="277.44" stroke="#000" stroke-width="1.2" />
<line x1="37.5" y1="244.16" x2="40.1" y2="244.16" stroke="#000" stroke-width="1.2" />
<line x1="37.5" y1="210.88" x2="40.1" y2="210.88" stroke="#000" stroke-width="1.2" />
<line x1="37.5" y1="327.36" x2="38.8" y2="327.36" stroke="#000" stroke-width="1.2" />
<line x1="37.5" y1="294.08" x2="38.8" y2="294.08" stroke="#000" stroke-width="1.2" />
<line x1="37.5" y1="260.8" x2="38.8" y2="260.8" stroke="#000" stroke-width="1.2" />
<line x1="37.5" y1="227.52" x2="38.8" y2="227.52" stroke="#000" stroke-width="1.2" />
<line x1="37.5" y1="194.24" x2="38.8" y2="194.24" stroke="#000" stroke-width="1.2" />
<text x="34.5" y="347.2" font-size="10.6" text-anchor="end" font-weight="bold" >0</text>
<text x="34.5" y="313.92" font-size="10.6" text-anchor="end" font-weight="bold" >100</text>
<text x="34.5" y="280.64" font-size="10.6" text-anchor="end" font-weight="bold" >200</text>
<text x="34.5" y="247.36" font-size="10.6" text-anchor="end" font-weight="bold" >300</text>
<text x="34.5" y="214.08" font-size="10.6" text-anchor="end" font-weight="bold" >400</text>
<text transform="translate(11,261) rotate(-90)" font-size="11.9" text-anchor="middle" font-weight="bold">H<tspan font-size="8.57" dy="2.5">2</tspan><tspan dy="-2.5"> (μmol g</tspan><tspan font-size="8.57" dy="-4.2">-1</tspan><tspan font-size="8.57" dy="6.7">cat</tspan><tspan dy="-2.5">)</tspan></text>
<text x="44.4" y="212.8" font-size="19" text-anchor="start" font-weight="bold" >d</text>
<rect x="43.1" y="225.2" width="25.2" height="12" fill="url(#gb)" stroke="#333" stroke-width="0.8"/>
<text x="72.2" y="235.1" font-size="11.4" text-anchor="start" font-weight="bold" >MC KOH</text>
<rect x="43.1" y="239.2" width="25.2" height="12" fill="url(#gr)" stroke="#333" stroke-width="0.8"/>
<text x="72.2" y="249.1" font-size="11.4" text-anchor="start" font-weight="bold" >MCIrSA KOH</text>
<rect x="43.1" y="253.2" width="25.2" height="12" fill="url(#gb)" stroke="#333" stroke-width="0.8"/>
<rect x="43.1" y="253.2" width="25.2" height="12" fill="url(#hx)" stroke="#222" stroke-width="0.8"/>
<text x="72.2" y="263.1" font-size="11.4" text-anchor="start" font-weight="bold" >MC+PET</text>
<rect x="43.1" y="267.2" width="25.2" height="12" fill="url(#gr)" stroke="#333" stroke-width="0.8"/>
<rect x="43.1" y="267.2" width="25.2" height="12" fill="url(#hx)" stroke="#222" stroke-width="0.8"/>
<text x="72.2" y="277.1" font-size="11.4" text-anchor="start" font-weight="bold" >MCIrSA+PET</text>
<path d="M274.4 291.5 L329 272.93 L383.6 246.61 L438.2 210.66" fill="none" stroke="#2fb0e8" stroke-width="1.5" stroke-linejoin="round" />
<path d="M274.4 322.12 L329 316.44 L383.6 315.41 L438.2 315.76" fill="none" stroke="#e24a5e" stroke-width="1.5" stroke-linejoin="round" />
<path d="M274.4 325.9 L329 326.25 L383.6 326.08 L438.2 326.08" fill="none" stroke="#ee8a3a" stroke-width="1.5" stroke-linejoin="round" />
<path d="M274.4 327.45 L329 327.45 L383.6 327.45 L438.2 327.45" fill="none" stroke="#3cb878" stroke-width="1.5" stroke-linejoin="round" />
<path d="M274.4 329.52 L329 329.52 L383.6 329.52 L438.2 329.52" fill="none" stroke="#8f93e0" stroke-width="1.5" stroke-linejoin="round" />
<line x1="329" y1="276.88" x2="329" y2="267.42" stroke="#222" stroke-width="0.8" />
<line x1="326.8" y1="276.88" x2="331.2" y2="276.88" stroke="#222" stroke-width="0.8" />
<line x1="326.8" y1="267.42" x2="331.2" y2="267.42" stroke="#222" stroke-width="0.8" />
<line x1="383.6" y1="249.02" x2="383.6" y2="244.2" stroke="#222" stroke-width="0.8" />
<line x1="381.4" y1="249.02" x2="385.8" y2="249.02" stroke="#222" stroke-width="0.8" />
<line x1="381.4" y1="244.2" x2="385.8" y2="244.2" stroke="#222" stroke-width="0.8" />
<line x1="438.2" y1="218.58" x2="438.2" y2="203.78" stroke="#222" stroke-width="0.8" />
<line x1="436" y1="218.58" x2="440.4" y2="218.58" stroke="#222" stroke-width="0.8" />
<line x1="436" y1="203.78" x2="440.4" y2="203.78" stroke="#222" stroke-width="0.8" />
<line x1="274.4" y1="332.78" x2="274.4" y2="322.46" stroke="#111" stroke-width="1.0" />
<line x1="329" y1="332.78" x2="329" y2="322.46" stroke="#111" stroke-width="1.0" />
<line x1="383.6" y1="332.78" x2="383.6" y2="322.46" stroke="#111" stroke-width="1.0" />
<line x1="438.2" y1="332.78" x2="438.2" y2="322.46" stroke="#111" stroke-width="1.0" />
<line x1="274.4" y1="293.57" x2="274.4" y2="289.44" stroke="#111" stroke-width="0.8" />
<rect x="272.05" y="289.15" width="4.7" height="4.7" fill="#4cc4f0" stroke="#222" stroke-width="0.9"/>
<rect x="326.65" y="270.58" width="4.7" height="4.7" fill="#4cc4f0" stroke="#222" stroke-width="0.9"/>
<rect x="381.25" y="244.26" width="4.7" height="4.7" fill="#4cc4f0" stroke="#222" stroke-width="0.9"/>
<rect x="435.85" y="208.31" width="4.7" height="4.7" fill="#4cc4f0" stroke="#222" stroke-width="0.9"/>
<circle cx="274.4" cy="322.12" r="2.84" fill="#e0405a" stroke="#222" stroke-width="0.9"/>
<circle cx="329" cy="316.44" r="2.84" fill="#e0405a" stroke="#222" stroke-width="0.9"/>
<circle cx="383.6" cy="315.41" r="2.84" fill="#e0405a" stroke="#222" stroke-width="0.9"/>
<circle cx="438.2" cy="315.76" r="2.84" fill="#e0405a" stroke="#222" stroke-width="0.9"/>
<path d="M274.4 322.8 L277.5 328.54 L271.29 328.54 Z" fill="#ee8a3a" stroke="#222" stroke-width="0.9"/>
<path d="M329 323.14 L332.11 328.89 L325.89 328.89 Z" fill="#ee8a3a" stroke="#222" stroke-width="0.9"/>
<path d="M383.6 322.97 L386.7 328.72 L380.49 328.72 Z" fill="#ee8a3a" stroke="#222" stroke-width="0.9"/>
<path d="M438.2 322.97 L441.31 328.72 L435.09 328.72 Z" fill="#ee8a3a" stroke="#222" stroke-width="0.9"/>
<path d="M274.4 330.56 L277.5 324.81 L271.29 324.81 Z" fill="#3cb878" stroke="#222" stroke-width="0.9"/>
<path d="M329 330.56 L332.11 324.81 L325.89 324.81 Z" fill="#3cb878" stroke="#222" stroke-width="0.9"/>
<path d="M383.6 330.56 L386.7 324.81 L380.49 324.81 Z" fill="#3cb878" stroke="#222" stroke-width="0.9"/>
<path d="M438.2 330.56 L441.31 324.81 L435.09 324.81 Z" fill="#3cb878" stroke="#222" stroke-width="0.9"/>
<path d="M274.4 326.28 L277.64 329.52 L274.4 332.76 L271.16 329.52 Z" fill="#8a8fd8" stroke="#222" stroke-width="0.9"/>
<path d="M329 326.28 L332.24 329.52 L329 332.76 L325.76 329.52 Z" fill="#8a8fd8" stroke="#222" stroke-width="0.9"/>
<path d="M383.6 326.28 L386.84 329.52 L383.6 332.76 L380.36 329.52 Z" fill="#8a8fd8" stroke="#222" stroke-width="0.9"/>
<path d="M438.2 326.28 L441.44 329.52 L438.2 332.76 L434.96 329.52 Z" fill="#8a8fd8" stroke="#222" stroke-width="0.9"/>
<line x1="272.9" y1="291.5" x2="275.9" y2="291.5" stroke="#113" stroke-width="0.7" />
<line x1="274.4" y1="332.1" x2="274.4" y2="322.81" stroke="#111" stroke-width="0.9" />
<line x1="272.6" y1="322.81" x2="276.2" y2="322.81" stroke="#111" stroke-width="0.8" />
<line x1="329" y1="332.1" x2="329" y2="322.81" stroke="#111" stroke-width="0.9" />
<line x1="327.2" y1="322.81" x2="330.8" y2="322.81" stroke="#111" stroke-width="0.8" />
<line x1="383.6" y1="332.1" x2="383.6" y2="322.81" stroke="#111" stroke-width="0.9" />
<line x1="381.8" y1="322.81" x2="385.4" y2="322.81" stroke="#111" stroke-width="0.8" />
<line x1="438.2" y1="332.1" x2="438.2" y2="322.81" stroke="#111" stroke-width="0.9" />
<line x1="436.4" y1="322.81" x2="440" y2="322.81" stroke="#111" stroke-width="0.8" />
<line x1="274.4" y1="293.74" x2="274.4" y2="289.27" stroke="#113" stroke-width="0.7" />
<rect x="261.5" y="190.9" width="189.8" height="147.3" fill="none" stroke="#000" stroke-width="1.7"/>
<line x1="261.5" y1="329" x2="264.1" y2="329" stroke="#000" stroke-width="1.2" />
<line x1="261.5" y1="311.8" x2="264.1" y2="311.8" stroke="#000" stroke-width="1.2" />
<line x1="261.5" y1="294.6" x2="264.1" y2="294.6" stroke="#000" stroke-width="1.2" />
<line x1="261.5" y1="277.4" x2="264.1" y2="277.4" stroke="#000" stroke-width="1.2" />
<line x1="261.5" y1="260.2" x2="264.1" y2="260.2" stroke="#000" stroke-width="1.2" />
<line x1="261.5" y1="243" x2="264.1" y2="243" stroke="#000" stroke-width="1.2" />
<line x1="261.5" y1="225.8" x2="264.1" y2="225.8" stroke="#000" stroke-width="1.2" />
<line x1="261.5" y1="208.6" x2="264.1" y2="208.6" stroke="#000" stroke-width="1.2" />
<line x1="261.5" y1="191.4" x2="264.1" y2="191.4" stroke="#000" stroke-width="1.2" />
<line x1="261.5" y1="320.4" x2="262.8" y2="320.4" stroke="#000" stroke-width="1.2" />
<line x1="261.5" y1="303.2" x2="262.8" y2="303.2" stroke="#000" stroke-width="1.2" />
<line x1="261.5" y1="286" x2="262.8" y2="286" stroke="#000" stroke-width="1.2" />
<line x1="261.5" y1="268.8" x2="262.8" y2="268.8" stroke="#000" stroke-width="1.2" />
<line x1="261.5" y1="251.6" x2="262.8" y2="251.6" stroke="#000" stroke-width="1.2" />
<line x1="261.5" y1="234.4" x2="262.8" y2="234.4" stroke="#000" stroke-width="1.2" />
<line x1="261.5" y1="217.2" x2="262.8" y2="217.2" stroke="#000" stroke-width="1.2" />
<line x1="261.5" y1="200" x2="262.8" y2="200" stroke="#000" stroke-width="1.2" />
<line x1="274.4" y1="338.2" x2="274.4" y2="335.6" stroke="#000" stroke-width="1.2" />
<line x1="301.7" y1="338.2" x2="301.7" y2="335.6" stroke="#000" stroke-width="1.2" />
<line x1="329" y1="338.2" x2="329" y2="335.6" stroke="#000" stroke-width="1.2" />
<line x1="356.3" y1="338.2" x2="356.3" y2="335.6" stroke="#000" stroke-width="1.2" />
<line x1="383.6" y1="338.2" x2="383.6" y2="335.6" stroke="#000" stroke-width="1.2" />
<line x1="410.9" y1="338.2" x2="410.9" y2="335.6" stroke="#000" stroke-width="1.2" />
<line x1="438.2" y1="338.2" x2="438.2" y2="335.6" stroke="#000" stroke-width="1.2" />
<line x1="288.05" y1="338.2" x2="288.05" y2="336.9" stroke="#000" stroke-width="1.2" />
<line x1="315.35" y1="338.2" x2="315.35" y2="336.9" stroke="#000" stroke-width="1.2" />
<line x1="342.65" y1="338.2" x2="342.65" y2="336.9" stroke="#000" stroke-width="1.2" />
<line x1="369.95" y1="338.2" x2="369.95" y2="336.9" stroke="#000" stroke-width="1.2" />
<line x1="397.25" y1="338.2" x2="397.25" y2="336.9" stroke="#000" stroke-width="1.2" />
<line x1="424.55" y1="338.2" x2="424.55" y2="336.9" stroke="#000" stroke-width="1.2" />
<text x="258.9" y="332.3" font-size="9.8" text-anchor="end" font-weight="bold" >10</text>
<text x="258.9" y="315.1" font-size="9.8" text-anchor="end" font-weight="bold" >20</text>
<text x="258.9" y="297.9" font-size="9.8" text-anchor="end" font-weight="bold" >30</text>
<text x="258.9" y="280.7" font-size="9.8" text-anchor="end" font-weight="bold" >40</text>
<text x="258.9" y="263.5" font-size="9.8" text-anchor="end" font-weight="bold" >50</text>
<text x="258.9" y="246.3" font-size="9.8" text-anchor="end" font-weight="bold" >60</text>
<text x="258.9" y="229.1" font-size="9.8" text-anchor="end" font-weight="bold" >70</text>
<text x="258.9" y="211.9" font-size="9.8" text-anchor="end" font-weight="bold" >80</text>
<text x="258.9" y="194.7" font-size="9.8" text-anchor="end" font-weight="bold" >90</text>
<text x="274.4" y="348.3" font-size="10.2" text-anchor="middle" font-weight="bold" >1.0</text>
<text x="301.7" y="348.3" font-size="10.2" text-anchor="middle" font-weight="bold" >1.5</text>
<text x="329" y="348.3" font-size="10.2" text-anchor="middle" font-weight="bold" >2.0</text>
<text x="356.3" y="348.3" font-size="10.2" text-anchor="middle" font-weight="bold" >2.5</text>
<text x="383.6" y="348.3" font-size="10.2" text-anchor="middle" font-weight="bold" >3.0</text>
<text x="410.9" y="348.3" font-size="10.2" text-anchor="middle" font-weight="bold" >3.5</text>
<text x="438.2" y="348.3" font-size="10.2" text-anchor="middle" font-weight="bold" >4.0</text>
<text x="354.5" y="356.8" font-size="10.8" text-anchor="middle" font-weight="bold" >Time (h)</text>
<text x="365.7" y="202.4" font-size="11" text-anchor="middle" font-weight="bold" >Catalyst-MC</text>
<text transform="translate(242.8,264.5) rotate(-90)" font-size="10.3" text-anchor="middle" font-weight="bold">H<tspan font-size="7.42" dy="2.5">2</tspan><tspan dy="-2.5"> (μmol g</tspan><tspan font-size="7.42" dy="-4.2">-1</tspan><tspan font-size="7.42" dy="6.7">cat</tspan><tspan dy="-2.5">)</tspan></text>
<text x="267.6" y="208.2" font-size="19.5" text-anchor="start" font-weight="bold" >e</text>
<line x1="265.6" y1="222.3" x2="286.6" y2="222.3" stroke="#2fb0e8" stroke-width="1.5" />
<rect x="273.6" y="219.7" width="5.2" height="5.2" fill="#4cc4f0" stroke="#222" stroke-width="0.9"/>
<text x="289.6" y="225.2" font-size="9.7" text-anchor="start" font-weight="bold" >PLA</text>
<line x1="265.6" y1="233.6" x2="286.6" y2="233.6" stroke="#e24a5e" stroke-width="1.5" />
<circle cx="276.2" cy="233.6" r="2.84" fill="#e0405a" stroke="#222" stroke-width="0.9"/>
<text x="289.6" y="236.5" font-size="9.7" text-anchor="start" font-weight="bold" >PET</text>
<line x1="265.6" y1="244.9" x2="286.6" y2="244.9" stroke="#ee8a3a" stroke-width="1.5" />
<path d="M276.2 241.8 L279.31 247.54 L273.09 247.54 Z" fill="#ee8a3a" stroke="#222" stroke-width="0.9"/>
<text x="289.6" y="247.8" font-size="9.7" text-anchor="start" font-weight="bold" >PS</text>
<line x1="265.6" y1="256.2" x2="286.6" y2="256.2" stroke="#3cb878" stroke-width="1.5" />
<path d="M276.2 259.31 L279.31 253.56 L273.09 253.56 Z" fill="#3cb878" stroke="#222" stroke-width="0.9"/>
<text x="289.6" y="259.1" font-size="9.7" text-anchor="start" font-weight="bold" >PP</text>
<line x1="265.6" y1="267.5" x2="286.6" y2="267.5" stroke="#8f93e0" stroke-width="1.5" />
<path d="M276.2 264.26 L279.44 267.5 L276.2 270.74 L272.96 267.5 Z" fill="#8a8fd8" stroke="#222" stroke-width="0.9"/>
<text x="289.6" y="270.4" font-size="9.7" text-anchor="start" font-weight="bold" >HDPE</text>
<path d="M502.2 331.91 L556.4 331.42 L610.6 331.17 L664.8 331.17" fill="none" stroke="#e6b520" stroke-width="1.5" stroke-linejoin="round" />
<path d="M502.2 330.68 L556.4 328.7 L610.6 328.2 L664.8 327.95" fill="none" stroke="#2f66a8" stroke-width="1.5" stroke-linejoin="round" />
<path d="M502.2 330.68 L556.4 327.46 L610.6 323.75 L664.8 318.3" fill="none" stroke="#6d6dd0" stroke-width="1.5" stroke-linejoin="round" />
<path d="M502.2 319.04 L556.4 311.12 L610.6 304.19 L664.8 299.24" fill="none" stroke="#3fd8c4" stroke-width="1.5" stroke-linejoin="round" />
<path d="M502.2 287.86 L556.4 242.81 L610.6 229.2 L664.8 233.41" fill="none" stroke="#dd3333" stroke-width="1.5" stroke-linejoin="round" />
<rect x="499.6" y="329.31" width="5.2" height="5.2" fill="#e6b520" stroke="#222" stroke-width="0.9"/>
<rect x="553.8" y="328.82" width="5.2" height="5.2" fill="#e6b520" stroke="#222" stroke-width="0.9"/>
<rect x="608" y="328.57" width="5.2" height="5.2" fill="#e6b520" stroke="#222" stroke-width="0.9"/>
<rect x="662.2" y="328.57" width="5.2" height="5.2" fill="#e6b520" stroke="#222" stroke-width="0.9"/>
<circle cx="502.2" cy="330.68" r="2.73" fill="#3466a6" stroke="#222" stroke-width="0.9"/>
<circle cx="556.4" cy="328.7" r="2.73" fill="#3466a6" stroke="#222" stroke-width="0.9"/>
<circle cx="610.6" cy="328.2" r="2.73" fill="#3466a6" stroke="#222" stroke-width="0.9"/>
<circle cx="664.8" cy="327.95" r="2.73" fill="#3466a6" stroke="#222" stroke-width="0.9"/>
<path d="M502.2 327.56 L505.32 330.68 L502.2 333.8 L499.08 330.68 Z" fill="#8a90d8" stroke="#222" stroke-width="0.9"/>
<path d="M556.4 324.34 L559.52 327.46 L556.4 330.58 L553.28 327.46 Z" fill="#8a90d8" stroke="#222" stroke-width="0.9"/>
<path d="M610.6 320.62 L613.72 323.75 L610.6 326.87 L607.48 323.75 Z" fill="#8a90d8" stroke="#222" stroke-width="0.9"/>
<path d="M664.8 315.18 L667.92 318.3 L664.8 321.42 L661.68 318.3 Z" fill="#8a90d8" stroke="#222" stroke-width="0.9"/>
<path d="M502.2 316.05 L505.19 321.58 L499.21 321.58 Z" fill="#3fd0bc" stroke="#222" stroke-width="0.9"/>
<path d="M556.4 308.13 L559.39 313.66 L553.41 313.66 Z" fill="#3fd0bc" stroke="#222" stroke-width="0.9"/>
<path d="M610.6 301.2 L613.59 306.73 L607.61 306.73 Z" fill="#3fd0bc" stroke="#222" stroke-width="0.9"/>
<path d="M664.8 296.25 L667.79 301.78 L661.81 301.78 Z" fill="#3fd0bc" stroke="#222" stroke-width="0.9"/>
<path d="M502.2 290.85 L505.19 285.32 L499.21 285.32 Z" fill="#dd3333" stroke="#222" stroke-width="0.9"/>
<path d="M556.4 245.8 L559.39 240.27 L553.41 240.27 Z" fill="#dd3333" stroke="#222" stroke-width="0.9"/>
<path d="M610.6 232.19 L613.59 226.66 L607.61 226.66 Z" fill="#dd3333" stroke="#222" stroke-width="0.9"/>
<path d="M664.8 236.4 L667.79 230.87 L661.81 230.87 Z" fill="#dd3333" stroke="#222" stroke-width="0.9"/>
<rect x="488.9" y="189.3" width="189.8" height="148.5" fill="none" stroke="#000" stroke-width="1.7"/>
<line x1="488.9" y1="338.1" x2="491.5" y2="338.1" stroke="#000" stroke-width="1.2" />
<line x1="488.9" y1="313.35" x2="491.5" y2="313.35" stroke="#000" stroke-width="1.2" />
<line x1="488.9" y1="288.6" x2="491.5" y2="288.6" stroke="#000" stroke-width="1.2" />
<line x1="488.9" y1="263.85" x2="491.5" y2="263.85" stroke="#000" stroke-width="1.2" />
<line x1="488.9" y1="239.1" x2="491.5" y2="239.1" stroke="#000" stroke-width="1.2" />
<line x1="488.9" y1="214.35" x2="491.5" y2="214.35" stroke="#000" stroke-width="1.2" />
<line x1="488.9" y1="189.6" x2="491.5" y2="189.6" stroke="#000" stroke-width="1.2" />
<line x1="488.9" y1="325.73" x2="490.2" y2="325.73" stroke="#000" stroke-width="1.2" />
<line x1="488.9" y1="300.98" x2="490.2" y2="300.98" stroke="#000" stroke-width="1.2" />
<line x1="488.9" y1="276.23" x2="490.2" y2="276.23" stroke="#000" stroke-width="1.2" />
<line x1="488.9" y1="251.48" x2="490.2" y2="251.48" stroke="#000" stroke-width="1.2" />
<line x1="488.9" y1="226.73" x2="490.2" y2="226.73" stroke="#000" stroke-width="1.2" />
<line x1="488.9" y1="201.98" x2="490.2" y2="201.98" stroke="#000" stroke-width="1.2" />
<line x1="502.2" y1="337.8" x2="502.2" y2="335.2" stroke="#000" stroke-width="1.2" />
<line x1="556.4" y1="337.8" x2="556.4" y2="335.2" stroke="#000" stroke-width="1.2" />
<line x1="610.6" y1="337.8" x2="610.6" y2="335.2" stroke="#000" stroke-width="1.2" />
<line x1="664.8" y1="337.8" x2="664.8" y2="335.2" stroke="#000" stroke-width="1.2" />
<line x1="529.3" y1="337.8" x2="529.3" y2="336.5" stroke="#000" stroke-width="1.2" />
<line x1="583.5" y1="337.8" x2="583.5" y2="336.5" stroke="#000" stroke-width="1.2" />
<line x1="637.7" y1="337.8" x2="637.7" y2="336.5" stroke="#000" stroke-width="1.2" />
<text x="485.4" y="341.7" font-size="10.2" text-anchor="end" font-weight="bold" >0</text>
<text x="485.4" y="316.95" font-size="10.2" text-anchor="end" font-weight="bold" >100</text>
<text x="485.4" y="292.2" font-size="10.2" text-anchor="end" font-weight="bold" >200</text>
<text x="485.4" y="267.45" font-size="10.2" text-anchor="end" font-weight="bold" >300</text>
<text x="485.4" y="242.7" font-size="10.2" text-anchor="end" font-weight="bold" >400</text>
<text x="485.4" y="217.95" font-size="10.2" text-anchor="end" font-weight="bold" >500</text>
<text x="485.4" y="193.2" font-size="10.2" text-anchor="end" font-weight="bold" >600</text>
<text x="502.2" y="348.5" font-size="10.2" text-anchor="middle" font-weight="bold" >1</text>
<text x="556.4" y="348.5" font-size="10.2" text-anchor="middle" font-weight="bold" >2</text>
<text x="610.6" y="348.5" font-size="10.2" text-anchor="middle" font-weight="bold" >3</text>
<text x="664.8" y="348.5" font-size="10.2" text-anchor="middle" font-weight="bold" >4</text>
<text x="581.7" y="355.6" font-size="10.8" text-anchor="middle" font-weight="bold" >Time (h)</text>
<text transform="translate(464.6,263.5) rotate(-90)" font-size="10.4" text-anchor="middle" font-weight="bold">H<tspan font-size="7.49" dy="2.5">2</tspan><tspan dy="-2.5"> (μmol g</tspan><tspan font-size="7.49" dy="-4.2">-1</tspan><tspan font-size="7.49" dy="6.7">cat</tspan><tspan dy="-2.5">)</tspan></text>
<text x="495.2" y="207.6" font-size="19.5" text-anchor="start" font-weight="bold" >f</text>
<line x1="535.7" y1="196.6" x2="559" y2="196.6" stroke="#e6b520" stroke-width="1.5" />
<rect x="544.4" y="193.9" width="5.4" height="5.4" fill="#e6b520" stroke="#222" stroke-width="0.9"/>
<text x="562.9" y="200.3" font-size="10.2" text-anchor="start" font-weight="bold" >CN</text>
<line x1="535.7" y1="208.65" x2="559" y2="208.65" stroke="#2f66a8" stroke-width="1.5" />
<circle cx="547.1" cy="208.65" r="2.84" fill="#3466a6" stroke="#222" stroke-width="0.9"/>
<text x="562.9" y="212.35" font-size="10.2" text-anchor="start" font-weight="bold" >MC</text>
<line x1="535.7" y1="220.7" x2="559" y2="220.7" stroke="#3fd8c4" stroke-width="1.5" />
<path d="M547.1 217.59 L550.21 223.34 L544 223.34 Z" fill="#3fd0bc" stroke="#222" stroke-width="0.9"/>
<text x="562.9" y="224.4" font-size="10.2" text-anchor="start" font-weight="bold" >MCIrNP</text>
<line x1="604.1" y1="200.5" x2="627.8" y2="200.5" stroke="#dd3333" stroke-width="1.5" />
<path d="M616.2 203.6 L619.31 197.86 L613.1 197.86 Z" fill="#dd3333" stroke="#222" stroke-width="0.9"/>
<text x="631.5" y="204.8" font-size="11.1" text-anchor="start" font-weight="bold" >MCIrSA</text>
<line x1="604.1" y1="213.2" x2="627.8" y2="213.2" stroke="#6d6dd0" stroke-width="1.5" />
<path d="M616.2 209.96 L619.44 213.2 L616.2 216.44 L612.96 213.2 Z" fill="#8a90d8" stroke="#222" stroke-width="0.9"/>
<text x="631.5" y="217.5" font-size="11.1" text-anchor="start" font-weight="bold" >CNIrSA</text>
<path d="M53 510.52 L106 506.36 L159 499.58 L212 505.31" fill="none" stroke="#e6b520" stroke-width="1.5" stroke-linejoin="round" />
<path d="M53 479.26 L106 469.89 L159 463.63 L212 458.94" fill="none" stroke="#2f66a8" stroke-width="1.5" stroke-linejoin="round" />
<path d="M53 454.26 L106 439.67 L159 434.46 L212 431.33" fill="none" stroke="#3fd8c4" stroke-width="1.5" stroke-linejoin="round" />
<path d="M53 428.21 L106 420.91 L159 414.66 L212 413.1" fill="none" stroke="#dd3333" stroke-width="1.5" stroke-linejoin="round" />
<line x1="159" y1="502.19" x2="159" y2="496.98" stroke="#222" stroke-width="0.8" />
<line x1="157" y1="502.19" x2="161" y2="502.19" stroke="#222" stroke-width="0.8" />
<line x1="157" y1="496.98" x2="161" y2="496.98" stroke="#222" stroke-width="0.8" />
<line x1="212" y1="510" x2="212" y2="500.62" stroke="#222" stroke-width="0.8" />
<line x1="210" y1="510" x2="214" y2="510" stroke="#222" stroke-width="0.8" />
<line x1="210" y1="500.62" x2="214" y2="500.62" stroke="#222" stroke-width="0.8" />
<line x1="159" y1="465.72" x2="159" y2="461.55" stroke="#222" stroke-width="0.8" />
<line x1="157" y1="465.72" x2="161" y2="465.72" stroke="#222" stroke-width="0.8" />
<line x1="157" y1="461.55" x2="161" y2="461.55" stroke="#222" stroke-width="0.8" />
<line x1="212" y1="463.63" x2="212" y2="454.26" stroke="#222" stroke-width="0.8" />
<line x1="210" y1="463.63" x2="214" y2="463.63" stroke="#222" stroke-width="0.8" />
<line x1="210" y1="454.26" x2="214" y2="454.26" stroke="#222" stroke-width="0.8" />
<line x1="53" y1="432.89" x2="53" y2="423.52" stroke="#222" stroke-width="0.8" />
<line x1="51" y1="432.89" x2="55" y2="432.89" stroke="#222" stroke-width="0.8" />
<line x1="51" y1="423.52" x2="55" y2="423.52" stroke="#222" stroke-width="0.8" />
<line x1="159" y1="423.52" x2="159" y2="405.8" stroke="#222" stroke-width="0.8" />
<line x1="157" y1="423.52" x2="161" y2="423.52" stroke="#222" stroke-width="0.8" />
<line x1="157" y1="405.8" x2="161" y2="405.8" stroke="#222" stroke-width="0.8" />
<rect x="50.6" y="508.12" width="4.8" height="4.8" fill="#e6b520" stroke="#222" stroke-width="0.9"/>
<rect x="103.6" y="503.96" width="4.8" height="4.8" fill="#e6b520" stroke="#222" stroke-width="0.9"/>
<rect x="156.6" y="497.18" width="4.8" height="4.8" fill="#e6b520" stroke="#222" stroke-width="0.9"/>
<rect x="209.6" y="502.91" width="4.8" height="4.8" fill="#e6b520" stroke="#222" stroke-width="0.9"/>
<circle cx="53" cy="479.26" r="2.94" fill="#3466a6" stroke="#222" stroke-width="0.9"/>
<circle cx="106" cy="469.89" r="2.94" fill="#3466a6" stroke="#222" stroke-width="0.9"/>
<circle cx="159" cy="463.63" r="2.94" fill="#3466a6" stroke="#222" stroke-width="0.9"/>
<circle cx="212" cy="458.94" r="2.94" fill="#3466a6" stroke="#222" stroke-width="0.9"/>
<path d="M53 451.04 L56.22 456.99 L49.78 456.99 Z" fill="#3fd0bc" stroke="#222" stroke-width="0.9"/>
<path d="M106 436.45 L109.22 442.4 L102.78 442.4 Z" fill="#3fd0bc" stroke="#222" stroke-width="0.9"/>
<path d="M159 431.24 L162.22 437.19 L155.78 437.19 Z" fill="#3fd0bc" stroke="#222" stroke-width="0.9"/>
<path d="M212 428.11 L215.22 434.07 L208.78 434.07 Z" fill="#3fd0bc" stroke="#222" stroke-width="0.9"/>
<path d="M53 431.43 L56.22 425.47 L49.78 425.47 Z" fill="#dd3333" stroke="#222" stroke-width="0.9"/>
<path d="M106 424.13 L109.22 418.17 L102.78 418.17 Z" fill="#dd3333" stroke="#222" stroke-width="0.9"/>
<path d="M159 417.88 L162.22 411.92 L155.78 411.92 Z" fill="#dd3333" stroke="#222" stroke-width="0.9"/>
<path d="M212 416.32 L215.22 410.36 L208.78 410.36 Z" fill="#dd3333" stroke="#222" stroke-width="0.9"/>
<rect x="40" y="360.6" width="185.5" height="155.9" fill="none" stroke="#000" stroke-width="1.7"/>
<line x1="40" y1="477.7" x2="42.6" y2="477.7" stroke="#000" stroke-width="1.2" />
<line x1="40" y1="425.6" x2="42.6" y2="425.6" stroke="#000" stroke-width="1.2" />
<line x1="40" y1="373.5" x2="42.6" y2="373.5" stroke="#000" stroke-width="1.2" />
<line x1="40" y1="503.75" x2="41.3" y2="503.75" stroke="#000" stroke-width="1.2" />
<line x1="40" y1="451.65" x2="41.3" y2="451.65" stroke="#000" stroke-width="1.2" />
<line x1="40" y1="399.55" x2="41.3" y2="399.55" stroke="#000" stroke-width="1.2" />
<line x1="53" y1="516.5" x2="53" y2="513.9" stroke="#000" stroke-width="1.2" />
<line x1="79.5" y1="516.5" x2="79.5" y2="513.9" stroke="#000" stroke-width="1.2" />
<line x1="106" y1="516.5" x2="106" y2="513.9" stroke="#000" stroke-width="1.2" />
<line x1="132.5" y1="516.5" x2="132.5" y2="513.9" stroke="#000" stroke-width="1.2" />
<line x1="159" y1="516.5" x2="159" y2="513.9" stroke="#000" stroke-width="1.2" />
<line x1="185.5" y1="516.5" x2="185.5" y2="513.9" stroke="#000" stroke-width="1.2" />
<line x1="212" y1="516.5" x2="212" y2="513.9" stroke="#000" stroke-width="1.2" />
<line x1="66.25" y1="516.5" x2="66.25" y2="515.2" stroke="#000" stroke-width="1.2" />
<line x1="92.75" y1="516.5" x2="92.75" y2="515.2" stroke="#000" stroke-width="1.2" />
<line x1="119.25" y1="516.5" x2="119.25" y2="515.2" stroke="#000" stroke-width="1.2" />
<line x1="145.75" y1="516.5" x2="145.75" y2="515.2" stroke="#000" stroke-width="1.2" />
<line x1="172.25" y1="516.5" x2="172.25" y2="515.2" stroke="#000" stroke-width="1.2" />
<line x1="198.75" y1="516.5" x2="198.75" y2="515.2" stroke="#000" stroke-width="1.2" />
<text transform="translate(36.6,481.6) scale(0.8,1)" font-size="12" text-anchor="end" font-weight="bold">0.7</text>
<text transform="translate(36.6,429.5) scale(0.8,1)" font-size="12" text-anchor="end" font-weight="bold">0.8</text>
<text transform="translate(36.6,377.4) scale(0.8,1)" font-size="12" text-anchor="end" font-weight="bold">0.9</text>
<text x="53" y="527" font-size="10.2" text-anchor="middle" font-weight="bold" >1.0</text>
<text x="79.5" y="527" font-size="10.2" text-anchor="middle" font-weight="bold" >1.5</text>
<text x="106" y="527" font-size="10.2" text-anchor="middle" font-weight="bold" >2.0</text>
<text x="132.5" y="527" font-size="10.2" text-anchor="middle" font-weight="bold" >2.5</text>
<text x="159" y="527" font-size="10.2" text-anchor="middle" font-weight="bold" >3.0</text>
<text x="185.5" y="527" font-size="10.2" text-anchor="middle" font-weight="bold" >3.5</text>
<text x="212" y="527" font-size="10.2" text-anchor="middle" font-weight="bold" >4.0</text>
<text x="126.5" y="537" font-size="10.8" text-anchor="middle" font-weight="bold" >Time (h)</text>
<text transform="translate(20.1,438.5) rotate(-90)" font-size="11.1" text-anchor="middle" font-weight="bold">CH<tspan font-size="7.99" dy="2.5">4</tspan><tspan dy="-2.5"> (μmol g</tspan><tspan font-size="7.99" dy="-4.2">-1</tspan><tspan font-size="7.99" dy="6.7">cat</tspan><tspan dy="-2.5">)</tspan></text>
<text x="44.3" y="377.6" font-size="19.5" text-anchor="start" font-weight="bold" >g</text>
<line x1="107.2" y1="375.4" x2="130.7" y2="375.4" stroke="#e6b520" stroke-width="1.5" />
<rect x="116.3" y="372.8" width="5.2" height="5.2" fill="#e6b520" stroke="#222" stroke-width="0.9"/>
<text x="134.7" y="379.4" font-size="11" text-anchor="start" font-weight="bold" >CN</text>
<line x1="107.2" y1="389.7" x2="130.7" y2="389.7" stroke="#2f66a8" stroke-width="1.5" />
<circle cx="118.9" cy="389.7" r="2.73" fill="#3466a6" stroke="#222" stroke-width="0.9"/>
<text x="134.7" y="393.7" font-size="11" text-anchor="start" font-weight="bold" >MC</text>
<line x1="156.2" y1="375.4" x2="179.7" y2="375.4" stroke="#3fd8c4" stroke-width="1.5" />
<path d="M167.9 372.41 L170.89 377.94 L164.91 377.94 Z" fill="#3fd0bc" stroke="#222" stroke-width="0.9"/>
<text x="181.7" y="379.4" font-size="10.2" text-anchor="start" font-weight="bold" >MCIrNP</text>
<line x1="156.2" y1="389.7" x2="179.7" y2="389.7" stroke="#dd3333" stroke-width="1.5" />
<path d="M167.9 392.69 L170.89 387.16 L164.91 387.16 Z" fill="#dd3333" stroke="#222" stroke-width="0.9"/>
<text x="181.7" y="393.7" font-size="10.2" text-anchor="start" font-weight="bold" >MCIrSA</text>
<path d="M275 509 L328.35 506.32 L381.7 505.03 L435.05 504.03" fill="none" stroke="#2aa8e8" stroke-width="1.5" stroke-linejoin="round" />
<path d="M275 502.5 L328.35 499.83 L381.7 499.45 L435.05 499.45" fill="none" stroke="#555555" stroke-width="1.5" stroke-linejoin="round" />
<path d="M275 494.1 L328.35 491.04 L381.7 487.99 L435.05 483.4" fill="none" stroke="#dd3333" stroke-width="1.5" stroke-linejoin="round" />
<path d="M275 448.64 L328.35 434.81 L381.7 412.35 L435.05 379.5" fill="none" stroke="#2db84a" stroke-width="1.5" stroke-linejoin="round" />
<path d="M275 505.55 L278.45 511.93 L271.55 511.93 Z" fill="#2aa8e8" stroke="#222" stroke-width="0.9"/>
<path d="M328.35 502.87 L331.8 509.26 L324.9 509.26 Z" fill="#2aa8e8" stroke="#222" stroke-width="0.9"/>
<path d="M381.7 501.58 L385.15 507.96 L378.25 507.96 Z" fill="#2aa8e8" stroke="#222" stroke-width="0.9"/>
<path d="M435.05 500.58 L438.5 506.96 L431.6 506.96 Z" fill="#2aa8e8" stroke="#222" stroke-width="0.9"/>
<rect x="272" y="499.5" width="6" height="6" fill="#858585" stroke="#222" stroke-width="0.9"/>
<rect x="325.35" y="496.83" width="6" height="6" fill="#858585" stroke="#222" stroke-width="0.9"/>
<rect x="378.7" y="496.45" width="6" height="6" fill="#858585" stroke="#222" stroke-width="0.9"/>
<rect x="432.05" y="496.45" width="6" height="6" fill="#858585" stroke="#222" stroke-width="0.9"/>
<path d="M275 497.55 L278.45 491.17 L271.55 491.17 Z" fill="#dd3333" stroke="#222" stroke-width="0.9"/>
<path d="M328.35 494.49 L331.8 488.11 L324.9 488.11 Z" fill="#dd3333" stroke="#222" stroke-width="0.9"/>
<path d="M381.7 491.44 L385.15 485.06 L378.25 485.06 Z" fill="#dd3333" stroke="#222" stroke-width="0.9"/>
<path d="M435.05 486.85 L438.5 480.47 L431.6 480.47 Z" fill="#dd3333" stroke="#222" stroke-width="0.9"/>
<circle cx="275" cy="448.64" r="3.15" fill="#3cb85a" stroke="#222" stroke-width="0.9"/>
<circle cx="328.35" cy="434.81" r="3.15" fill="#3cb85a" stroke="#222" stroke-width="0.9"/>
<circle cx="381.7" cy="412.35" r="3.15" fill="#3cb85a" stroke="#222" stroke-width="0.9"/>
<circle cx="435.05" cy="379.5" r="3.15" fill="#3cb85a" stroke="#222" stroke-width="0.9"/>
<rect x="262" y="360.3" width="186.4" height="152.9" fill="none" stroke="#000" stroke-width="1.7"/>
<line x1="262" y1="513.2" x2="264.6" y2="513.2" stroke="#000" stroke-width="1.2" />
<line x1="262" y1="475" x2="264.6" y2="475" stroke="#000" stroke-width="1.2" />
<line x1="262" y1="436.8" x2="264.6" y2="436.8" stroke="#000" stroke-width="1.2" />
<line x1="262" y1="398.6" x2="264.6" y2="398.6" stroke="#000" stroke-width="1.2" />
<line x1="262" y1="360.4" x2="264.6" y2="360.4" stroke="#000" stroke-width="1.2" />
<line x1="262" y1="494.1" x2="263.3" y2="494.1" stroke="#000" stroke-width="1.2" />
<line x1="262" y1="455.9" x2="263.3" y2="455.9" stroke="#000" stroke-width="1.2" />
<line x1="262" y1="417.7" x2="263.3" y2="417.7" stroke="#000" stroke-width="1.2" />
<line x1="262" y1="379.5" x2="263.3" y2="379.5" stroke="#000" stroke-width="1.2" />
<line x1="275" y1="513.2" x2="275" y2="510.6" stroke="#000" stroke-width="1.2" />
<line x1="301.68" y1="513.2" x2="301.68" y2="510.6" stroke="#000" stroke-width="1.2" />
<line x1="328.35" y1="513.2" x2="328.35" y2="510.6" stroke="#000" stroke-width="1.2" />
<line x1="355.02" y1="513.2" x2="355.02" y2="510.6" stroke="#000" stroke-width="1.2" />
<line x1="381.7" y1="513.2" x2="381.7" y2="510.6" stroke="#000" stroke-width="1.2" />
<line x1="408.38" y1="513.2" x2="408.38" y2="510.6" stroke="#000" stroke-width="1.2" />
<line x1="435.05" y1="513.2" x2="435.05" y2="510.6" stroke="#000" stroke-width="1.2" />
<line x1="288.34" y1="513.2" x2="288.34" y2="511.9" stroke="#000" stroke-width="1.2" />
<line x1="315.01" y1="513.2" x2="315.01" y2="511.9" stroke="#000" stroke-width="1.2" />
<line x1="341.69" y1="513.2" x2="341.69" y2="511.9" stroke="#000" stroke-width="1.2" />
<line x1="368.36" y1="513.2" x2="368.36" y2="511.9" stroke="#000" stroke-width="1.2" />
<line x1="395.04" y1="513.2" x2="395.04" y2="511.9" stroke="#000" stroke-width="1.2" />
<line x1="421.71" y1="513.2" x2="421.71" y2="511.9" stroke="#000" stroke-width="1.2" />
<text x="258.3" y="516.5" font-size="9.5" text-anchor="end" font-weight="bold" >0</text>
<text x="258.3" y="478.3" font-size="9.5" text-anchor="end" font-weight="bold" >50</text>
<text x="258.3" y="440.1" font-size="9.5" text-anchor="end" font-weight="bold" >100</text>
<text x="258.3" y="401.9" font-size="9.5" text-anchor="end" font-weight="bold" >150</text>
<text x="258.3" y="363.7" font-size="9.5" text-anchor="end" font-weight="bold" >200</text>
<text x="275" y="524.3" font-size="10.2" text-anchor="middle" font-weight="bold" >1.0</text>
<text x="301.68" y="524.3" font-size="10.2" text-anchor="middle" font-weight="bold" >1.5</text>
<text x="328.35" y="524.3" font-size="10.2" text-anchor="middle" font-weight="bold" >2.0</text>
<text x="355.02" y="524.3" font-size="10.2" text-anchor="middle" font-weight="bold" >2.5</text>
<text x="381.7" y="524.3" font-size="10.2" text-anchor="middle" font-weight="bold" >3.0</text>
<text x="408.38" y="524.3" font-size="10.2" text-anchor="middle" font-weight="bold" >3.5</text>
<text x="435.05" y="524.3" font-size="10.2" text-anchor="middle" font-weight="bold" >4.0</text>
<text x="353.6" y="535" font-size="10.8" text-anchor="middle" font-weight="bold" >Time (h)</text>
<text transform="translate(238.8,437.4) rotate(-90)" font-size="10.45" text-anchor="middle" font-weight="bold">H<tspan font-size="7.52" dy="2.5">2</tspan><tspan dy="-2.5"> (μmol g</tspan><tspan font-size="7.52" dy="-4.2">-1</tspan><tspan font-size="7.52" dy="6.7">cat</tspan><tspan dy="-2.5">)</tspan></text>
<text x="270.4" y="378.6" font-size="19" text-anchor="start" font-weight="bold" >h</text>
<line x1="355.1" y1="428.4" x2="377.3" y2="428.4" stroke="#555555" stroke-width="1.5" />
<rect x="363.2" y="425.4" width="6" height="6" fill="#858585" stroke="#222" stroke-width="0.9"/>
<text x="381.6" y="432.4" font-size="10.6" text-anchor="start" font-weight="bold" >MC+PET</text>
<line x1="355.1" y1="441.67" x2="377.3" y2="441.67" stroke="#2db84a" stroke-width="1.5" />
<circle cx="366.2" cy="441.67" r="3.15" fill="#3cb85a" stroke="#222" stroke-width="0.9"/>
<text x="381.6" y="445.67" font-size="10.6" text-anchor="start" font-weight="bold" >MCIrSA+PET</text>
<line x1="355.1" y1="454.94" x2="377.3" y2="454.94" stroke="#2aa8e8" stroke-width="1.5" />
<path d="M366.2 451.49 L369.65 457.87 L362.75 457.87 Z" fill="#2aa8e8" stroke="#222" stroke-width="0.9"/>
<text x="381.6" y="458.94" font-size="10.6" text-anchor="start" font-weight="bold" >CN+PET</text>
<line x1="355.1" y1="468.21" x2="377.3" y2="468.21" stroke="#dd3333" stroke-width="1.5" />
<path d="M366.2 471.66 L369.65 465.28 L362.75 465.28 Z" fill="#dd3333" stroke="#222" stroke-width="0.9"/>
<text x="381.6" y="472.21" font-size="10.6" text-anchor="start" font-weight="bold" >CNIrSA+PET</text>
<path d="M495.7 497.41 L503.39 473.37 L518.78 443.58 L526.48 426.66 L534.18 411.77 L580.35 374.19 L595.74 373.18 L611.14 373.18 L672.7 373.18" fill="none" stroke="#d63636" stroke-width="1.3" stroke-linejoin="round" />
<circle cx="495.7" cy="497.41" r="3.15" fill="#d94848" stroke="#222" stroke-width="0.9"/>
<circle cx="503.39" cy="473.37" r="3.15" fill="#d94848" stroke="#222" stroke-width="0.9"/>
<circle cx="518.78" cy="443.58" r="3.15" fill="#d94848" stroke="#222" stroke-width="0.9"/>
<circle cx="526.48" cy="426.66" r="3.15" fill="#d94848" stroke="#222" stroke-width="0.9"/>
<circle cx="534.18" cy="411.77" r="3.15" fill="#d94848" stroke="#222" stroke-width="0.9"/>
<circle cx="580.35" cy="374.19" r="3.15" fill="#d94848" stroke="#222" stroke-width="0.9"/>
<circle cx="595.74" cy="373.18" r="3.15" fill="#d94848" stroke="#222" stroke-width="0.9"/>
<circle cx="611.14" cy="373.18" r="3.15" fill="#d94848" stroke="#222" stroke-width="0.9"/>
<circle cx="672.7" cy="373.18" r="3.15" fill="#d94848" stroke="#222" stroke-width="0.9"/>
<rect x="488" y="359.2" width="192.4" height="153.4" fill="none" stroke="#000" stroke-width="1.7"/>
<line x1="488" y1="512.3" x2="490.6" y2="512.3" stroke="#000" stroke-width="1.2" />
<line x1="488" y1="495.37" x2="490.6" y2="495.37" stroke="#000" stroke-width="1.2" />
<line x1="488" y1="478.45" x2="490.6" y2="478.45" stroke="#000" stroke-width="1.2" />
<line x1="488" y1="461.52" x2="490.6" y2="461.52" stroke="#000" stroke-width="1.2" />
<line x1="488" y1="444.6" x2="490.6" y2="444.6" stroke="#000" stroke-width="1.2" />
<line x1="488" y1="427.67" x2="490.6" y2="427.67" stroke="#000" stroke-width="1.2" />
<line x1="488" y1="410.75" x2="490.6" y2="410.75" stroke="#000" stroke-width="1.2" />
<line x1="488" y1="393.82" x2="490.6" y2="393.82" stroke="#000" stroke-width="1.2" />
<line x1="488" y1="376.9" x2="490.6" y2="376.9" stroke="#000" stroke-width="1.2" />
<line x1="488" y1="359.97" x2="490.6" y2="359.97" stroke="#000" stroke-width="1.2" />
<line x1="488" y1="503.84" x2="489.3" y2="503.84" stroke="#000" stroke-width="1.2" />
<line x1="488" y1="486.91" x2="489.3" y2="486.91" stroke="#000" stroke-width="1.2" />
<line x1="488" y1="469.99" x2="489.3" y2="469.99" stroke="#000" stroke-width="1.2" />
<line x1="488" y1="453.06" x2="489.3" y2="453.06" stroke="#000" stroke-width="1.2" />
<line x1="488" y1="436.14" x2="489.3" y2="436.14" stroke="#000" stroke-width="1.2" />
<line x1="488" y1="419.21" x2="489.3" y2="419.21" stroke="#000" stroke-width="1.2" />
<line x1="488" y1="402.29" x2="489.3" y2="402.29" stroke="#000" stroke-width="1.2" />
<line x1="488" y1="385.36" x2="489.3" y2="385.36" stroke="#000" stroke-width="1.2" />
<line x1="488" y1="368.44" x2="489.3" y2="368.44" stroke="#000" stroke-width="1.2" />
<line x1="488" y1="512.6" x2="488" y2="510" stroke="#000" stroke-width="1.2" />
<line x1="526.48" y1="512.6" x2="526.48" y2="510" stroke="#000" stroke-width="1.2" />
<line x1="564.96" y1="512.6" x2="564.96" y2="510" stroke="#000" stroke-width="1.2" />
<line x1="603.44" y1="512.6" x2="603.44" y2="510" stroke="#000" stroke-width="1.2" />
<line x1="641.92" y1="512.6" x2="641.92" y2="510" stroke="#000" stroke-width="1.2" />
<line x1="680.4" y1="512.6" x2="680.4" y2="510" stroke="#000" stroke-width="1.2" />
<line x1="507.24" y1="512.6" x2="507.24" y2="511.3" stroke="#000" stroke-width="1.2" />
<line x1="545.72" y1="512.6" x2="545.72" y2="511.3" stroke="#000" stroke-width="1.2" />
<line x1="584.2" y1="512.6" x2="584.2" y2="511.3" stroke="#000" stroke-width="1.2" />
<line x1="622.68" y1="512.6" x2="622.68" y2="511.3" stroke="#000" stroke-width="1.2" />
<line x1="661.16" y1="512.6" x2="661.16" y2="511.3" stroke="#000" stroke-width="1.2" />
<text x="485" y="515.9" font-size="10.2" text-anchor="end" font-weight="bold" >50</text>
<text x="485" y="498.97" font-size="10.2" text-anchor="end" font-weight="bold" >100</text>
<text x="485" y="482.05" font-size="10.2" text-anchor="end" font-weight="bold" >150</text>
<text x="485" y="465.12" font-size="10.2" text-anchor="end" font-weight="bold" >200</text>
<text x="485" y="448.2" font-size="10.2" text-anchor="end" font-weight="bold" >250</text>
<text x="485" y="431.27" font-size="10.2" text-anchor="end" font-weight="bold" >300</text>
<text x="485" y="414.35" font-size="10.2" text-anchor="end" font-weight="bold" >350</text>
<text x="485" y="397.42" font-size="10.2" text-anchor="end" font-weight="bold" >400</text>
<text x="485" y="380.5" font-size="10.2" text-anchor="end" font-weight="bold" >450</text>
<text x="485" y="363.57" font-size="10.2" text-anchor="end" font-weight="bold" >500</text>
<text x="488" y="522.5" font-size="10.2" text-anchor="middle" font-weight="bold" >0</text>
<text x="526.48" y="522.5" font-size="10.2" text-anchor="middle" font-weight="bold" >10</text>
<text x="564.96" y="522.5" font-size="10.2" text-anchor="middle" font-weight="bold" >20</text>
<text x="603.44" y="522.5" font-size="10.2" text-anchor="middle" font-weight="bold" >30</text>
<text x="641.92" y="522.5" font-size="10.2" text-anchor="middle" font-weight="bold" >40</text>
<text x="680.4" y="522.5" font-size="10.2" text-anchor="middle" font-weight="bold" >50</text>
<text x="584" y="532.6" font-size="10.8" text-anchor="middle" font-weight="bold" >Time (h)</text>
<text transform="translate(462.2,436.1) rotate(-90)" font-size="10.05" text-anchor="middle" font-weight="bold">H<tspan font-size="7.24" dy="2.5">2</tspan><tspan dy="-2.5"> (μmol g</tspan><tspan font-size="7.24" dy="-4.2">-1</tspan><tspan font-size="7.24" dy="6.7">cat</tspan><tspan dy="-2.5">)</tspan></text>
<text x="496.4" y="379.3" font-size="19" text-anchor="start" font-weight="bold" >i</text>
<line x1="572" y1="496.5" x2="598" y2="496.5" stroke="#d63636" stroke-width="1.3" />
<circle cx="585" cy="496.5" r="3.15" fill="#d94848" stroke="#222" stroke-width="0.9"/>
<text x="602" y="500.9" font-size="11.8" text-anchor="start" font-weight="bold" >MCIrSA PET</text>
</svg></body></html>
